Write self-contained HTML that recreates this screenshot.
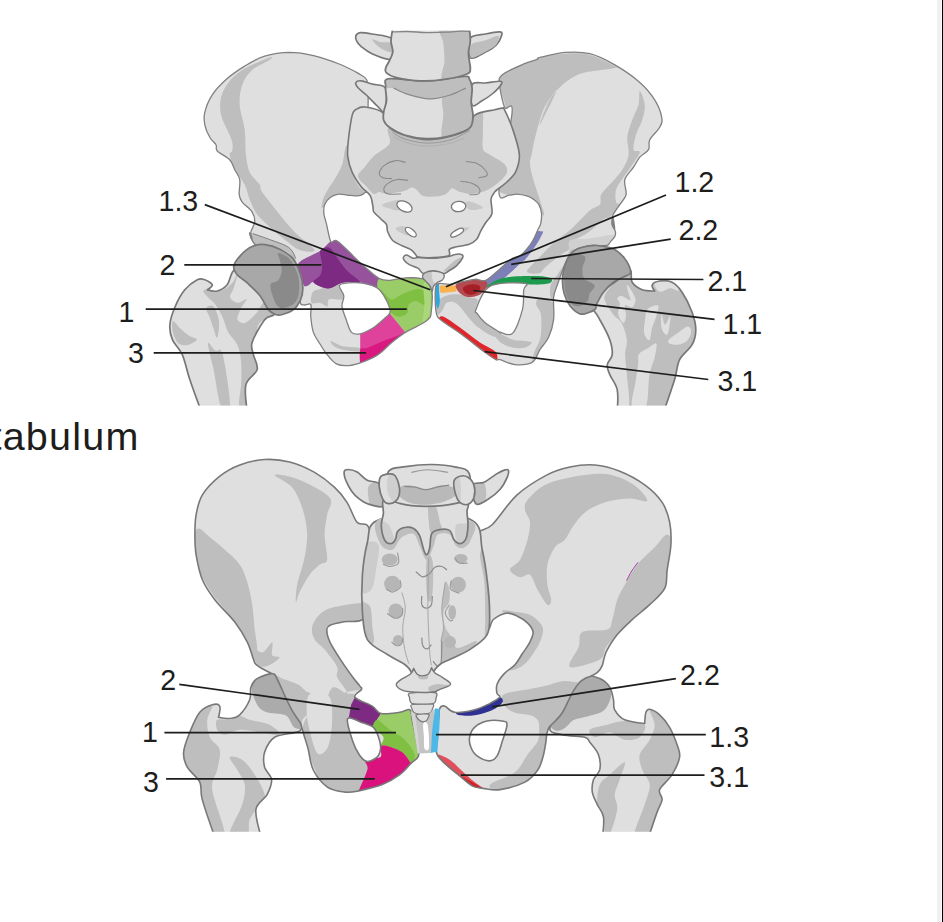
<!DOCTYPE html>
<html><head><meta charset="utf-8"><title>Pelvis</title>
<style>
html,body{margin:0;padding:0;background:#fff;overflow:hidden}
body{width:943px;height:922px;position:relative;font-family:"Liberation Sans",sans-serif}
svg{position:absolute;left:0;top:0}
svg text{font-family:"Liberation Sans",sans-serif;fill:#1d1d1b}
.cap{position:absolute;left:-9.6px;top:410.5px;font-size:39.5px;line-height:50px;letter-spacing:1.25px;color:#1d1d1b;white-space:nowrap}
.bar{position:absolute;top:0;height:922px}
</style></head><body>
<div class="cap">tabulum</div>
<div class="bar" style="left:937px;width:4px;background:#f0f0f0"></div>
<div class="bar" style="left:942px;width:1px;background:#000"></div>
<svg width="943" height="922" viewBox="0 0 943 922">
<clipPath id="c1"><path d="M289.6,52.4 C281.3,52.5 272.1,53.9 264.7,56.2 C257.2,58.5 250.9,62.4 244.7,66.1 C238.5,69.9 232.6,73.8 227.2,78.6 C221.8,83.4 216.0,89.2 212.3,94.8 C208.5,100.4 206.0,107.3 204.8,112.3 C203.5,117.3 204.0,120.6 204.8,124.8 C205.6,128.9 207.9,133.9 209.8,137.2 C211.6,140.6 214.8,142.4 216.0,144.7 C217.3,147.0 215.0,148.5 217.3,151.0 C219.5,153.4 226.8,156.6 229.7,159.7 C232.6,162.8 233.1,166.3 234.7,169.7 C236.4,173.0 239.0,175.5 239.7,179.6 C240.5,183.8 238.8,190.9 239.2,194.6 C239.6,198.3 240.0,199.2 242.2,202.1 C244.4,205.0 250.1,208.7 252.2,212.1 C254.3,215.4 254.9,218.7 254.7,222.0 C254.5,225.4 251.3,229.1 250.9,232.0 C250.5,234.9 252.4,239.4 252.2,239.5 C251.9,239.6 249.7,232.9 249.5,232.8 C249.4,232.7 250.3,236.9 251.3,238.9 C252.3,240.9 253.2,242.5 255.6,245.0 C258.1,247.4 261.4,250.9 266.0,253.6 C270.7,256.4 278.2,259.4 283.4,261.4 C288.6,263.5 294.3,261.5 297.3,265.8 C300.2,270.1 300.7,281.1 301.2,287.3 C301.8,293.5 299.8,299.9 300.4,302.9 C300.9,305.8 303.0,304.7 304.7,305.0 C306.4,305.3 309.8,302.7 310.8,304.6 C311.8,306.6 310.3,312.1 310.8,316.8 C311.2,321.4 311.8,327.8 313.4,332.4 C315.0,337.0 318.0,340.8 320.3,344.5 C322.6,348.3 324.7,351.8 327.3,354.9 C329.9,358.1 332.8,361.8 335.9,363.6 C339.1,365.4 342.3,365.8 346.4,365.7 C350.4,365.6 355.0,364.5 360.2,362.8 C365.4,361.0 372.4,358.3 377.6,354.9 C382.8,351.6 386.8,346.6 391.5,342.8 C396.1,339.0 400.0,335.7 405.4,332.4 C410.7,329.1 419.7,325.2 423.6,322.8 C427.5,320.5 427.6,319.8 428.8,318.5 C430.0,317.2 430.3,318.7 430.9,315.0 C431.4,311.4 432.3,301.3 432.3,296.5 C432.3,291.7 431.7,288.8 430.9,286.2 C430.0,283.7 428.5,282.5 427.0,281.2 C425.6,279.9 425.6,279.1 422.0,278.6 C418.4,278.0 410.7,277.6 405.4,277.9 C400.0,278.2 394.1,280.2 389.7,280.3 C385.4,280.4 383.1,280.5 379.3,278.6 C375.6,276.7 371.2,272.5 367.2,269.0 C363.1,265.6 358.8,261.4 355.0,257.8 C351.3,254.2 347.8,250.2 344.6,247.4 C341.4,244.5 338.3,241.4 335.9,240.4 C333.6,239.4 332.3,244.1 330.7,241.3 C329.2,238.5 327.6,228.4 326.4,223.7 C325.3,219.0 324.1,216.5 323.8,213.3 C323.6,210.1 323.7,207.2 324.7,204.6 C325.7,202.0 327.6,199.4 329.9,197.7 C332.2,195.9 335.7,194.6 338.6,194.2 C341.5,193.8 344.4,194.8 347.3,195.1 C350.2,195.4 353.2,196.2 355.9,195.9 C358.7,195.7 361.7,195.8 363.8,193.5 C365.8,191.2 367.4,195.8 368.1,182.1 C368.8,168.3 368.1,126.1 368.1,111.1 C368.1,96.1 368.3,97.3 368.1,92.0 C367.8,86.8 368.3,82.8 366.6,79.7 C364.9,76.5 362.2,75.7 357.9,73.1 C353.5,70.6 347.8,67.4 340.5,64.5 C333.3,61.6 323.0,57.8 314.5,55.8 C306.0,53.8 297.9,52.4 289.6,52.4 Z M339.4,285.5 C340.1,283.4 344.0,283.3 348.1,282.9 C352.1,282.6 358.8,282.6 363.7,283.4 C368.6,284.3 374.1,285.9 377.6,288.1 C381.1,290.4 382.5,293.5 384.5,296.8 C386.6,300.1 388.9,305.3 389.7,308.1 C390.6,310.8 390.6,311.6 389.7,313.3 C388.9,315.0 387.1,316.2 384.5,318.5 C381.9,320.8 378.2,324.6 374.1,327.2 C370.1,329.7 364.0,332.9 360.2,333.8 C356.5,334.6 353.9,334.6 351.6,332.4 C349.2,330.1 347.9,324.6 346.4,320.2 C344.8,315.9 342.5,310.4 342.0,306.4 C341.6,302.3 344.2,299.4 343.8,295.9 C343.3,292.5 338.7,287.7 339.4,285.5 Z" fill-rule="evenodd" clip-rule="evenodd"/></clipPath>
<path d="M289.6,52.4 C281.3,52.5 272.1,53.9 264.7,56.2 C257.2,58.5 250.9,62.4 244.7,66.1 C238.5,69.9 232.6,73.8 227.2,78.6 C221.8,83.4 216.0,89.2 212.3,94.8 C208.5,100.4 206.0,107.3 204.8,112.3 C203.5,117.3 204.0,120.6 204.8,124.8 C205.6,128.9 207.9,133.9 209.8,137.2 C211.6,140.6 214.8,142.4 216.0,144.7 C217.3,147.0 215.0,148.5 217.3,151.0 C219.5,153.4 226.8,156.6 229.7,159.7 C232.6,162.8 233.1,166.3 234.7,169.7 C236.4,173.0 239.0,175.5 239.7,179.6 C240.5,183.8 238.8,190.9 239.2,194.6 C239.6,198.3 240.0,199.2 242.2,202.1 C244.4,205.0 250.1,208.7 252.2,212.1 C254.3,215.4 254.9,218.7 254.7,222.0 C254.5,225.4 251.3,229.1 250.9,232.0 C250.5,234.9 252.4,239.4 252.2,239.5 C251.9,239.6 249.7,232.9 249.5,232.8 C249.4,232.7 250.3,236.9 251.3,238.9 C252.3,240.9 253.2,242.5 255.6,245.0 C258.1,247.4 261.4,250.9 266.0,253.6 C270.7,256.4 278.2,259.4 283.4,261.4 C288.6,263.5 294.3,261.5 297.3,265.8 C300.2,270.1 300.7,281.1 301.2,287.3 C301.8,293.5 299.8,299.9 300.4,302.9 C300.9,305.8 303.0,304.7 304.7,305.0 C306.4,305.3 309.8,302.7 310.8,304.6 C311.8,306.6 310.3,312.1 310.8,316.8 C311.2,321.4 311.8,327.8 313.4,332.4 C315.0,337.0 318.0,340.8 320.3,344.5 C322.6,348.3 324.7,351.8 327.3,354.9 C329.9,358.1 332.8,361.8 335.9,363.6 C339.1,365.4 342.3,365.8 346.4,365.7 C350.4,365.6 355.0,364.5 360.2,362.8 C365.4,361.0 372.4,358.3 377.6,354.9 C382.8,351.6 386.8,346.6 391.5,342.8 C396.1,339.0 400.0,335.7 405.4,332.4 C410.7,329.1 419.7,325.2 423.6,322.8 C427.5,320.5 427.6,319.8 428.8,318.5 C430.0,317.2 430.3,318.7 430.9,315.0 C431.4,311.4 432.3,301.3 432.3,296.5 C432.3,291.7 431.7,288.8 430.9,286.2 C430.0,283.7 428.5,282.5 427.0,281.2 C425.6,279.9 425.6,279.1 422.0,278.6 C418.4,278.0 410.7,277.6 405.4,277.9 C400.0,278.2 394.1,280.2 389.7,280.3 C385.4,280.4 383.1,280.5 379.3,278.6 C375.6,276.7 371.2,272.5 367.2,269.0 C363.1,265.6 358.8,261.4 355.0,257.8 C351.3,254.2 347.8,250.2 344.6,247.4 C341.4,244.5 338.3,241.4 335.9,240.4 C333.6,239.4 332.3,244.1 330.7,241.3 C329.2,238.5 327.6,228.4 326.4,223.7 C325.3,219.0 324.1,216.5 323.8,213.3 C323.6,210.1 323.7,207.2 324.7,204.6 C325.7,202.0 327.6,199.4 329.9,197.7 C332.2,195.9 335.7,194.6 338.6,194.2 C341.5,193.8 344.4,194.8 347.3,195.1 C350.2,195.4 353.2,196.2 355.9,195.9 C358.7,195.7 361.7,195.8 363.8,193.5 C365.8,191.2 367.4,195.8 368.1,182.1 C368.8,168.3 368.1,126.1 368.1,111.1 C368.1,96.1 368.3,97.3 368.1,92.0 C367.8,86.8 368.3,82.8 366.6,79.7 C364.9,76.5 362.2,75.7 357.9,73.1 C353.5,70.6 347.8,67.4 340.5,64.5 C333.3,61.6 323.0,57.8 314.5,55.8 C306.0,53.8 297.9,52.4 289.6,52.4 Z M339.4,285.5 C340.1,283.4 344.0,283.3 348.1,282.9 C352.1,282.6 358.8,282.6 363.7,283.4 C368.6,284.3 374.1,285.9 377.6,288.1 C381.1,290.4 382.5,293.5 384.5,296.8 C386.6,300.1 388.9,305.3 389.7,308.1 C390.6,310.8 390.6,311.6 389.7,313.3 C388.9,315.0 387.1,316.2 384.5,318.5 C381.9,320.8 378.2,324.6 374.1,327.2 C370.1,329.7 364.0,332.9 360.2,333.8 C356.5,334.6 353.9,334.6 351.6,332.4 C349.2,330.1 347.9,324.6 346.4,320.2 C344.8,315.9 342.5,310.4 342.0,306.4 C341.6,302.3 344.2,299.4 343.8,295.9 C343.3,292.5 338.7,287.7 339.4,285.5 Z" fill="#dfdfdf" fill-rule="evenodd" clip-rule="evenodd"/>
<g clip-path="url(#c1)">
<path d="M269.6,57.4 C265.5,58.9 251.3,64.7 244.7,68.6 C238.0,72.6 233.7,76.3 229.7,81.1 C225.8,85.9 222.5,91.7 221.0,97.3 C219.5,102.9 220.0,109.4 221.0,114.8 C222.0,120.2 225.4,125.2 227.2,129.8 C229.1,134.3 231.4,138.7 232.2,142.2 C233.1,145.8 232.6,148.9 232.2,151.0 C231.8,153.0 229.3,151.6 229.7,154.7 C230.1,157.8 232.2,164.7 234.7,169.7 C237.2,174.7 242.2,179.6 244.7,184.6 C247.2,189.6 247.6,194.6 249.7,199.6 C251.8,204.6 253.8,210.0 257.2,214.6 C260.5,219.1 265.1,222.9 269.6,227.0 C274.2,231.2 279.6,235.7 284.6,239.5 C289.6,243.3 294.6,248.2 299.6,250.0 C304.6,251.7 315.4,253.0 314.5,250.0 C313.7,247.0 300.4,237.9 294.6,232.0 C288.8,226.1 285.0,221.2 279.6,214.6 C274.2,207.9 265.5,197.1 262.2,192.1 C258.8,187.1 261.7,188.0 259.7,184.6 C257.6,181.3 252.0,177.1 249.7,172.2 C247.4,167.2 246.8,161.8 245.9,154.7 C245.1,147.6 245.7,138.1 244.7,129.8 C243.7,121.4 240.1,112.3 239.7,104.8 C239.3,97.3 240.1,90.7 242.2,84.9 C244.3,79.0 247.6,74.0 252.2,69.9 C256.8,65.7 266.7,62.0 269.6,59.9 C272.6,57.8 273.8,56.0 269.6,57.4 Z" fill="#bebebe"/>
<path d="M345.5,147.4 C344.5,150.2 343.8,159.5 342.1,164.7 C340.3,169.9 337.4,174.5 335.1,178.6 C332.8,182.6 330.2,185.5 328.2,189.0 C326.2,192.5 324.0,196.2 323.0,199.4 C322.0,202.6 320.9,208.4 322.1,208.1 C323.3,207.8 327.2,200.0 329.9,197.7 C332.7,195.4 335.7,194.6 338.6,194.2 C341.5,193.8 344.4,194.8 347.3,195.1 C350.2,195.4 352.8,196.4 355.9,195.9 C359.1,195.5 365.8,193.9 366.4,192.5 C366.9,191.0 361.7,190.2 359.4,187.3 C357.1,184.4 354.1,179.5 352.5,175.1 C350.9,170.8 350.6,165.9 349.9,161.2 C349.1,156.6 348.9,149.7 348.1,147.4 C347.4,145.0 346.5,144.5 345.5,147.4 Z" fill="#bebebe"/>
<path d="M253.0,233.7 C256.1,234.0 264.9,237.7 270.4,239.8 C275.9,241.8 282.4,243.9 286.0,245.8 C289.6,247.7 290.5,249.0 292.1,251.0 C293.7,253.1 295.2,256.2 295.5,258.0 C295.8,259.7 295.0,262.3 293.8,261.4 C292.6,260.6 291.8,255.1 288.6,252.8 C285.4,250.5 280.2,248.7 274.7,247.6 C269.2,246.4 259.4,247.4 255.6,245.8 C251.9,244.2 252.6,240.0 252.1,238.0 C251.7,236.0 250.0,233.4 253.0,233.7 Z" fill="#bebebe"/>
<path d="M312.5,292.5 C314.0,290.2 315.8,290.3 320.3,289.0 C324.8,287.7 335.7,283.5 339.4,284.7 C343.2,285.8 342.6,293.5 342.9,295.9 C343.2,298.4 343.5,298.8 341.1,299.4 C338.8,300.0 331.3,298.3 329.0,299.4 C326.7,300.6 328.7,305.8 327.3,306.4 C325.8,306.9 322.9,303.5 320.3,302.9 C317.7,302.3 313.0,304.6 311.6,302.9 C310.3,301.1 311.1,294.8 312.5,292.5 Z" fill="#bebebe"/>
<path d="M330.7,341.1 C332.2,341.1 338.0,345.1 342.9,346.3 C347.8,347.4 357.3,347.1 360.2,348.0 C363.1,348.9 363.1,351.2 360.2,351.5 C357.3,351.8 347.2,350.6 342.9,349.7 C338.5,348.9 336.2,347.7 334.2,346.3 C332.2,344.8 329.3,341.1 330.7,341.1 Z" fill="#bebebe"/>
<path d="M298.6,263.0 C301.8,258.9 315.0,254.4 320.3,250.8 C325.7,247.2 328.1,243.0 330.7,241.3 C333.3,239.5 333.6,239.4 335.9,240.4 C338.3,241.4 341.4,244.5 344.6,247.4 C347.8,250.2 351.3,254.2 355.0,257.8 C358.8,261.4 363.1,265.6 367.2,269.0 C371.2,272.5 377.6,275.6 379.3,278.6 C381.1,281.6 380.2,286.5 377.6,287.3 C375.0,288.0 368.6,283.8 363.7,282.9 C358.8,282.1 352.1,281.9 348.1,282.1 C344.0,282.2 342.3,282.8 339.4,283.8 C336.5,284.8 333.6,287.6 330.7,288.1 C327.8,288.7 325.0,288.3 322.1,287.3 C319.2,286.3 315.7,282.3 313.4,282.1 C311.1,281.8 309.8,285.0 308.2,285.5 C306.6,286.1 305.0,287.3 303.8,285.5 C302.7,283.8 302.1,278.9 301.2,275.1 C300.4,271.4 295.5,267.0 298.6,263.0 Z" fill="#97529d"/>
<path d="M320.3,250.8 C321.5,247.9 326.4,246.5 329.0,247.4 C331.6,248.2 333.1,252.3 335.9,256.0 C338.8,259.8 342.3,265.6 346.4,269.9 C350.4,274.3 359.9,280.0 360.2,282.1 C360.5,284.1 351.6,281.8 348.1,282.1 C344.6,282.3 342.3,282.8 339.4,283.8 C336.5,284.8 333.6,287.6 330.7,288.1 C327.8,288.7 325.0,288.3 322.1,287.3 C319.2,286.3 313.7,284.1 313.4,282.1 C313.1,280.0 318.9,278.0 320.3,275.1 C321.8,272.2 322.1,268.8 322.1,264.7 C322.1,260.7 319.2,253.7 320.3,250.8 Z" fill="#7d2a83"/>
<path d="M379.3,278.6 C381.4,277.3 386.0,280.7 389.7,280.3 C393.5,280.0 397.0,277.1 401.9,276.5 C406.8,275.9 414.6,276.0 419.2,276.5 C423.9,277.0 427.0,277.7 429.7,279.5 C432.3,281.3 434.0,283.4 434.9,287.3 C435.7,291.2 435.1,298.0 434.9,302.9 C434.6,307.8 434.9,313.2 433.1,316.8 C431.4,320.4 429.1,322.0 424.4,324.6 C419.8,327.2 405.4,332.4 405.4,332.4 C405.4,332.4 389.7,313.3 389.7,313.3 C389.7,313.3 390.6,310.8 389.7,308.1 C388.9,305.3 386.6,300.1 384.5,296.8 C382.5,293.5 378.5,291.2 377.6,288.1 C376.7,285.1 377.3,279.9 379.3,278.6 Z" fill="#9acc67"/>
<path d="M381.1,289.9 C382.2,290.3 388.0,298.7 391.5,299.4 C394.9,300.1 397.5,295.9 401.9,294.2 C406.2,292.5 413.7,289.3 417.5,289.0 C421.3,288.7 423.3,289.9 424.4,292.5 C425.6,295.1 425.9,303.2 424.4,304.6 C423.0,306.1 418.4,301.1 415.8,301.1 C413.2,301.1 410.3,302.6 408.8,304.6 C407.4,306.6 408.8,311.3 407.1,313.3 C405.4,315.3 401.3,317.2 398.4,316.8 C395.5,316.3 391.5,313.0 389.7,310.7 C388.0,308.4 388.9,305.2 388.0,302.9 C387.1,300.6 385.7,299.0 384.5,296.8 C383.4,294.6 379.9,289.4 381.1,289.9 Z" fill="#7fc043"/>
<path d="M424.4,282.1 C425.2,280.9 426.9,281.5 427.9,283.8 C428.9,286.1 430.2,291.0 430.5,295.9 C430.8,300.9 430.4,309.2 429.7,313.3 C428.9,317.3 427.3,318.8 426.2,320.2 C425.0,321.7 423.0,324.6 422.7,322.0 C422.4,319.4 424.3,309.8 424.4,304.6 C424.6,299.4 423.6,294.5 423.6,290.7 C423.6,287.0 423.7,283.2 424.4,282.1 Z" fill="#aad77c"/>
<path d="M389.7,313.3 C389.7,313.3 405.4,332.4 405.4,332.4 C405.4,332.4 396.1,340.5 391.5,344.5 C386.8,348.6 382.8,353.4 377.6,356.7 C372.4,360.0 360.2,364.5 360.2,364.5 C360.2,364.5 360.2,332.4 360.2,332.4 C360.2,332.4 370.1,328.8 374.1,326.3 C378.2,323.9 381.9,319.8 384.5,317.6 C387.1,315.5 389.7,313.3 389.7,313.3 Z" fill="#df429a"/>
<path d="M360.2,349.7 C361.4,347.0 363.7,349.3 367.2,348.0 C370.7,346.7 376.4,343.8 381.1,341.9 C385.7,340.1 390.9,338.3 394.9,336.7 C399.0,335.1 405.4,332.4 405.4,332.4 C405.4,332.4 396.1,340.5 391.5,344.5 C386.8,348.6 382.8,353.4 377.6,356.7 C372.4,360.0 360.2,364.5 360.2,364.5 C360.2,364.5 359.1,352.5 360.2,349.7 Z" fill="#d91980"/>
</g>
<path d="M289.6,52.4 C281.3,52.5 272.1,53.9 264.7,56.2 C257.2,58.5 250.9,62.4 244.7,66.1 C238.5,69.9 232.6,73.8 227.2,78.6 C221.8,83.4 216.0,89.2 212.3,94.8 C208.5,100.4 206.0,107.3 204.8,112.3 C203.5,117.3 204.0,120.6 204.8,124.8 C205.6,128.9 207.9,133.9 209.8,137.2 C211.6,140.6 214.8,142.4 216.0,144.7 C217.3,147.0 215.0,148.5 217.3,151.0 C219.5,153.4 226.8,156.6 229.7,159.7 C232.6,162.8 233.1,166.3 234.7,169.7 C236.4,173.0 239.0,175.5 239.7,179.6 C240.5,183.8 238.8,190.9 239.2,194.6 C239.6,198.3 240.0,199.2 242.2,202.1 C244.4,205.0 250.1,208.7 252.2,212.1 C254.3,215.4 254.9,218.7 254.7,222.0 C254.5,225.4 251.3,229.1 250.9,232.0 C250.5,234.9 252.4,239.4 252.2,239.5 C251.9,239.6 249.7,232.9 249.5,232.8 C249.4,232.7 250.3,236.9 251.3,238.9 C252.3,240.9 253.2,242.5 255.6,245.0 C258.1,247.4 261.4,250.9 266.0,253.6 C270.7,256.4 278.2,259.4 283.4,261.4 C288.6,263.5 294.3,261.5 297.3,265.8 C300.2,270.1 300.7,281.1 301.2,287.3 C301.8,293.5 299.8,299.9 300.4,302.9 C300.9,305.8 303.0,304.7 304.7,305.0 C306.4,305.3 309.8,302.7 310.8,304.6 C311.8,306.6 310.3,312.1 310.8,316.8 C311.2,321.4 311.8,327.8 313.4,332.4 C315.0,337.0 318.0,340.8 320.3,344.5 C322.6,348.3 324.7,351.8 327.3,354.9 C329.9,358.1 332.8,361.8 335.9,363.6 C339.1,365.4 342.3,365.8 346.4,365.7 C350.4,365.6 355.0,364.5 360.2,362.8 C365.4,361.0 372.4,358.3 377.6,354.9 C382.8,351.6 386.8,346.6 391.5,342.8 C396.1,339.0 400.0,335.7 405.4,332.4 C410.7,329.1 419.7,325.2 423.6,322.8 C427.5,320.5 427.6,319.8 428.8,318.5 C430.0,317.2 430.3,318.7 430.9,315.0 C431.4,311.4 432.3,301.3 432.3,296.5 C432.3,291.7 431.7,288.8 430.9,286.2 C430.0,283.7 428.5,282.5 427.0,281.2 C425.6,279.9 425.6,279.1 422.0,278.6 C418.4,278.0 410.7,277.6 405.4,277.9 C400.0,278.2 394.1,280.2 389.7,280.3 C385.4,280.4 383.1,280.5 379.3,278.6 C375.6,276.7 371.2,272.5 367.2,269.0 C363.1,265.6 358.8,261.4 355.0,257.8 C351.3,254.2 347.8,250.2 344.6,247.4 C341.4,244.5 338.3,241.4 335.9,240.4 C333.6,239.4 332.3,244.1 330.7,241.3 C329.2,238.5 327.6,228.4 326.4,223.7 C325.3,219.0 324.1,216.5 323.8,213.3 C323.6,210.1 323.7,207.2 324.7,204.6 C325.7,202.0 327.6,199.4 329.9,197.7 C332.2,195.9 335.7,194.6 338.6,194.2 C341.5,193.8 344.4,194.8 347.3,195.1 C350.2,195.4 353.2,196.2 355.9,195.9 C358.7,195.7 361.7,195.8 363.8,193.5 C365.8,191.2 367.4,195.8 368.1,182.1 C368.8,168.3 368.1,126.1 368.1,111.1 C368.1,96.1 368.3,97.3 368.1,92.0 C367.8,86.8 368.3,82.8 366.6,79.7 C364.9,76.5 362.2,75.7 357.9,73.1 C353.5,70.6 347.8,67.4 340.5,64.5 C333.3,61.6 323.0,57.8 314.5,55.8 C306.0,53.8 297.9,52.4 289.6,52.4 Z M339.4,285.5 C340.1,283.4 344.0,283.3 348.1,282.9 C352.1,282.6 358.8,282.6 363.7,283.4 C368.6,284.3 374.1,285.9 377.6,288.1 C381.1,290.4 382.5,293.5 384.5,296.8 C386.6,300.1 388.9,305.3 389.7,308.1 C390.6,310.8 390.6,311.6 389.7,313.3 C388.9,315.0 387.1,316.2 384.5,318.5 C381.9,320.8 378.2,324.6 374.1,327.2 C370.1,329.7 364.0,332.9 360.2,333.8 C356.5,334.6 353.9,334.6 351.6,332.4 C349.2,330.1 347.9,324.6 346.4,320.2 C344.8,315.9 342.5,310.4 342.0,306.4 C341.6,302.3 344.2,299.4 343.8,295.9 C343.3,292.5 338.7,287.7 339.4,285.5 Z" fill="none" stroke="#808080" stroke-width="1.3" stroke-linejoin="round"/>
<path d="M253.0,233.7 C255.9,234.7 264.9,237.7 270.4,239.8 C275.9,241.8 282.4,243.9 286.0,245.8 C289.6,247.7 290.5,249.0 292.1,251.0 C293.7,253.1 295.0,256.8 295.5,258.0" fill="none" stroke="#808080" stroke-width="1.0" stroke-linejoin="round" stroke-linecap="round"/>
<clipPath id="c2"><path d="M540.0,57.4 C544.6,56.3 556.6,53.1 564.9,52.4 C573.3,51.8 581.6,51.6 589.9,53.7 C598.2,55.8 606.5,60.1 614.8,64.9 C623.1,69.7 633.1,76.5 639.8,82.4 C646.4,88.2 651.1,94.0 654.7,99.8 C658.4,105.6 660.9,112.7 661.7,117.3 C662.6,121.9 661.7,123.5 659.7,127.3 C657.7,131.0 651.6,136.0 649.8,139.7 C647.9,143.5 650.2,146.8 648.5,149.7 C646.8,152.6 642.3,154.3 639.8,157.2 C637.3,160.1 636.0,163.4 633.5,167.2 C631.0,170.9 626.1,175.1 624.8,179.6 C623.6,184.2 626.9,190.4 626.1,194.6 C625.2,198.8 622.1,200.8 619.8,204.6 C617.5,208.3 613.2,212.9 612.3,217.1 C611.5,221.2 614.7,229.7 614.8,229.5 C614.9,229.4 613.3,216.8 612.8,216.0 C612.4,215.2 611.5,222.1 612.0,224.7 C612.4,227.3 615.0,229.6 615.4,231.6 C615.9,233.7 615.4,235.1 614.6,236.9 C613.7,238.6 611.5,240.6 610.2,242.1 C608.9,243.5 609.7,245.0 606.8,245.5 C603.9,246.1 597.5,245.1 592.9,245.5 C588.3,246.0 582.5,247.0 579.0,248.1 C575.5,249.3 574.4,249.7 572.1,252.5 C569.7,255.2 567.6,259.2 565.1,264.6 C562.7,270.0 559.3,279.3 557.4,284.8 C555.5,290.2 554.3,291.4 553.6,297.3 C553.0,303.1 554.5,313.1 553.6,319.7 C552.8,326.4 550.9,332.2 548.6,337.2 C546.4,342.2 542.6,345.5 539.9,349.6 C537.2,353.8 536.6,359.6 532.4,362.1 C528.3,364.6 520.4,365.0 515.0,364.6 C509.6,364.2 503.2,360.4 500.0,359.6 C496.8,358.8 498.4,360.9 495.8,359.6 C493.2,358.4 490.2,356.3 484.6,352.1 C479.0,348.0 469.2,339.9 462.1,334.7 C455.1,329.5 446.4,324.3 442.2,321.0 C437.9,317.6 437.9,318.3 436.7,314.7 C435.5,311.2 435.3,304.5 435.2,299.8 C435.1,295.0 435.2,288.7 435.9,286.0 C436.7,283.3 437.4,283.8 439.7,283.5 C442.0,283.2 446.8,284.4 449.7,284.3 C452.6,284.2 453.0,283.6 457.1,282.8 C461.3,282.0 469.8,279.7 474.6,279.3 C479.4,278.9 481.7,282.0 485.8,280.3 C490.0,278.6 495.2,272.9 499.6,269.3 C503.9,265.7 508.6,260.8 512.0,258.6 C515.4,256.4 517.5,257.5 520.0,255.9 C522.5,254.3 524.8,251.6 526.9,249.0 C529.1,246.4 531.3,243.4 533.0,240.3 C534.8,237.3 536.1,233.6 537.4,230.8 C538.6,228.0 540.0,226.6 540.7,223.7 C541.3,220.8 541.8,216.5 541.5,213.3 C541.2,210.1 540.2,206.9 538.9,204.6 C537.6,202.3 535.7,200.9 533.7,199.4 C531.7,198.0 529.7,196.8 526.8,195.9 C523.9,195.1 519.2,194.4 516.4,194.2 C513.5,194.1 512.3,195.7 509.4,195.1 C506.5,194.5 498.6,204.5 499.0,190.7 C499.5,176.9 511.2,126.2 512.1,112.3 C513.1,98.4 506.7,111.9 504.6,107.3 C502.6,102.7 500.1,90.3 499.6,84.9 C499.2,79.4 498.0,78.4 502.1,74.9 C506.3,71.3 518.8,66.2 524.6,63.7 C530.4,61.1 534.5,60.5 537.1,59.4 C539.6,58.4 535.4,58.6 540.0,57.4 Z M475.9,309.7 C477.3,305.8 481.9,294.1 485.8,289.8 C489.8,285.4 492.9,284.6 499.6,283.5 C506.2,282.5 521.7,282.5 525.7,283.5 C529.8,284.6 524.2,285.4 523.7,289.8 C523.1,294.1 524.3,302.5 522.4,309.7 C520.6,317.0 516.2,329.7 512.5,333.4 C508.7,337.2 502.2,332.4 500.0,332.2 C497.8,332.0 502.1,333.8 499.6,332.2 C497.0,330.5 488.3,325.3 484.6,322.2 C480.8,319.1 478.6,315.6 477.1,313.5 C475.6,311.4 474.4,313.7 475.9,309.7 Z" fill-rule="evenodd" clip-rule="evenodd"/></clipPath>
<path d="M540.0,57.4 C544.6,56.3 556.6,53.1 564.9,52.4 C573.3,51.8 581.6,51.6 589.9,53.7 C598.2,55.8 606.5,60.1 614.8,64.9 C623.1,69.7 633.1,76.5 639.8,82.4 C646.4,88.2 651.1,94.0 654.7,99.8 C658.4,105.6 660.9,112.7 661.7,117.3 C662.6,121.9 661.7,123.5 659.7,127.3 C657.7,131.0 651.6,136.0 649.8,139.7 C647.9,143.5 650.2,146.8 648.5,149.7 C646.8,152.6 642.3,154.3 639.8,157.2 C637.3,160.1 636.0,163.4 633.5,167.2 C631.0,170.9 626.1,175.1 624.8,179.6 C623.6,184.2 626.9,190.4 626.1,194.6 C625.2,198.8 622.1,200.8 619.8,204.6 C617.5,208.3 613.2,212.9 612.3,217.1 C611.5,221.2 614.7,229.7 614.8,229.5 C614.9,229.4 613.3,216.8 612.8,216.0 C612.4,215.2 611.5,222.1 612.0,224.7 C612.4,227.3 615.0,229.6 615.4,231.6 C615.9,233.7 615.4,235.1 614.6,236.9 C613.7,238.6 611.5,240.6 610.2,242.1 C608.9,243.5 609.7,245.0 606.8,245.5 C603.9,246.1 597.5,245.1 592.9,245.5 C588.3,246.0 582.5,247.0 579.0,248.1 C575.5,249.3 574.4,249.7 572.1,252.5 C569.7,255.2 567.6,259.2 565.1,264.6 C562.7,270.0 559.3,279.3 557.4,284.8 C555.5,290.2 554.3,291.4 553.6,297.3 C553.0,303.1 554.5,313.1 553.6,319.7 C552.8,326.4 550.9,332.2 548.6,337.2 C546.4,342.2 542.6,345.5 539.9,349.6 C537.2,353.8 536.6,359.6 532.4,362.1 C528.3,364.6 520.4,365.0 515.0,364.6 C509.6,364.2 503.2,360.4 500.0,359.6 C496.8,358.8 498.4,360.9 495.8,359.6 C493.2,358.4 490.2,356.3 484.6,352.1 C479.0,348.0 469.2,339.9 462.1,334.7 C455.1,329.5 446.4,324.3 442.2,321.0 C437.9,317.6 437.9,318.3 436.7,314.7 C435.5,311.2 435.3,304.5 435.2,299.8 C435.1,295.0 435.2,288.7 435.9,286.0 C436.7,283.3 437.4,283.8 439.7,283.5 C442.0,283.2 446.8,284.4 449.7,284.3 C452.6,284.2 453.0,283.6 457.1,282.8 C461.3,282.0 469.8,279.7 474.6,279.3 C479.4,278.9 481.7,282.0 485.8,280.3 C490.0,278.6 495.2,272.9 499.6,269.3 C503.9,265.7 508.6,260.8 512.0,258.6 C515.4,256.4 517.5,257.5 520.0,255.9 C522.5,254.3 524.8,251.6 526.9,249.0 C529.1,246.4 531.3,243.4 533.0,240.3 C534.8,237.3 536.1,233.6 537.4,230.8 C538.6,228.0 540.0,226.6 540.7,223.7 C541.3,220.8 541.8,216.5 541.5,213.3 C541.2,210.1 540.2,206.9 538.9,204.6 C537.6,202.3 535.7,200.9 533.7,199.4 C531.7,198.0 529.7,196.8 526.8,195.9 C523.9,195.1 519.2,194.4 516.4,194.2 C513.5,194.1 512.3,195.7 509.4,195.1 C506.5,194.5 498.6,204.5 499.0,190.7 C499.5,176.9 511.2,126.2 512.1,112.3 C513.1,98.4 506.7,111.9 504.6,107.3 C502.6,102.7 500.1,90.3 499.6,84.9 C499.2,79.4 498.0,78.4 502.1,74.9 C506.3,71.3 518.8,66.2 524.6,63.7 C530.4,61.1 534.5,60.5 537.1,59.4 C539.6,58.4 535.4,58.6 540.0,57.4 Z M475.9,309.7 C477.3,305.8 481.9,294.1 485.8,289.8 C489.8,285.4 492.9,284.6 499.6,283.5 C506.2,282.5 521.7,282.5 525.7,283.5 C529.8,284.6 524.2,285.4 523.7,289.8 C523.1,294.1 524.3,302.5 522.4,309.7 C520.6,317.0 516.2,329.7 512.5,333.4 C508.7,337.2 502.2,332.4 500.0,332.2 C497.8,332.0 502.1,333.8 499.6,332.2 C497.0,330.5 488.3,325.3 484.6,322.2 C480.8,319.1 478.6,315.6 477.1,313.5 C475.6,311.4 474.4,313.7 475.9,309.7 Z" fill="#dfdfdf" fill-rule="evenodd" clip-rule="evenodd"/>
<g clip-path="url(#c2)">
<path d="M540.0,57.4 C546.7,56.0 556.6,54.1 564.9,53.7 C573.3,53.3 581.6,52.8 589.9,54.9 C598.2,57.0 611.1,63.9 614.8,66.1 C618.6,68.4 618.6,67.2 612.3,68.6 C606.1,70.1 587.0,70.9 577.4,74.9 C567.9,78.8 560.4,86.5 555.0,92.3 C549.6,98.2 547.5,104.4 545.0,109.8 C542.5,115.2 538.0,128.1 540.0,124.8 C542.0,121.4 556.3,92.8 557.0,89.8 C557.8,86.9 547.9,100.7 544.5,107.3 C541.2,114.0 539.1,122.3 537.1,129.8 C535.0,137.2 533.1,145.6 532.1,152.2 C531.0,158.9 528.9,159.8 530.8,169.7 C532.7,179.6 541.8,204.3 543.6,211.6 C545.4,218.8 542.3,214.5 541.5,213.3 C540.7,212.1 540.2,206.9 538.9,204.6 C537.6,202.3 535.7,200.9 533.7,199.4 C531.7,198.0 529.7,196.8 526.8,195.9 C523.9,195.1 519.2,194.4 516.4,194.2 C513.5,194.1 512.3,195.7 509.4,195.1 C506.5,194.5 499.6,192.6 499.0,190.7 C498.4,188.9 503.3,186.4 505.9,183.8 C508.5,181.2 512.6,178.9 514.6,175.1 C516.6,171.4 517.8,165.9 518.1,161.2 C518.4,156.6 517.2,152.6 516.4,147.4 C515.5,142.1 515.7,140.4 512.9,130.0 C510.1,119.6 501.4,94.2 499.6,84.9 C497.8,75.5 498.0,77.4 502.1,73.6 C506.3,69.9 518.3,65.1 524.6,62.4 C530.9,59.7 533.3,58.9 540.0,57.4 Z" fill="#bebebe"/>
<path d="M639.8,91.1 C640.8,91.1 644.3,100.0 644.8,104.8 C645.2,109.6 643.7,114.8 642.3,119.8 C640.8,124.8 637.5,129.8 636.0,134.7 C634.6,139.7 632.9,146.8 633.5,149.7 C634.2,152.6 640.0,149.7 639.8,152.2 C639.6,154.7 635.0,160.5 632.3,164.7 C629.6,168.8 626.3,173.0 623.6,177.1 C620.9,181.3 617.3,185.5 616.1,189.6 C614.8,193.8 615.5,199.4 616.1,202.1 C616.7,204.8 620.9,203.3 619.8,205.8 C618.8,208.3 612.6,214.8 609.8,217.1 C607.1,219.3 606.7,217.1 603.3,219.5 C599.9,221.9 593.8,228.5 589.4,231.6 C585.1,234.8 580.4,236.9 577.3,238.6 C574.1,240.3 571.6,240.3 570.3,242.1 C569.0,243.8 570.9,247.0 569.5,249.0 C568.0,251.0 565.6,251.3 561.6,254.2 C557.7,257.1 549.8,263.2 546.0,266.4 C542.3,269.5 542.3,272.4 539.1,273.3 C535.9,274.2 527.2,273.9 526.9,271.6 C526.7,269.2 532.7,264.3 537.4,259.4 C542.0,254.5 548.9,247.3 554.7,242.1 C560.5,236.9 566.3,233.4 572.1,228.2 C577.8,223.0 584.8,214.8 589.4,210.8 C594.0,206.9 597.9,207.3 599.9,204.6 C601.8,201.9 599.4,197.9 601.1,194.6 C602.8,191.3 606.3,188.8 609.8,184.6 C613.4,180.5 619.2,174.7 622.3,169.7 C625.4,164.7 627.7,160.1 628.6,154.7 C629.4,149.3 626.7,143.1 627.3,137.2 C627.9,131.4 630.4,125.2 632.3,119.8 C634.2,114.4 637.3,109.6 638.5,104.8 C639.8,100.0 638.7,91.1 639.8,91.1 Z" fill="#bebebe"/>
<path d="M570.3,240.3 C573.7,238.6 582.8,239.5 589.4,238.6 C596.1,237.7 606.0,235.4 610.2,235.1 C614.4,234.8 614.6,235.7 614.6,236.9 C614.6,238.0 611.5,240.6 610.2,242.1 C608.9,243.5 609.7,245.0 606.8,245.5 C603.9,246.1 597.5,245.1 592.9,245.5 C588.3,246.0 582.5,247.0 579.0,248.1 C575.5,249.3 573.7,252.3 572.1,252.5 C570.5,252.6 569.7,251.0 569.5,249.0 C569.2,247.0 567.0,242.1 570.3,240.3 Z" fill="#d0d0d0"/>
<path d="M438.9,299.7 C440.8,298.2 444.4,296.1 447.8,295.2 C451.3,294.4 456.2,294.1 459.7,294.5 C463.2,294.9 465.6,296.6 468.6,297.5 C471.6,298.3 476.3,297.6 477.5,299.7 C478.7,301.8 475.0,306.6 476.0,310.1 C477.0,313.5 480.2,317.3 483.4,320.5 C486.7,323.7 492.4,327.2 495.3,329.4 C498.3,331.6 501.3,332.6 501.3,333.8 C501.3,335.1 497.8,336.9 495.3,336.8 C492.8,336.7 489.9,335.2 486.4,333.1 C482.9,331.0 478.0,327.4 474.5,324.2 C471.1,321.0 468.1,316.8 465.6,313.8 C463.2,310.8 461.7,308.4 459.7,306.4 C457.7,304.4 456.0,302.5 453.8,301.9 C451.5,301.3 448.1,301.8 446.3,303.0 C444.6,304.1 444.6,306.7 443.4,308.6 C442.1,310.5 440.1,314.0 438.9,314.5 C437.7,315.0 436.3,313.3 435.9,311.6 C435.6,309.8 436.2,306.1 436.7,304.1 C437.2,302.2 437.1,301.2 438.9,299.7 Z" fill="#bebebe"/>
<path d="M499.8,333.8 C502.7,334.5 508.9,338.6 513.1,339.8 C517.3,341.0 521.9,340.5 525.0,341.0 C528.1,341.5 531.7,341.7 531.7,342.7 C531.7,343.8 528.1,346.7 525.0,347.5 C521.9,348.3 517.1,348.5 513.1,347.8 C509.2,347.0 504.2,345.0 501.3,343.0 C498.3,341.1 495.6,337.6 495.3,336.1 C495.1,334.5 496.8,333.2 499.8,333.8 Z" fill="#bebebe"/>
<path d="M539.9,298.2 C543.2,298.3 553.2,301.4 556.2,304.9 C559.2,308.4 558.4,314.2 557.7,319.0 C556.9,323.8 553.7,329.1 551.7,333.8 C549.8,338.5 547.8,343.0 545.8,347.2 C543.8,351.4 542.1,356.1 539.9,359.1 C537.6,362.0 533.4,366.0 532.4,365.0 C531.4,364.0 532.7,357.3 533.9,353.1 C535.2,348.9 538.6,344.2 539.9,339.8 C541.1,335.3 541.2,330.9 541.3,326.4 C541.5,322.0 541.5,316.8 540.6,313.1 C539.7,309.3 536.3,306.6 536.1,304.1 C536.0,301.7 536.5,298.1 539.9,298.2 Z" fill="#bebebe"/>
<path d="M570.4,250.1 C568.3,251.9 566.6,259.5 564.3,263.8 C562.0,268.1 559.0,272.4 556.7,275.9 C554.4,279.5 551.6,281.5 550.6,285.0 C549.6,288.6 549.6,293.9 550.6,297.2 C551.6,300.5 554.2,303.2 556.7,304.8 C559.2,306.3 564.5,308.6 565.8,306.3 C567.1,304.0 564.5,296.2 564.3,291.1 C564.0,286.0 563.5,280.5 564.3,275.9 C565.1,271.4 566.8,267.6 568.8,263.8 C570.9,260.0 576.2,255.4 576.4,253.1 C576.7,250.9 572.4,248.3 570.4,250.1 Z" fill="#bebebe"/>
<path d="M485.8,280.3 C487.7,277.4 495.2,272.9 499.6,269.3 C503.9,265.7 508.6,260.8 512.0,258.6 C515.4,256.4 517.5,257.5 520.0,255.9 C522.5,254.3 524.8,251.6 526.9,249.0 C529.1,246.4 531.3,243.4 533.0,240.3 C534.8,237.3 537.4,230.8 537.4,230.8 C537.4,230.8 543.4,231.6 543.4,231.6 C543.4,231.6 541.0,237.1 539.1,240.3 C537.2,243.5 534.5,247.6 532.1,250.7 C529.8,253.9 527.2,257.2 525.2,259.4 C523.2,261.6 522.6,261.4 520.0,263.8 C517.4,266.1 513.4,270.3 509.5,273.6 C505.7,276.9 500.6,281.3 497.1,283.5 C493.5,285.7 490.2,287.3 488.3,286.8 C486.5,286.2 484.0,283.2 485.8,280.3 Z" fill="#7d80b8"/>
<path d="M487.1,286.0 C488.7,284.6 495.0,280.6 499.6,279.0 C504.1,277.5 509.4,277.1 514.5,276.6 C519.6,276.1 527.3,276.2 530.0,276.1 C532.6,275.9 528.3,275.9 530.4,275.9 C532.5,275.9 539.1,275.8 542.6,276.2 C546.0,276.7 549.9,277.4 551.2,278.5 C552.5,279.6 552.4,281.8 550.4,282.8 C548.3,283.9 542.4,284.3 539.1,284.6 C535.8,284.9 534.9,284.6 530.4,284.6 C525.9,284.5 518.8,283.8 512.0,284.3 C505.2,284.8 493.7,287.5 489.6,287.8 C485.4,288.1 485.4,287.5 487.1,286.0 Z" fill="#1c9b4e"/>
<path d="M439.8,285.6 L456.4,285.6 L456.4,291.4 L441.1,292.9 L439.8,291.4 Z" fill="#f9b24e"/>
<path d="M434.7,283.1 C435.5,282.0 437.8,280.8 438.5,282.2 C439.3,283.6 439.0,288.1 439.2,291.4 C439.4,294.6 440.0,298.7 439.8,301.5 C439.6,304.4 438.5,308.1 437.9,308.5 C437.3,309.0 436.5,306.1 436.0,304.1 C435.5,302.1 435.1,299.0 434.7,296.4 C434.3,293.9 433.7,291.0 433.7,288.8 C433.7,286.6 433.9,284.2 434.7,283.1 Z" fill="#2ea7df"/>
<path d="M457.1,283.5 C460.1,281.9 469.8,280.2 474.6,279.8 C479.4,279.4 483.8,279.8 485.8,281.0 C487.8,282.3 487.6,285.0 486.6,287.3 C485.5,289.6 482.4,293.1 479.6,294.8 C476.8,296.4 472.5,297.3 469.6,297.3 C466.7,297.3 464.2,296.0 462.1,294.8 C460.1,293.5 458.0,291.6 457.1,289.8 C456.3,287.9 454.2,285.2 457.1,283.5 Z" fill="#b34a50"/>
<path d="M463.4,287.3 C464.5,285.9 469.4,284.5 472.1,284.3 C474.8,284.1 478.4,284.9 479.6,286.0 C480.8,287.2 480.3,289.6 479.1,291.0 C477.8,292.5 474.4,294.5 472.1,294.8 C469.8,295.1 466.6,294.0 465.1,292.8 C463.7,291.5 462.2,288.7 463.4,287.3 Z" fill="#a71f26"/>
<path d="M439.7,317.2 C440.5,316.4 441.3,315.6 444.7,317.2 C448.0,318.9 453.8,323.0 459.6,327.2 C465.5,331.3 473.6,338.0 479.6,342.2 C485.6,346.3 493.1,348.8 495.8,352.1 C498.5,355.5 497.7,361.7 495.8,362.1 C493.9,362.5 490.2,358.8 484.6,354.6 C479.0,350.5 469.6,342.6 462.1,337.2 C454.7,331.8 443.4,325.5 439.7,322.2 C435.9,318.9 438.9,318.0 439.7,317.2 Z" fill="#e0262b"/>
</g>
<path d="M540.0,57.4 C544.6,56.3 556.6,53.1 564.9,52.4 C573.3,51.8 581.6,51.6 589.9,53.7 C598.2,55.8 606.5,60.1 614.8,64.9 C623.1,69.7 633.1,76.5 639.8,82.4 C646.4,88.2 651.1,94.0 654.7,99.8 C658.4,105.6 660.9,112.7 661.7,117.3 C662.6,121.9 661.7,123.5 659.7,127.3 C657.7,131.0 651.6,136.0 649.8,139.7 C647.9,143.5 650.2,146.8 648.5,149.7 C646.8,152.6 642.3,154.3 639.8,157.2 C637.3,160.1 636.0,163.4 633.5,167.2 C631.0,170.9 626.1,175.1 624.8,179.6 C623.6,184.2 626.9,190.4 626.1,194.6 C625.2,198.8 622.1,200.8 619.8,204.6 C617.5,208.3 613.2,212.9 612.3,217.1 C611.5,221.2 614.7,229.7 614.8,229.5 C614.9,229.4 613.3,216.8 612.8,216.0 C612.4,215.2 611.5,222.1 612.0,224.7 C612.4,227.3 615.0,229.6 615.4,231.6 C615.9,233.7 615.4,235.1 614.6,236.9 C613.7,238.6 611.5,240.6 610.2,242.1 C608.9,243.5 609.7,245.0 606.8,245.5 C603.9,246.1 597.5,245.1 592.9,245.5 C588.3,246.0 582.5,247.0 579.0,248.1 C575.5,249.3 574.4,249.7 572.1,252.5 C569.7,255.2 567.6,259.2 565.1,264.6 C562.7,270.0 559.3,279.3 557.4,284.8 C555.5,290.2 554.3,291.4 553.6,297.3 C553.0,303.1 554.5,313.1 553.6,319.7 C552.8,326.4 550.9,332.2 548.6,337.2 C546.4,342.2 542.6,345.5 539.9,349.6 C537.2,353.8 536.6,359.6 532.4,362.1 C528.3,364.6 520.4,365.0 515.0,364.6 C509.6,364.2 503.2,360.4 500.0,359.6 C496.8,358.8 498.4,360.9 495.8,359.6 C493.2,358.4 490.2,356.3 484.6,352.1 C479.0,348.0 469.2,339.9 462.1,334.7 C455.1,329.5 446.4,324.3 442.2,321.0 C437.9,317.6 437.9,318.3 436.7,314.7 C435.5,311.2 435.3,304.5 435.2,299.8 C435.1,295.0 435.2,288.7 435.9,286.0 C436.7,283.3 437.4,283.8 439.7,283.5 C442.0,283.2 446.8,284.4 449.7,284.3 C452.6,284.2 453.0,283.6 457.1,282.8 C461.3,282.0 469.8,279.7 474.6,279.3 C479.4,278.9 481.7,282.0 485.8,280.3 C490.0,278.6 495.2,272.9 499.6,269.3 C503.9,265.7 508.6,260.8 512.0,258.6 C515.4,256.4 517.5,257.5 520.0,255.9 C522.5,254.3 524.8,251.6 526.9,249.0 C529.1,246.4 531.3,243.4 533.0,240.3 C534.8,237.3 536.1,233.6 537.4,230.8 C538.6,228.0 540.0,226.6 540.7,223.7 C541.3,220.8 541.8,216.5 541.5,213.3 C541.2,210.1 540.2,206.9 538.9,204.6 C537.6,202.3 535.7,200.9 533.7,199.4 C531.7,198.0 529.7,196.8 526.8,195.9 C523.9,195.1 519.2,194.4 516.4,194.2 C513.5,194.1 512.3,195.7 509.4,195.1 C506.5,194.5 498.6,204.5 499.0,190.7 C499.5,176.9 511.2,126.2 512.1,112.3 C513.1,98.4 506.7,111.9 504.6,107.3 C502.6,102.7 500.1,90.3 499.6,84.9 C499.2,79.4 498.0,78.4 502.1,74.9 C506.3,71.3 518.8,66.2 524.6,63.7 C530.4,61.1 534.5,60.5 537.1,59.4 C539.6,58.4 535.4,58.6 540.0,57.4 Z M475.9,309.7 C477.3,305.8 481.9,294.1 485.8,289.8 C489.8,285.4 492.9,284.6 499.6,283.5 C506.2,282.5 521.7,282.5 525.7,283.5 C529.8,284.6 524.2,285.4 523.7,289.8 C523.1,294.1 524.3,302.5 522.4,309.7 C520.6,317.0 516.2,329.7 512.5,333.4 C508.7,337.2 502.2,332.4 500.0,332.2 C497.8,332.0 502.1,333.8 499.6,332.2 C497.0,330.5 488.3,325.3 484.6,322.2 C480.8,319.1 478.6,315.6 477.1,313.5 C475.6,311.4 474.4,313.7 475.9,309.7 Z" fill="none" stroke="#808080" stroke-width="1.3" stroke-linejoin="round"/>
<clipPath id="c3"><path d="M352.2,115.1 C353.4,110.4 353.7,111.1 355.8,109.7 C357.9,108.4 360.2,106.4 364.8,107.0 C369.5,107.6 379.2,109.5 383.8,113.3 C388.4,117.1 385.1,125.4 392.4,129.8 C399.6,134.2 415.2,139.5 427.3,139.7 C439.4,139.9 456.8,135.1 464.7,131.0 C472.6,126.9 469.8,118.7 474.8,115.1 C479.8,111.6 489.8,110.9 494.6,109.7 C499.4,108.5 503.6,107.9 503.6,107.9 C503.6,107.9 509.7,120.2 512.3,127.9 C514.9,135.6 518.7,146.8 519.3,154.1 C519.9,161.3 517.9,166.8 515.9,171.4 C513.9,176.0 510.1,179.0 507.2,181.8 C504.4,184.7 500.7,187.0 498.6,188.7 C496.5,190.4 495.9,190.3 494.6,192.1 C493.4,193.9 491.5,195.7 491.0,199.3 C490.6,202.9 492.8,209.8 491.9,213.7 C491.0,217.7 487.5,219.8 485.6,222.8 C483.7,225.7 482.0,228.8 480.5,231.5 C479.1,234.3 478.6,237.1 476.7,239.2 C474.8,241.3 472.5,243.0 469.1,244.3 C465.7,245.5 459.6,246.0 456.4,246.8 C453.1,247.7 450.6,247.9 449.4,249.4 C448.1,250.8 451.4,254.3 448.7,255.7 C446.1,257.1 438.5,257.4 433.4,257.6 C428.4,257.8 421.1,257.5 418.2,257.0 C415.2,256.5 416.9,255.7 415.6,254.5 C414.4,253.2 412.9,250.8 410.5,249.4 C408.2,247.9 404.6,247.0 401.6,245.5 C398.7,244.1 395.1,242.8 392.7,240.5 C390.4,238.1 388.7,234.2 387.6,231.5 C386.6,228.9 387.6,226.6 386.5,224.6 C385.4,222.5 383.2,221.3 381.1,219.2 C379.0,217.0 375.2,214.0 373.8,211.9 C372.5,209.8 373.5,209.2 372.9,206.5 C372.3,203.8 372.2,199.0 370.2,195.7 C368.3,192.4 364.2,190.6 361.2,186.7 C358.2,182.8 354.5,177.4 352.2,172.3 C350.0,167.2 348.3,161.8 347.7,156.1 C347.1,150.3 347.9,144.8 348.6,138.0 C349.4,131.2 351.0,119.9 352.2,115.1 Z"/></clipPath>
<path d="M352.2,115.1 C353.4,110.4 353.7,111.1 355.8,109.7 C357.9,108.4 360.2,106.4 364.8,107.0 C369.5,107.6 379.2,109.5 383.8,113.3 C388.4,117.1 385.1,125.4 392.4,129.8 C399.6,134.2 415.2,139.5 427.3,139.7 C439.4,139.9 456.8,135.1 464.7,131.0 C472.6,126.9 469.8,118.7 474.8,115.1 C479.8,111.6 489.8,110.9 494.6,109.7 C499.4,108.5 503.6,107.9 503.6,107.9 C503.6,107.9 509.7,120.2 512.3,127.9 C514.9,135.6 518.7,146.8 519.3,154.1 C519.9,161.3 517.9,166.8 515.9,171.4 C513.9,176.0 510.1,179.0 507.2,181.8 C504.4,184.7 500.7,187.0 498.6,188.7 C496.5,190.4 495.9,190.3 494.6,192.1 C493.4,193.9 491.5,195.7 491.0,199.3 C490.6,202.9 492.8,209.8 491.9,213.7 C491.0,217.7 487.5,219.8 485.6,222.8 C483.7,225.7 482.0,228.8 480.5,231.5 C479.1,234.3 478.6,237.1 476.7,239.2 C474.8,241.3 472.5,243.0 469.1,244.3 C465.7,245.5 459.6,246.0 456.4,246.8 C453.1,247.7 450.6,247.9 449.4,249.4 C448.1,250.8 451.4,254.3 448.7,255.7 C446.1,257.1 438.5,257.4 433.4,257.6 C428.4,257.8 421.1,257.5 418.2,257.0 C415.2,256.5 416.9,255.7 415.6,254.5 C414.4,253.2 412.9,250.8 410.5,249.4 C408.2,247.9 404.6,247.0 401.6,245.5 C398.7,244.1 395.1,242.8 392.7,240.5 C390.4,238.1 388.7,234.2 387.6,231.5 C386.6,228.9 387.6,226.6 386.5,224.6 C385.4,222.5 383.2,221.3 381.1,219.2 C379.0,217.0 375.2,214.0 373.8,211.9 C372.5,209.8 373.5,209.2 372.9,206.5 C372.3,203.8 372.2,199.0 370.2,195.7 C368.3,192.4 364.2,190.6 361.2,186.7 C358.2,182.8 354.5,177.4 352.2,172.3 C350.0,167.2 348.3,161.8 347.7,156.1 C347.1,150.3 347.9,144.8 348.6,138.0 C349.4,131.2 351.0,119.9 352.2,115.1 Z" fill="#dfdfdf"/>
<g clip-path="url(#c3)">
<path d="M390.1,127.2 C384.1,127.5 390.7,138.3 390.1,141.6 C389.5,144.9 389.2,144.6 386.5,147.0 C383.8,149.4 377.4,152.8 373.8,156.1 C370.2,159.4 367.4,163.9 364.8,166.9 C362.3,169.9 359.4,172.0 358.5,174.1 C357.6,176.2 358.1,177.4 359.4,179.5 C360.8,181.6 364.2,184.3 366.6,186.7 C369.0,189.1 371.7,193.0 373.8,193.9 C375.9,194.8 377.1,192.1 379.3,192.1 C381.4,192.1 383.2,193.9 386.5,193.9 C389.8,193.9 395.8,192.7 399.1,192.1 C402.4,191.5 404.2,191.1 406.3,190.3 C408.4,189.6 409.9,187.6 411.7,187.6 C413.5,187.6 415.3,189.0 417.1,190.3 C418.9,191.7 419.5,194.7 422.5,195.7 C425.5,196.8 431.2,196.9 435.1,196.6 C439.0,196.3 443.3,195.3 446.0,193.9 C448.7,192.6 449.9,189.3 451.4,188.5 C452.9,187.8 453.5,188.8 455.0,189.4 C456.5,190.0 457.7,191.4 460.4,192.1 C463.1,192.9 467.6,193.9 471.2,193.9 C474.8,193.9 478.4,193.3 482.0,192.1 C485.6,190.9 489.2,189.1 492.8,186.7 C496.4,184.3 501.2,180.4 503.6,177.7 C506.0,175.0 507.2,172.9 507.2,170.5 C507.2,168.1 506.6,166.0 503.6,163.3 C500.6,160.6 492.7,156.7 489.2,154.3 C485.8,151.8 484.0,152.8 482.9,148.8 C481.9,144.9 483.1,138.0 482.9,130.8 C482.8,123.6 484.0,109.8 482.0,105.6 C480.1,101.4 473.3,102.0 471.2,105.6 C469.1,109.2 476.9,121.5 469.4,127.2 C461.9,132.9 439.3,139.8 426.1,139.8 C412.9,139.8 396.1,126.9 390.1,127.2 Z" fill="#bebebe"/>
<path d="M405.4,162.4 C403.7,162.1 398.9,160.1 395.5,160.6 C392.0,161.0 387.4,163.0 384.7,165.1 C382.0,167.2 379.6,171.1 379.3,173.2 C379.0,175.3 380.8,176.8 382.9,177.7 C385.0,178.6 390.4,178.4 391.9,178.6" fill="none" stroke="#8a8a8a" stroke-width="1.1"/>
<path d="M408.1,180.4 C406.3,180.2 400.6,179.0 397.3,179.5 C394.0,179.9 390.5,181.4 388.3,183.1 C386.0,184.7 383.8,187.6 383.8,189.4 C383.8,191.2 385.4,193.2 388.3,193.9 C391.1,194.7 398.8,193.9 400.9,193.9" fill="none" stroke="#8a8a8a" stroke-width="1.1"/>
<path d="M465.8,161.5 C467.6,161.8 473.3,161.8 476.6,163.3 C479.9,164.8 484.0,168.4 485.6,170.5 C487.3,172.6 487.7,174.7 486.5,175.9 C485.3,177.1 479.8,177.4 478.4,177.7" fill="none" stroke="#8a8a8a" stroke-width="1.1"/>
<path d="M460.4,181.3 C462.2,181.6 468.0,181.9 471.2,183.1 C474.3,184.3 478.1,186.7 479.3,188.5 C480.5,190.3 480.1,192.9 478.4,193.9 C476.8,195.0 470.9,194.7 469.4,194.8" fill="none" stroke="#8a8a8a" stroke-width="1.1"/>
<path d="M382.0,205.1 C382.9,203.7 391.7,200.7 395.5,200.2 C399.2,199.7 403.9,200.4 404.5,202.0 C405.1,203.7 401.5,209.0 399.1,210.1 C396.7,211.3 392.9,209.5 390.1,208.7 C387.2,207.9 381.1,206.5 382.0,205.1 Z" fill="#c8c8c8"/>
<path d="M465.8,202.0 C466.7,200.9 471.9,201.9 474.8,202.9 C477.7,203.9 483.8,206.8 482.9,208.0 C482.0,209.1 472.2,210.8 469.4,209.8 C466.5,208.8 464.9,203.2 465.8,202.0 Z" fill="#c8c8c8"/>
<path d="M395.5,228.5 C396.1,227.5 402.4,225.2 404.5,226.4 C406.6,227.5 408.7,234.3 408.1,235.4 C407.5,236.4 403.0,233.8 400.9,232.7 C398.8,231.5 394.9,229.6 395.5,228.5 Z" fill="#c8c8c8"/>
<path d="M460.4,228.2 C461.6,227.4 469.1,227.1 469.4,227.8 C469.7,228.6 463.7,232.6 462.2,232.7 C460.7,232.7 459.2,229.0 460.4,228.2 Z" fill="#c8c8c8"/>
</g>
<path d="M352.2,115.1 C353.4,110.4 353.7,111.1 355.8,109.7 C357.9,108.4 360.2,106.4 364.8,107.0 C369.5,107.6 379.2,109.5 383.8,113.3 C388.4,117.1 385.1,125.4 392.4,129.8 C399.6,134.2 415.2,139.5 427.3,139.7 C439.4,139.9 456.8,135.1 464.7,131.0 C472.6,126.9 469.8,118.7 474.8,115.1 C479.8,111.6 489.8,110.9 494.6,109.7 C499.4,108.5 503.6,107.9 503.6,107.9 C503.6,107.9 509.7,120.2 512.3,127.9 C514.9,135.6 518.7,146.8 519.3,154.1 C519.9,161.3 517.9,166.8 515.9,171.4 C513.9,176.0 510.1,179.0 507.2,181.8 C504.4,184.7 500.7,187.0 498.6,188.7 C496.5,190.4 495.9,190.3 494.6,192.1 C493.4,193.9 491.5,195.7 491.0,199.3 C490.6,202.9 492.8,209.8 491.9,213.7 C491.0,217.7 487.5,219.8 485.6,222.8 C483.7,225.7 482.0,228.8 480.5,231.5 C479.1,234.3 478.6,237.1 476.7,239.2 C474.8,241.3 472.5,243.0 469.1,244.3 C465.7,245.5 459.6,246.0 456.4,246.8 C453.1,247.7 450.6,247.9 449.4,249.4 C448.1,250.8 451.4,254.3 448.7,255.7 C446.1,257.1 438.5,257.4 433.4,257.6 C428.4,257.8 421.1,257.5 418.2,257.0 C415.2,256.5 416.9,255.7 415.6,254.5 C414.4,253.2 412.9,250.8 410.5,249.4 C408.2,247.9 404.6,247.0 401.6,245.5 C398.7,244.1 395.1,242.8 392.7,240.5 C390.4,238.1 388.7,234.2 387.6,231.5 C386.6,228.9 387.6,226.6 386.5,224.6 C385.4,222.5 383.2,221.3 381.1,219.2 C379.0,217.0 375.2,214.0 373.8,211.9 C372.5,209.8 373.5,209.2 372.9,206.5 C372.3,203.8 372.2,199.0 370.2,195.7 C368.3,192.4 364.2,190.6 361.2,186.7 C358.2,182.8 354.5,177.4 352.2,172.3 C350.0,167.2 348.3,161.8 347.7,156.1 C347.1,150.3 347.9,144.8 348.6,138.0 C349.4,131.2 351.0,119.9 352.2,115.1 Z" fill="none" stroke="#777" stroke-width="1.6" stroke-linejoin="round"/>
<path d="M392.8,132.6 C394.7,133.7 398.9,137.2 404.5,138.9 C410.1,140.7 418.6,142.9 426.1,143.1 C433.6,143.3 442.3,142.2 449.6,140.2 C456.8,138.1 466.1,132.4 469.4,130.8" fill="none" stroke="#999" stroke-width="1.0" stroke-linejoin="round" stroke-linecap="round"/>
<path d="M394.6,137.1 C396.5,138.0 401.0,141.0 406.3,142.5 C411.6,144.0 418.9,146.0 426.1,146.1 C433.3,146.3 443.3,144.8 449.6,143.4 C455.9,142.1 461.6,138.9 464.0,138.0" fill="none" stroke="#b0b0b0" stroke-width="1.0" stroke-linejoin="round" stroke-linecap="round"/>
<ellipse cx="404.5" cy="206.5" rx="8.1" ry="4.9" fill="#fff" stroke="#777" stroke-width="1.3" transform="rotate(25 404.5 206.5)"/>
<ellipse cx="458.6" cy="206.5" rx="7.2" ry="5.2" fill="#fff" stroke="#777" stroke-width="1.3" transform="rotate(-5 458.6 206.5)"/>
<ellipse cx="410.8" cy="232.1" rx="6.5" ry="3.1" fill="#fff" stroke="#777" stroke-width="1.3" transform="rotate(38 410.8 232.1)"/>
<ellipse cx="457.1" cy="232.7" rx="7.2" ry="2.7" fill="#fff" stroke="#777" stroke-width="1.3" transform="rotate(-30 457.1 232.7)"/>
<clipPath id="c4"><path d="M403.5,257.0 C404.0,256.1 405.1,254.9 406.7,255.1 C408.3,255.3 411.2,257.8 413.1,258.3 C415.0,258.7 414.8,257.6 418.2,257.6 C421.6,257.6 428.4,258.5 433.4,258.3 C438.5,258.1 445.1,257.0 448.7,256.4 C452.3,255.7 453.0,254.8 455.1,254.5 C457.2,254.1 460.2,253.9 461.4,254.5 C462.7,255.0 463.6,255.7 462.7,257.6 C461.9,259.5 458.7,263.7 456.4,265.9 C454.0,268.1 450.8,269.7 448.7,271.0 C446.6,272.3 446.2,273.5 443.6,273.5 C441.1,273.5 436.8,271.0 433.4,271.0 C430.1,271.0 425.8,274.0 423.3,273.5 C420.7,273.1 420.5,269.9 418.2,268.4 C415.8,267.0 411.6,266.0 409.3,264.6 C406.9,263.3 405.1,261.4 404.2,260.2 C403.2,258.9 403.1,257.8 403.5,257.0 Z"/></clipPath>
<path d="M403.5,257.0 C404.0,256.1 405.1,254.9 406.7,255.1 C408.3,255.3 411.2,257.8 413.1,258.3 C415.0,258.7 414.8,257.6 418.2,257.6 C421.6,257.6 428.4,258.5 433.4,258.3 C438.5,258.1 445.1,257.0 448.7,256.4 C452.3,255.7 453.0,254.8 455.1,254.5 C457.2,254.1 460.2,253.9 461.4,254.5 C462.7,255.0 463.6,255.7 462.7,257.6 C461.9,259.5 458.7,263.7 456.4,265.9 C454.0,268.1 450.8,269.7 448.7,271.0 C446.6,272.3 446.2,273.5 443.6,273.5 C441.1,273.5 436.8,271.0 433.4,271.0 C430.1,271.0 425.8,274.0 423.3,273.5 C420.7,273.1 420.5,269.9 418.2,268.4 C415.8,267.0 411.6,266.0 409.3,264.6 C406.9,263.3 405.1,261.4 404.2,260.2 C403.2,258.9 403.1,257.8 403.5,257.0 Z" fill="#dfdfdf"/>
<g clip-path="url(#c4)">
<path d="M419.5,253.2 C421.6,252.1 429.0,250.6 433.4,250.6 C437.9,250.6 444.5,252.1 446.2,253.2 C447.9,254.2 445.8,256.6 443.6,257.0 C441.5,257.4 437.3,255.7 433.4,255.7 C429.6,255.7 423.1,257.4 420.7,257.0 C418.4,256.6 417.3,254.2 419.5,253.2 Z" fill="#bebebe"/>
<path d="M448.7,271.0 C450.8,270.1 454.0,268.1 456.4,265.9 C458.7,263.7 462.7,258.7 462.7,257.6 C462.7,256.6 458.7,258.2 456.4,259.5 C454.0,260.9 450.8,264.0 448.7,265.9 C446.6,267.8 443.6,270.1 443.6,271.0 C443.6,271.8 446.6,271.8 448.7,271.0 Z" fill="#bebebe"/>
</g>
<path d="M403.5,257.0 C404.0,256.1 405.1,254.9 406.7,255.1 C408.3,255.3 411.2,257.8 413.1,258.3 C415.0,258.7 414.8,257.6 418.2,257.6 C421.6,257.6 428.4,258.5 433.4,258.3 C438.5,258.1 445.1,257.0 448.7,256.4 C452.3,255.7 453.0,254.8 455.1,254.5 C457.2,254.1 460.2,253.9 461.4,254.5 C462.7,255.0 463.6,255.7 462.7,257.6 C461.9,259.5 458.7,263.7 456.4,265.9 C454.0,268.1 450.8,269.7 448.7,271.0 C446.6,272.3 446.2,273.5 443.6,273.5 C441.1,273.5 436.8,271.0 433.4,271.0 C430.1,271.0 425.8,274.0 423.3,273.5 C420.7,273.1 420.5,269.9 418.2,268.4 C415.8,267.0 411.6,266.0 409.3,264.6 C406.9,263.3 405.1,261.4 404.2,260.2 C403.2,258.9 403.1,257.8 403.5,257.0 Z" fill="none" stroke="#777" stroke-width="1.5" stroke-linejoin="round"/>
<clipPath id="c5"><path d="M422.6,275.4 C423.1,274.4 424.0,273.0 425.8,272.3 C427.6,271.5 430.7,270.9 433.4,271.0 C436.2,271.1 440.6,272.1 442.4,272.9 C444.2,273.8 444.3,274.9 444.3,276.1 C444.3,277.3 443.5,278.8 442.4,279.9 C441.2,281.0 438.8,281.4 437.3,282.4 C435.8,283.5 434.3,284.8 433.4,286.3 C432.6,287.7 432.7,291.4 432.2,291.4 C431.6,291.4 431.3,288.0 430.3,286.3 C429.2,284.6 427.0,282.4 425.8,281.2 C424.6,279.9 423.8,279.6 423.3,278.6 C422.7,277.7 422.2,276.5 422.6,275.4 Z"/></clipPath>
<path d="M422.6,275.4 C423.1,274.4 424.0,273.0 425.8,272.3 C427.6,271.5 430.7,270.9 433.4,271.0 C436.2,271.1 440.6,272.1 442.4,272.9 C444.2,273.8 444.3,274.9 444.3,276.1 C444.3,277.3 443.5,278.8 442.4,279.9 C441.2,281.0 438.8,281.4 437.3,282.4 C435.8,283.5 434.3,284.8 433.4,286.3 C432.6,287.7 432.7,291.4 432.2,291.4 C431.6,291.4 431.3,288.0 430.3,286.3 C429.2,284.6 427.0,282.4 425.8,281.2 C424.6,279.9 423.8,279.6 423.3,278.6 C422.7,277.7 422.2,276.5 422.6,275.4 Z" fill="#c6c6c6"/>
<g clip-path="url(#c5)">
<path d="M433.4,269.7 C435.8,268.4 444.1,269.1 446.2,271.0 C448.3,272.9 447.9,279.1 446.2,281.2 C444.5,283.3 438.3,284.1 436.0,283.7 C433.7,283.3 432.6,281.0 432.2,278.6 C431.8,276.3 431.1,271.0 433.4,269.7 Z" fill="#dfdfdf"/>
</g>
<path d="M422.6,275.4 C423.1,274.4 424.0,273.0 425.8,272.3 C427.6,271.5 430.7,270.9 433.4,271.0 C436.2,271.1 440.6,272.1 442.4,272.9 C444.2,273.8 444.3,274.9 444.3,276.1 C444.3,277.3 443.5,278.8 442.4,279.9 C441.2,281.0 438.8,281.4 437.3,282.4 C435.8,283.5 434.3,284.8 433.4,286.3 C432.6,287.7 432.7,291.4 432.2,291.4 C431.6,291.4 431.3,288.0 430.3,286.3 C429.2,284.6 427.0,282.4 425.8,281.2 C424.6,279.9 423.8,279.6 423.3,278.6 C422.7,277.7 422.2,276.5 422.6,275.4 Z" fill="none" stroke="#777" stroke-width="1.3" stroke-linejoin="round"/>
<path d="M355.8,82.7 C356.4,81.6 358.5,80.6 361.2,80.9 C363.9,81.1 368.0,82.9 372.0,84.1 C376.1,85.4 383.5,83.9 385.6,88.5 C387.7,93.0 386.0,108.6 384.7,111.5 C383.3,114.5 380.5,108.8 377.4,106.1 C374.4,103.4 369.9,98.5 366.6,95.3 C363.3,92.2 359.4,89.3 357.6,87.2 C355.8,85.1 355.2,83.7 355.8,82.7 Z" fill="#dfdfdf" stroke="#777" stroke-width="1.6" stroke-linejoin="round" stroke-linecap="round"/>
<path d="M472.1,84.5 C474.3,80.8 481.0,83.6 485.6,83.0 C490.3,82.5 497.5,81.0 500.0,81.2 C502.6,81.5 502.3,82.4 501.1,84.5 C499.9,86.5 496.0,90.8 492.8,93.5 C489.6,96.2 485.5,98.8 482.0,100.7 C478.6,102.7 473.7,107.9 472.1,105.2 C470.4,102.5 469.8,88.2 472.1,84.5 Z" fill="#dfdfdf" stroke="#777" stroke-width="1.6" stroke-linejoin="round" stroke-linecap="round"/>
<clipPath id="c6"><path d="M389.2,78.7 C382.4,79.6 386.0,82.6 385.6,86.3 C385.1,90.0 386.8,96.5 386.5,100.7 C386.2,104.9 384.2,108.2 383.8,111.5 C383.3,114.8 382.7,117.8 383.8,120.5 C384.8,123.3 386.6,125.4 390.1,127.8 C393.5,130.2 398.5,133.2 404.5,135.0 C410.5,136.8 419.2,138.3 426.1,138.6 C433.0,138.9 439.6,138.0 446.0,136.8 C452.3,135.6 459.8,133.2 464.0,131.4 C468.2,129.6 469.7,128.7 471.2,126.0 C472.7,123.3 473.0,119.0 473.0,115.1 C473.0,111.2 471.3,107.0 471.2,102.5 C471.0,98.0 472.4,92.0 472.1,88.1 C471.8,84.2 470.7,81.0 469.4,79.1 C468.0,77.1 471.2,76.1 464.0,76.4 C456.8,76.7 438.6,80.5 426.1,80.9 C413.7,81.3 395.9,77.8 389.2,78.7 Z"/></clipPath>
<path d="M389.2,78.7 C382.4,79.6 386.0,82.6 385.6,86.3 C385.1,90.0 386.8,96.5 386.5,100.7 C386.2,104.9 384.2,108.2 383.8,111.5 C383.3,114.8 382.7,117.8 383.8,120.5 C384.8,123.3 386.6,125.4 390.1,127.8 C393.5,130.2 398.5,133.2 404.5,135.0 C410.5,136.8 419.2,138.3 426.1,138.6 C433.0,138.9 439.6,138.0 446.0,136.8 C452.3,135.6 459.8,133.2 464.0,131.4 C468.2,129.6 469.7,128.7 471.2,126.0 C472.7,123.3 473.0,119.0 473.0,115.1 C473.0,111.2 471.3,107.0 471.2,102.5 C471.0,98.0 472.4,92.0 472.1,88.1 C471.8,84.2 470.7,81.0 469.4,79.1 C468.0,77.1 471.2,76.1 464.0,76.4 C456.8,76.7 438.6,80.5 426.1,80.9 C413.7,81.3 395.9,77.8 389.2,78.7 Z" fill="#dfdfdf"/>
<g clip-path="url(#c6)">
<path d="M442.3,97.1 C444.0,93.7 447.8,96.2 453.2,94.4 C458.6,92.6 470.9,79.8 474.8,86.3 C478.7,92.8 481.4,124.2 476.6,133.2 C471.8,142.2 451.8,140.4 446.0,140.4 C440.1,140.4 441.9,137.4 441.4,133.2 C441.0,129.0 443.1,121.1 443.3,115.1 C443.4,109.1 440.7,100.6 442.3,97.1 Z" fill="#bebebe"/>
<path d="M381.1,75.5 C387.8,74.1 410.5,79.4 426.1,79.1 C441.7,78.8 466.7,72.3 474.8,73.7 C482.9,75.0 476.3,84.7 474.8,87.2 C473.3,89.7 470.0,87.0 465.8,88.5 C461.6,89.9 455.6,93.9 449.6,95.7 C443.6,97.5 436.6,99.4 429.7,99.3 C422.8,99.1 414.1,96.6 408.1,94.8 C402.1,93.0 397.4,89.7 393.7,88.5 C389.9,87.2 387.7,89.4 385.6,87.2 C383.5,85.0 374.3,76.8 381.1,75.5 Z" fill="#bebebe"/>
<path d="M393.7,88.1 C396.1,89.1 402.1,92.6 408.1,94.4 C414.1,96.2 422.8,98.8 429.7,98.9 C436.6,99.1 443.6,97.1 449.6,95.3 C455.6,93.5 463.1,89.3 465.8,88.1" fill="none" stroke="#8a8a8a" stroke-width="1.2"/>
</g>
<path d="M389.2,78.7 C382.4,79.6 386.0,82.6 385.6,86.3 C385.1,90.0 386.8,96.5 386.5,100.7 C386.2,104.9 384.2,108.2 383.8,111.5 C383.3,114.8 382.7,117.8 383.8,120.5 C384.8,123.3 386.6,125.4 390.1,127.8 C393.5,130.2 398.5,133.2 404.5,135.0 C410.5,136.8 419.2,138.3 426.1,138.6 C433.0,138.9 439.6,138.0 446.0,136.8 C452.3,135.6 459.8,133.2 464.0,131.4 C468.2,129.6 469.7,128.7 471.2,126.0 C472.7,123.3 473.0,119.0 473.0,115.1 C473.0,111.2 471.3,107.0 471.2,102.5 C471.0,98.0 472.4,92.0 472.1,88.1 C471.8,84.2 470.7,81.0 469.4,79.1 C468.0,77.1 471.2,76.1 464.0,76.4 C456.8,76.7 438.6,80.5 426.1,80.9 C413.7,81.3 395.9,77.8 389.2,78.7 Z" fill="none" stroke="#777" stroke-width="1.8" stroke-linejoin="round"/>
<path d="M355.8,35.8 C356.4,34.4 357.6,32.9 360.3,32.6 C363.0,32.3 366.8,33.0 372.0,34.0 C377.2,35.0 388.1,35.5 391.5,38.5 C395.0,41.5 393.2,48.6 392.8,52.0 C392.4,55.5 392.6,59.0 389.2,59.3 C385.7,59.6 376.7,55.9 372.0,53.8 C367.4,51.7 363.8,48.7 361.2,46.6 C358.7,44.5 357.6,43.0 356.7,41.2 C355.8,39.4 355.2,37.3 355.8,35.8 Z" fill="#dfdfdf" stroke="#777" stroke-width="1.7" stroke-linejoin="round" stroke-linecap="round"/>
<path d="M469.9,38.5 C472.4,34.6 480.6,35.1 485.6,34.0 C490.6,32.9 497.4,31.6 500.0,31.9 C502.7,32.2 502.1,33.7 501.5,35.8 C500.9,38.0 499.1,42.1 496.4,44.8 C493.8,47.5 489.9,49.9 485.6,52.0 C481.3,54.2 473.4,60.1 470.8,57.8 C468.2,55.6 467.5,42.5 469.9,38.5 Z" fill="#dfdfdf" stroke="#777" stroke-width="1.7" stroke-linejoin="round" stroke-linecap="round"/>
<path d="M471.2,44.8 C473.6,42.0 481.1,41.8 485.6,40.3 C490.1,38.8 496.4,35.1 498.2,35.8 C500.0,36.5 498.5,41.8 496.4,44.5 C494.3,47.1 489.8,49.5 485.6,51.7 C481.4,53.8 473.6,58.6 471.2,57.4 C468.8,56.3 468.8,47.7 471.2,44.8 Z" fill="#bebebe"/>
<path d="M391.5,43.0 C389.6,41.4 384.3,42.7 381.1,42.1 C377.8,41.5 372.0,38.4 372.0,39.4 C372.0,40.5 377.7,46.3 381.1,48.4 C384.4,50.5 390.5,52.9 392.2,52.0 C394.0,51.1 393.4,44.7 391.5,43.0 Z" fill="#bebebe"/>
<clipPath id="c7"><path d="M392.8,28.6 C392.8,28.6 469.4,28.6 469.4,28.6 C469.4,28.6 470.4,37.3 470.3,41.2 C470.1,45.1 468.6,48.7 468.5,52.0 C468.3,55.3 469.1,58.4 469.4,61.1 C469.7,63.8 470.6,66.2 470.3,68.3 C470.0,70.4 471.6,71.9 467.6,73.7 C463.5,75.5 453.8,77.9 446.0,79.1 C438.1,80.3 429.1,81.2 420.7,80.9 C412.3,80.6 401.2,78.6 395.5,77.3 C389.8,75.9 388.1,74.3 386.5,72.8 C384.8,71.3 385.1,70.2 385.6,68.3 C386.0,66.3 388.0,63.8 389.2,61.1 C390.4,58.4 392.5,55.3 392.8,52.0 C393.1,48.7 391.0,45.1 391.0,41.2 C391.0,37.3 392.8,28.6 392.8,28.6 Z"/></clipPath>
<path d="M392.8,28.6 C392.8,28.6 469.4,28.6 469.4,28.6 C469.4,28.6 470.4,37.3 470.3,41.2 C470.1,45.1 468.6,48.7 468.5,52.0 C468.3,55.3 469.1,58.4 469.4,61.1 C469.7,63.8 470.6,66.2 470.3,68.3 C470.0,70.4 471.6,71.9 467.6,73.7 C463.5,75.5 453.8,77.9 446.0,79.1 C438.1,80.3 429.1,81.2 420.7,80.9 C412.3,80.6 401.2,78.6 395.5,77.3 C389.8,75.9 388.1,74.3 386.5,72.8 C384.8,71.3 385.1,70.2 385.6,68.3 C386.0,66.3 388.0,63.8 389.2,61.1 C390.4,58.4 392.5,55.3 392.8,52.0 C393.1,48.7 391.0,45.1 391.0,41.2 C391.0,37.3 392.8,28.6 392.8,28.6 Z" fill="#dfdfdf"/>
<g clip-path="url(#c7)">
<path d="M440.5,25.0 C445.8,22.0 469.1,16.6 474.8,25.0 C480.5,33.4 480.1,66.2 474.8,75.5 C469.5,84.8 448.3,83.3 443.3,80.9 C438.2,78.5 444.5,67.4 444.5,61.1 C444.5,54.7 443.9,49.0 443.3,43.0 C442.6,37.0 435.3,28.0 440.5,25.0 Z" fill="#bebebe"/>
</g>
<path d="M392.8,28.6 C392.8,28.6 469.4,28.6 469.4,28.6 C469.4,28.6 470.4,37.3 470.3,41.2 C470.1,45.1 468.6,48.7 468.5,52.0 C468.3,55.3 469.1,58.4 469.4,61.1 C469.7,63.8 470.6,66.2 470.3,68.3 C470.0,70.4 471.6,71.9 467.6,73.7 C463.5,75.5 453.8,77.9 446.0,79.1 C438.1,80.3 429.1,81.2 420.7,80.9 C412.3,80.6 401.2,78.6 395.5,77.3 C389.8,75.9 388.1,74.3 386.5,72.8 C384.8,71.3 385.1,70.2 385.6,68.3 C386.0,66.3 388.0,63.8 389.2,61.1 C390.4,58.4 392.5,55.3 392.8,52.0 C393.1,48.7 391.0,45.1 391.0,41.2 C391.0,37.3 392.8,28.6 392.8,28.6 Z" fill="none" stroke="#777" stroke-width="1.8" stroke-linejoin="round"/>
<rect x="385" y="20" width="95" height="10.6" fill="#fff"/>
<path d="M393.3,31.9 C395.8,31.8 402.6,31.4 408.1,31.5 C413.6,31.6 419.8,32.5 426.1,32.6 C432.4,32.7 440.2,32.5 446.0,32.2 C451.7,32.0 456.5,31.2 460.4,31.1 C464.2,31.0 467.6,31.4 469.0,31.5" fill="none" stroke="#858585" stroke-width="1.3" stroke-linejoin="round" stroke-linecap="round"/>
<clipPath id="c8"><path d="M197.3,279.8 C194.0,281.5 188.6,285.2 184.8,289.8 C181.1,294.3 177.3,301.4 174.9,307.2 C172.4,313.1 170.3,319.3 169.9,324.7 C169.4,330.1 170.3,334.7 172.4,339.7 C174.4,344.7 179.4,348.0 182.3,354.6 C185.2,361.3 186.7,370.2 189.8,379.6 C192.9,388.9 201.0,410.8 201.0,410.8 C201.0,410.8 247.2,410.8 247.2,410.8 C247.2,410.8 244.3,391.4 245.9,384.6 C247.6,377.7 255.9,374.6 257.2,369.6 C258.4,364.6 254.3,359.2 253.4,354.6 C252.6,350.1 250.3,348.0 252.2,342.2 C254.1,336.3 260.9,324.5 264.7,319.7 C268.4,314.9 273.8,317.2 274.6,313.5 C275.5,309.7 273.8,302.5 269.6,297.3 C265.5,292.1 255.5,286.9 249.7,282.3 C243.9,277.7 238.5,269.4 234.7,269.8 C231.0,270.2 230.1,281.3 227.2,284.8 C224.3,288.3 220.6,290.2 217.3,291.0 C213.9,291.9 207.3,289.8 207.3,289.8 C207.3,289.8 212.7,286.4 212.3,284.8 C211.9,283.1 207.3,280.6 204.8,279.8 C202.3,279.0 200.6,278.1 197.3,279.8 Z"/></clipPath>
<path d="M197.3,279.8 C194.0,281.5 188.6,285.2 184.8,289.8 C181.1,294.3 177.3,301.4 174.9,307.2 C172.4,313.1 170.3,319.3 169.9,324.7 C169.4,330.1 170.3,334.7 172.4,339.7 C174.4,344.7 179.4,348.0 182.3,354.6 C185.2,361.3 186.7,370.2 189.8,379.6 C192.9,388.9 201.0,410.8 201.0,410.8 C201.0,410.8 247.2,410.8 247.2,410.8 C247.2,410.8 244.3,391.4 245.9,384.6 C247.6,377.7 255.9,374.6 257.2,369.6 C258.4,364.6 254.3,359.2 253.4,354.6 C252.6,350.1 250.3,348.0 252.2,342.2 C254.1,336.3 260.9,324.5 264.7,319.7 C268.4,314.9 273.8,317.2 274.6,313.5 C275.5,309.7 273.8,302.5 269.6,297.3 C265.5,292.1 255.5,286.9 249.7,282.3 C243.9,277.7 238.5,269.4 234.7,269.8 C231.0,270.2 230.1,281.3 227.2,284.8 C224.3,288.3 220.6,290.2 217.3,291.0 C213.9,291.9 207.3,289.8 207.3,289.8 C207.3,289.8 212.7,286.4 212.3,284.8 C211.9,283.1 207.3,280.6 204.8,279.8 C202.3,279.0 200.6,278.1 197.3,279.8 Z" fill="#dfdfdf"/>
<g clip-path="url(#c8)">
<path d="M204.3,289.8 C206.7,289.0 216.2,291.8 220.8,290.7 C225.5,289.6 229.5,285.6 231.9,283.3 C234.4,281.0 234.7,278.3 235.6,276.9 C236.5,275.5 237.7,273.2 237.4,275.0 C237.1,276.9 235.0,284.3 233.8,287.9 C232.5,291.6 229.5,294.7 230.1,297.2 C230.7,299.6 234.7,302.4 237.4,302.7 C240.2,303.0 246.0,298.1 246.7,299.0 C247.3,299.9 242.7,304.8 241.1,308.2 C239.6,311.6 236.8,316.8 237.4,319.3 C238.1,321.7 241.7,323.9 244.8,323.0 C247.9,322.1 252.8,317.1 255.9,313.8 C259.0,310.4 260.8,304.8 263.3,302.7 C265.7,300.5 268.2,299.0 270.6,300.8 C273.1,302.7 279.8,310.1 278.0,313.8 C276.2,317.4 263.3,318.7 259.6,323.0 C255.9,327.3 256.8,334.6 255.9,339.6 C255.0,344.5 253.4,347.6 254.0,352.5 C254.6,357.4 259.9,363.2 259.6,369.1 C259.3,374.9 254.0,381.4 252.2,387.5 C250.3,393.7 250.7,402.9 248.5,405.9 C246.4,409.0 240.5,409.6 239.3,405.9 C238.1,402.3 240.8,391.2 241.1,383.8 C241.4,376.4 241.7,368.1 241.1,361.7 C240.5,355.2 239.6,350.0 237.4,345.1 C235.3,340.2 230.7,336.8 228.2,332.2 C225.8,327.6 224.8,322.1 222.7,317.4 C220.5,312.8 218.1,308.2 215.3,304.5 C212.5,300.8 207.9,297.8 206.1,295.3 C204.3,292.9 201.8,290.6 204.3,289.8 Z" fill="#bebebe"/>
<path d="M172.9,321.1 C174.1,320.5 177.5,326.0 180.3,328.5 C183.0,331.0 186.7,334.0 189.5,335.9 C192.3,337.7 197.2,338.0 196.9,339.6 C196.6,341.1 190.7,344.5 187.7,345.1 C184.6,345.7 180.9,345.4 178.4,343.3 C176.0,341.1 173.8,335.9 172.9,332.2 C172.0,328.5 171.7,321.7 172.9,321.1 Z" fill="#bebebe"/>
<path d="M206.1,308.2 C206.7,306.4 211.3,304.2 213.5,306.4 C215.6,308.5 218.4,315.9 219.0,321.1 C219.6,326.4 218.1,336.5 217.2,337.7 C216.2,339.0 214.7,331.9 213.5,328.5 C212.2,325.1 211.0,320.8 209.8,317.4 C208.6,314.1 205.5,310.1 206.1,308.2 Z" fill="#bebebe"/>
<path d="M207.9,343.3 C208.2,340.2 212.9,348.8 215.3,350.6 C217.8,352.5 220.2,345.1 222.7,354.3 C225.1,363.5 230.4,397.3 230.1,405.9 C229.8,414.5 223.6,412.1 220.8,405.9 C218.1,399.8 215.6,379.5 213.5,369.1 C211.3,358.6 207.6,346.3 207.9,343.3 Z" fill="#bebebe"/>
</g>
<path d="M197.3,279.8 C194.0,281.5 188.6,285.2 184.8,289.8 C181.1,294.3 177.3,301.4 174.9,307.2 C172.4,313.1 170.3,319.3 169.9,324.7 C169.4,330.1 170.3,334.7 172.4,339.7 C174.4,344.7 179.4,348.0 182.3,354.6 C185.2,361.3 186.7,370.2 189.8,379.6 C192.9,388.9 201.0,410.8 201.0,410.8 C201.0,410.8 247.2,410.8 247.2,410.8 C247.2,410.8 244.3,391.4 245.9,384.6 C247.6,377.7 255.9,374.6 257.2,369.6 C258.4,364.6 254.3,359.2 253.4,354.6 C252.6,350.1 250.3,348.0 252.2,342.2 C254.1,336.3 260.9,324.5 264.7,319.7 C268.4,314.9 273.8,317.2 274.6,313.5 C275.5,309.7 273.8,302.5 269.6,297.3 C265.5,292.1 255.5,286.9 249.7,282.3 C243.9,277.7 238.5,269.4 234.7,269.8 C231.0,270.2 230.1,281.3 227.2,284.8 C224.3,288.3 220.6,290.2 217.3,291.0 C213.9,291.9 207.3,289.8 207.3,289.8 C207.3,289.8 212.7,286.4 212.3,284.8 C211.9,283.1 207.3,280.6 204.8,279.8 C202.3,279.0 200.6,278.1 197.3,279.8 Z" fill="none" stroke="#777" stroke-width="1.7" stroke-linejoin="round"/>
<clipPath id="c9"><path d="M233.8,265.8 C234.4,262.4 238.1,258.0 241.1,254.8 C244.2,251.5 248.2,248.1 252.2,246.5 C256.2,244.8 260.5,244.1 265.1,244.6 C269.7,245.1 275.2,246.9 279.8,249.2 C284.5,251.5 289.4,254.4 292.8,258.4 C296.1,262.4 298.4,268.3 300.1,273.2 C301.8,278.1 302.9,283.3 302.9,287.9 C302.9,292.5 301.8,297.2 300.1,300.8 C298.4,304.5 295.8,307.8 292.8,310.1 C289.7,312.4 284.5,313.9 281.7,314.7 C278.9,315.4 278.3,315.4 276.2,314.7 C274.0,313.9 271.6,313.3 268.8,310.1 C266.0,306.8 263.3,299.9 259.6,295.3 C255.9,290.7 250.3,285.8 246.7,282.4 C243.0,279.0 239.6,277.8 237.4,275.0 C235.3,272.3 233.1,269.2 233.8,265.8 Z"/></clipPath>
<path d="M233.8,265.8 C234.4,262.4 238.1,258.0 241.1,254.8 C244.2,251.5 248.2,248.1 252.2,246.5 C256.2,244.8 260.5,244.1 265.1,244.6 C269.7,245.1 275.2,246.9 279.8,249.2 C284.5,251.5 289.4,254.4 292.8,258.4 C296.1,262.4 298.4,268.3 300.1,273.2 C301.8,278.1 302.9,283.3 302.9,287.9 C302.9,292.5 301.8,297.2 300.1,300.8 C298.4,304.5 295.8,307.8 292.8,310.1 C289.7,312.4 284.5,313.9 281.7,314.7 C278.9,315.4 278.3,315.4 276.2,314.7 C274.0,313.9 271.6,313.3 268.8,310.1 C266.0,306.8 263.3,299.9 259.6,295.3 C255.9,290.7 250.3,285.8 246.7,282.4 C243.0,279.0 239.6,277.8 237.4,275.0 C235.3,272.3 233.1,269.2 233.8,265.8 Z" fill="#a8a8a8"/>
<g clip-path="url(#c9)">
<path d="M278.0,252.9 C279.5,252.6 285.8,255.1 289.1,258.4 C292.3,261.8 295.7,268.3 297.4,273.2 C299.1,278.1 299.4,283.3 299.2,287.9 C299.1,292.5 298.4,297.6 296.4,300.8 C294.4,304.1 290.3,306.4 287.2,307.3 C284.2,308.2 280.5,308.4 278.0,306.4 C275.5,304.4 273.7,299.0 272.5,295.3 C271.2,291.6 269.7,286.7 270.6,284.3 C271.6,281.8 276.2,282.7 278.0,280.6 C279.8,278.4 281.4,274.7 281.7,271.3 C282.0,268.0 280.5,263.4 279.8,260.3 C279.2,257.2 276.5,253.2 278.0,252.9 Z" fill="#8a8a8a"/>
</g>
<path d="M233.8,265.8 C234.4,262.4 238.1,258.0 241.1,254.8 C244.2,251.5 248.2,248.1 252.2,246.5 C256.2,244.8 260.5,244.1 265.1,244.6 C269.7,245.1 275.2,246.9 279.8,249.2 C284.5,251.5 289.4,254.4 292.8,258.4 C296.1,262.4 298.4,268.3 300.1,273.2 C301.8,278.1 302.9,283.3 302.9,287.9 C302.9,292.5 301.8,297.2 300.1,300.8 C298.4,304.5 295.8,307.8 292.8,310.1 C289.7,312.4 284.5,313.9 281.7,314.7 C278.9,315.4 278.3,315.4 276.2,314.7 C274.0,313.9 271.6,313.3 268.8,310.1 C266.0,306.8 263.3,299.9 259.6,295.3 C255.9,290.7 250.3,285.8 246.7,282.4 C243.0,279.0 239.6,277.8 237.4,275.0 C235.3,272.3 233.1,269.2 233.8,265.8 Z" fill="none" stroke="#777" stroke-width="1.7" stroke-linejoin="round"/>
<clipPath id="c10"><path d="M629.7,269.8 C632.6,269.8 630.1,279.0 632.2,282.3 C634.3,285.6 638.4,288.3 642.2,289.8 C645.9,291.2 654.7,291.0 654.7,291.0 C654.7,291.0 651.3,286.4 652.2,284.8 C653.0,283.1 656.3,281.5 659.6,281.0 C663.0,280.6 668.4,280.4 672.1,282.3 C675.9,284.2 678.8,287.3 682.1,292.3 C685.4,297.3 689.8,306.0 692.1,312.2 C694.4,318.5 695.8,324.3 695.8,329.7 C695.8,335.1 694.8,339.7 692.1,344.7 C689.4,349.6 682.5,353.8 679.6,359.6 C676.7,365.4 677.2,371.1 674.6,379.6 C672.0,388.1 664.1,410.8 664.1,410.8 C664.1,410.8 617.2,410.8 617.2,410.8 C617.2,410.8 618.5,395.6 617.2,389.6 C616.0,383.5 611.4,378.7 609.8,374.6 C608.1,370.4 606.8,367.9 607.3,364.6 C607.7,361.3 611.8,358.8 612.2,354.6 C612.7,350.5 611.8,345.5 609.8,339.7 C607.7,333.8 602.7,324.7 599.8,319.7 C596.9,314.7 595.2,310.8 592.3,309.7 C589.4,308.7 581.9,316.0 582.3,313.5 C582.7,311.0 589.4,300.0 594.8,294.8 C600.2,289.6 608.9,286.4 614.7,282.3 C620.6,278.1 626.8,269.8 629.7,269.8 Z"/></clipPath>
<path d="M629.7,269.8 C632.6,269.8 630.1,279.0 632.2,282.3 C634.3,285.6 638.4,288.3 642.2,289.8 C645.9,291.2 654.7,291.0 654.7,291.0 C654.7,291.0 651.3,286.4 652.2,284.8 C653.0,283.1 656.3,281.5 659.6,281.0 C663.0,280.6 668.4,280.4 672.1,282.3 C675.9,284.2 678.8,287.3 682.1,292.3 C685.4,297.3 689.8,306.0 692.1,312.2 C694.4,318.5 695.8,324.3 695.8,329.7 C695.8,335.1 694.8,339.7 692.1,344.7 C689.4,349.6 682.5,353.8 679.6,359.6 C676.7,365.4 677.2,371.1 674.6,379.6 C672.0,388.1 664.1,410.8 664.1,410.8 C664.1,410.8 617.2,410.8 617.2,410.8 C617.2,410.8 618.5,395.6 617.2,389.6 C616.0,383.5 611.4,378.7 609.8,374.6 C608.1,370.4 606.8,367.9 607.3,364.6 C607.7,361.3 611.8,358.8 612.2,354.6 C612.7,350.5 611.8,345.5 609.8,339.7 C607.7,333.8 602.7,324.7 599.8,319.7 C596.9,314.7 595.2,310.8 592.3,309.7 C589.4,308.7 581.9,316.0 582.3,313.5 C582.7,311.0 589.4,300.0 594.8,294.8 C600.2,289.6 608.9,286.4 614.7,282.3 C620.6,278.1 626.8,269.8 629.7,269.8 Z" fill="#bebebe"/>
<g clip-path="url(#c10)">
<path d="M595.6,300.3 C597.4,297.1 600.2,292.1 602.6,289.9 C604.9,287.7 609.2,285.9 609.5,287.3 C609.8,288.8 603.7,294.1 604.3,298.6 C604.9,303.1 610.1,310.2 613.0,314.2 C615.9,318.3 619.3,318.5 621.6,322.9 C624.0,327.2 626.3,335.0 626.9,340.2 C627.4,345.4 625.1,348.3 625.1,354.1 C625.1,359.9 626.3,366.3 626.9,374.9 C627.4,383.6 630.6,401.0 628.6,406.2 C626.6,411.4 617.0,409.1 614.7,406.2 C612.4,403.3 615.9,393.5 614.7,388.8 C613.6,384.2 609.5,382.2 607.8,378.4 C606.0,374.7 604.0,370.3 604.3,366.3 C604.6,362.2 609.5,359.6 609.5,354.1 C609.5,348.6 606.3,339.1 604.3,333.3 C602.3,327.5 599.4,323.5 597.4,319.4 C595.3,315.4 592.4,312.2 592.1,309.0 C591.9,305.8 593.9,303.5 595.6,300.3 Z" fill="#dfdfdf"/>
<path d="M617.3,298.6 C617.6,297.3 619.5,295.7 621.6,296.0 C623.8,296.3 629.2,300.8 630.3,300.3 C631.5,299.9 629.2,296.0 628.6,293.4 C628.0,290.8 626.3,285.0 626.9,284.7 C627.4,284.4 630.6,289.0 632.1,291.6 C633.5,294.3 635.5,297.7 635.5,300.3 C635.5,302.9 633.8,306.4 632.1,307.3 C630.3,308.1 626.1,304.1 625.1,305.5 C624.1,307.0 626.3,313.1 626.0,315.9 C625.7,318.8 624.7,323.2 623.4,322.9 C622.1,322.6 618.8,317.4 618.2,314.2 C617.6,311.0 620.1,306.4 619.9,303.8 C619.8,301.2 617.0,299.9 617.3,298.6 Z" fill="#dfdfdf"/>
<path d="M647.7,309.0 C649.8,306.7 656.6,304.4 658.1,305.5 C659.5,306.7 657.4,312.2 656.4,315.9 C655.3,319.7 653.2,324.0 652.0,328.1 C650.9,332.1 650.7,339.4 649.4,340.2 C648.1,341.1 644.9,336.8 644.2,333.3 C643.5,329.8 644.5,323.5 645.1,319.4 C645.7,315.4 645.5,311.3 647.7,309.0 Z" fill="#dfdfdf"/>
<path d="M639.0,354.1 C640.9,351.2 646.5,348.9 649.4,347.2 C652.3,345.4 655.5,342.0 656.4,343.7 C657.2,345.4 655.8,352.4 654.6,357.6 C653.5,362.8 650.9,366.8 649.4,374.9 C648.0,383.0 648.8,401.0 645.9,406.2 C643.1,411.4 633.8,410.2 632.1,406.2 C630.3,402.1 634.5,388.8 635.5,381.9 C636.5,374.9 637.6,369.2 638.1,364.5 C638.7,359.9 637.1,357.0 639.0,354.1 Z" fill="#dfdfdf"/>
<path d="M661.6,314.2 C662.1,313.6 663.6,324.3 665.0,324.6 C666.5,324.9 669.5,315.7 670.2,315.9 C671.0,316.2 669.9,323.2 669.4,326.4 C668.8,329.5 668.1,334.7 666.8,335.0 C665.5,335.3 662.4,331.6 661.6,328.1 C660.7,324.6 661.0,314.8 661.6,314.2 Z" fill="#dfdfdf"/>
<path d="M668.5,340.2 C669.7,338.5 674.0,335.6 677.2,333.3 C680.4,331.0 685.3,326.6 687.6,326.4 C689.9,326.1 691.1,329.2 691.1,331.6 C691.1,333.9 689.6,338.1 687.6,340.2 C685.6,342.4 681.8,344.0 678.9,344.6 C676.0,345.2 672.0,344.4 670.2,343.7 C668.5,343.0 667.3,342.0 668.5,340.2 Z" fill="#dfdfdf"/>
<path d="M654.6,281.2 C655.8,279.5 660.1,278.6 663.3,278.6 C666.5,278.6 671.1,279.2 673.7,281.2 C676.3,283.3 679.5,289.6 678.9,290.8 C678.3,291.9 673.1,288.0 670.2,288.2 C667.3,288.3 663.9,291.5 661.6,291.6 C659.2,291.8 657.5,290.8 656.4,289.0 C655.2,287.3 653.5,283.0 654.6,281.2 Z" fill="#dfdfdf"/>
</g>
<path d="M629.7,269.8 C632.6,269.8 630.1,279.0 632.2,282.3 C634.3,285.6 638.4,288.3 642.2,289.8 C645.9,291.2 654.7,291.0 654.7,291.0 C654.7,291.0 651.3,286.4 652.2,284.8 C653.0,283.1 656.3,281.5 659.6,281.0 C663.0,280.6 668.4,280.4 672.1,282.3 C675.9,284.2 678.8,287.3 682.1,292.3 C685.4,297.3 689.8,306.0 692.1,312.2 C694.4,318.5 695.8,324.3 695.8,329.7 C695.8,335.1 694.8,339.7 692.1,344.7 C689.4,349.6 682.5,353.8 679.6,359.6 C676.7,365.4 677.2,371.1 674.6,379.6 C672.0,388.1 664.1,410.8 664.1,410.8 C664.1,410.8 617.2,410.8 617.2,410.8 C617.2,410.8 618.5,395.6 617.2,389.6 C616.0,383.5 611.4,378.7 609.8,374.6 C608.1,370.4 606.8,367.9 607.3,364.6 C607.7,361.3 611.8,358.8 612.2,354.6 C612.7,350.5 611.8,345.5 609.8,339.7 C607.7,333.8 602.7,324.7 599.8,319.7 C596.9,314.7 595.2,310.8 592.3,309.7 C589.4,308.7 581.9,316.0 582.3,313.5 C582.7,311.0 589.4,300.0 594.8,294.8 C600.2,289.6 608.9,286.4 614.7,282.3 C620.6,278.1 626.8,269.8 629.7,269.8 Z" fill="none" stroke="#777" stroke-width="1.7" stroke-linejoin="round"/>
<clipPath id="c11"><path d="M596.4,245.5 C601.6,245.8 609.1,247.0 613.7,249.0 C618.3,251.0 621.5,254.8 624.1,257.7 C626.7,260.6 628.3,263.8 629.3,266.4 C630.3,269.0 631.1,271.6 630.2,273.3 C629.3,275.0 626.9,275.3 624.1,276.8 C621.4,278.2 617.2,279.4 613.7,282.0 C610.2,284.6 606.2,288.6 603.3,292.4 C600.4,296.1 597.8,301.6 596.4,304.5 C594.9,307.4 597.2,308.1 594.6,309.7 C592.0,311.3 584.8,314.7 580.7,314.1 C576.7,313.5 573.1,309.6 570.3,306.3 C567.6,302.9 565.6,298.5 564.3,294.1 C563.0,289.8 562.4,285.2 562.5,280.2 C562.7,275.3 563.5,269.2 565.1,264.6 C566.7,260.0 569.2,255.4 572.1,252.5 C575.0,249.6 578.4,248.4 582.5,247.3 C586.5,246.1 591.1,245.2 596.4,245.5 Z"/></clipPath>
<path d="M596.4,245.5 C601.6,245.8 609.1,247.0 613.7,249.0 C618.3,251.0 621.5,254.8 624.1,257.7 C626.7,260.6 628.3,263.8 629.3,266.4 C630.3,269.0 631.1,271.6 630.2,273.3 C629.3,275.0 626.9,275.3 624.1,276.8 C621.4,278.2 617.2,279.4 613.7,282.0 C610.2,284.6 606.2,288.6 603.3,292.4 C600.4,296.1 597.8,301.6 596.4,304.5 C594.9,307.4 597.2,308.1 594.6,309.7 C592.0,311.3 584.8,314.7 580.7,314.1 C576.7,313.5 573.1,309.6 570.3,306.3 C567.6,302.9 565.6,298.5 564.3,294.1 C563.0,289.8 562.4,285.2 562.5,280.2 C562.7,275.3 563.5,269.2 565.1,264.6 C566.7,260.0 569.2,255.4 572.1,252.5 C575.0,249.6 578.4,248.4 582.5,247.3 C586.5,246.1 591.1,245.2 596.4,245.5 Z" fill="#a8a8a8"/>
<g clip-path="url(#c11)">
<path d="M572.1,253.3 C575.1,252.6 583.3,254.4 585.1,256.8 C586.8,259.3 582.6,264.5 582.5,268.1 C582.3,271.7 582.2,275.6 584.2,278.5 C586.2,281.4 593.8,282.8 594.6,285.4 C595.5,288.0 590.6,291.5 589.4,294.1 C588.3,296.7 589.4,299.0 587.7,301.1 C585.9,303.1 581.9,306.0 579.0,306.3 C576.1,306.6 572.6,305.4 570.3,302.8 C568.0,300.2 566.1,295.6 565.1,290.7 C564.1,285.7 564.0,278.2 564.3,273.3 C564.5,268.4 565.6,264.5 566.9,261.1 C568.2,257.8 569.0,254.1 572.1,253.3 Z" fill="#8a8a8a"/>
</g>
<path d="M596.4,245.5 C601.6,245.8 609.1,247.0 613.7,249.0 C618.3,251.0 621.5,254.8 624.1,257.7 C626.7,260.6 628.3,263.8 629.3,266.4 C630.3,269.0 631.1,271.6 630.2,273.3 C629.3,275.0 626.9,275.3 624.1,276.8 C621.4,278.2 617.2,279.4 613.7,282.0 C610.2,284.6 606.2,288.6 603.3,292.4 C600.4,296.1 597.8,301.6 596.4,304.5 C594.9,307.4 597.2,308.1 594.6,309.7 C592.0,311.3 584.8,314.7 580.7,314.1 C576.7,313.5 573.1,309.6 570.3,306.3 C567.6,302.9 565.6,298.5 564.3,294.1 C563.0,289.8 562.4,285.2 562.5,280.2 C562.7,275.3 563.5,269.2 565.1,264.6 C566.7,260.0 569.2,255.4 572.1,252.5 C575.0,249.6 578.4,248.4 582.5,247.3 C586.5,246.1 591.1,245.2 596.4,245.5 Z" fill="none" stroke="#777" stroke-width="1.7" stroke-linejoin="round"/>
<rect x="150" y="405.6" width="560" height="9" fill="#fff"/>
<line x1="204.8" y1="204.6" x2="430.2" y2="289.8" stroke="#1d1d1b" stroke-width="1.7"/>
<line x1="184.3" y1="264.8" x2="321.5" y2="264.8" stroke="#1d1d1b" stroke-width="1.7"/>
<line x1="145.7" y1="309.2" x2="406.8" y2="309.2" stroke="#1d1d1b" stroke-width="1.7"/>
<line x1="153.7" y1="352.9" x2="366.1" y2="352.9" stroke="#1d1d1b" stroke-width="1.7"/>
<line x1="666.0" y1="195.0" x2="445.9" y2="286.8" stroke="#1d1d1b" stroke-width="1.7"/>
<line x1="670.7" y1="239.1" x2="511.2" y2="264.3" stroke="#1d1d1b" stroke-width="1.7"/>
<line x1="703.4" y1="279.5" x2="531.2" y2="278.5" stroke="#1d1d1b" stroke-width="1.7"/>
<line x1="714.5" y1="319.3" x2="473.4" y2="290.5" stroke="#1d1d1b" stroke-width="1.7"/>
<line x1="708.3" y1="379.5" x2="484.6" y2="351.6" stroke="#1d1d1b" stroke-width="1.7"/>
<text x="158.5" y="210.5" font-size="28.6" text-anchor="start">1.3</text>
<text x="159.5" y="274.8" font-size="28.6" text-anchor="start">2</text>
<text x="118.5" y="322.0" font-size="28.6" text-anchor="start">1</text>
<text x="128.0" y="363.3" font-size="28.6" text-anchor="start">3</text>
<text x="674.5" y="191.7" font-size="28.6" text-anchor="start">1.2</text>
<text x="678.5" y="240.4" font-size="28.6" text-anchor="start">2.2</text>
<text x="707.5" y="291.1" font-size="28.6" text-anchor="start">2.1</text>
<text x="722.5" y="334.0" font-size="28.6" text-anchor="start">1.1</text>
<text x="717.5" y="391.4" font-size="28.6" text-anchor="start">3.1</text>
<clipPath id="c12"><path d="M212.2,704.8 C208.9,705.8 203.5,707.7 199.8,712.3 C196.0,716.9 192.5,725.6 189.8,732.2 C187.1,738.9 184.0,746.4 183.6,752.2 C183.1,758.0 184.6,762.2 187.3,767.2 C190.0,772.2 197.3,776.7 199.8,782.1 C202.3,787.5 199.7,790.2 202.3,799.6 C204.8,808.9 215.2,838.3 215.2,838.3 C215.2,838.3 261.6,838.3 261.6,838.3 C261.6,838.3 255.0,816.8 255.9,809.6 C256.8,802.3 264.5,799.6 267.1,794.6 C269.7,789.6 272.0,784.2 271.6,779.6 C271.2,775.1 265.8,771.7 264.6,767.2 C263.5,762.6 263.0,757.2 264.6,752.2 C266.3,747.2 268.8,740.8 274.6,737.2 C280.4,733.7 295.0,733.9 299.6,731.0 C304.1,728.1 303.3,724.6 302.0,719.8 C300.8,715.0 295.6,709.0 292.1,702.3 C288.5,695.7 283.8,684.7 280.8,679.9 C277.9,675.0 278.6,673.3 274.6,673.1 C270.7,672.9 261.1,676.2 257.1,678.6 C253.2,681.0 252.2,683.8 250.9,687.3 C249.7,690.9 251.5,695.2 249.7,699.8 C247.8,704.4 243.0,711.7 239.7,714.8 C236.4,717.9 233.2,718.1 229.7,718.5 C226.2,718.9 218.5,717.3 218.5,717.3 C218.5,717.3 220.8,708.1 219.7,706.1 C218.7,704.0 215.6,703.8 212.2,704.8 Z"/></clipPath>
<path d="M212.2,704.8 C208.9,705.8 203.5,707.7 199.8,712.3 C196.0,716.9 192.5,725.6 189.8,732.2 C187.1,738.9 184.0,746.4 183.6,752.2 C183.1,758.0 184.6,762.2 187.3,767.2 C190.0,772.2 197.3,776.7 199.8,782.1 C202.3,787.5 199.7,790.2 202.3,799.6 C204.8,808.9 215.2,838.3 215.2,838.3 C215.2,838.3 261.6,838.3 261.6,838.3 C261.6,838.3 255.0,816.8 255.9,809.6 C256.8,802.3 264.5,799.6 267.1,794.6 C269.7,789.6 272.0,784.2 271.6,779.6 C271.2,775.1 265.8,771.7 264.6,767.2 C263.5,762.6 263.0,757.2 264.6,752.2 C266.3,747.2 268.8,740.8 274.6,737.2 C280.4,733.7 295.0,733.9 299.6,731.0 C304.1,728.1 303.3,724.6 302.0,719.8 C300.8,715.0 295.6,709.0 292.1,702.3 C288.5,695.7 283.8,684.7 280.8,679.9 C277.9,675.0 278.6,673.3 274.6,673.1 C270.7,672.9 261.1,676.2 257.1,678.6 C253.2,681.0 252.2,683.8 250.9,687.3 C249.7,690.9 251.5,695.2 249.7,699.8 C247.8,704.4 243.0,711.7 239.7,714.8 C236.4,717.9 233.2,718.1 229.7,718.5 C226.2,718.9 218.5,717.3 218.5,717.3 C218.5,717.3 220.8,708.1 219.7,706.1 C218.7,704.0 215.6,703.8 212.2,704.8 Z" fill="#dfdfdf"/>
<g clip-path="url(#c12)">
<path d="M189.8,732.2 C192.5,725.6 196.0,716.7 199.8,712.3 C203.5,707.9 211.0,704.8 212.2,706.1 C213.5,707.3 207.7,714.6 207.3,719.8 C206.8,725.0 207.7,732.2 209.8,737.2 C211.8,742.2 218.5,744.3 219.7,749.7 C221.0,755.1 218.5,763.0 217.2,769.7 C216.0,776.3 211.0,778.8 212.2,789.6 C213.5,800.4 225.1,827.0 224.7,834.5 C224.3,842.0 213.5,840.3 209.8,834.5 C206.0,828.7 203.9,808.3 202.3,799.6 C200.6,790.9 202.3,787.5 199.8,782.1 C197.3,776.7 190.0,772.2 187.3,767.2 C184.6,762.2 183.1,758.0 183.6,752.2 C184.0,746.4 187.1,738.9 189.8,732.2 Z" fill="#bebebe"/>
<path d="M217.2,719.8 C219.3,718.1 226.0,720.4 229.7,719.8 C233.4,719.2 236.4,716.0 239.7,716.0 C243.0,716.0 244.7,718.3 249.7,719.8 C254.7,721.2 264.6,722.3 269.6,724.8 C274.6,727.3 281.3,733.5 279.6,734.7 C277.9,736.0 266.3,733.1 259.6,732.2 C253.0,731.4 245.5,729.3 239.7,729.8 C233.9,730.2 228.5,734.7 224.7,734.7 C221.0,734.7 218.5,732.2 217.2,729.8 C216.0,727.3 215.2,721.4 217.2,719.8 Z" fill="#bebebe"/>
<path d="M229.7,757.2 C230.5,755.5 238.0,756.8 242.2,759.7 C246.3,762.6 250.9,768.8 254.7,774.7 C258.4,780.5 263.8,789.6 264.6,794.6 C265.5,799.6 262.1,800.4 259.6,804.6 C257.1,808.7 251.7,814.6 249.7,819.6 C247.6,824.5 250.5,832.0 247.2,834.5 C243.8,837.0 230.5,839.5 229.7,834.5 C228.9,829.5 239.7,812.9 242.2,804.6 C244.7,796.3 245.5,790.4 244.7,784.6 C243.8,778.8 239.7,774.2 237.2,769.7 C234.7,765.1 228.9,758.9 229.7,757.2 Z" fill="#bebebe"/>
<path d="M251.5,689.0 C251.3,686.2 252.0,684.7 253.4,682.5 C254.8,680.4 256.9,677.6 259.9,676.0 C263.0,674.5 269.2,673.6 271.7,673.4 C274.1,673.2 273.6,673.0 274.9,674.7 C276.2,676.5 277.6,679.9 279.5,683.8 C281.3,687.7 283.8,693.6 286.0,698.2 C288.1,702.7 290.1,707.1 292.5,711.2 C294.9,715.3 297.7,720.1 300.3,722.9 C302.9,725.7 309.0,727.2 308.1,728.1 C307.2,729.0 298.5,730.0 295.1,728.1 C291.6,726.1 290.1,718.8 287.3,716.4 C284.4,714.0 281.4,714.4 278.2,713.8 C274.9,713.1 270.8,713.3 267.7,712.5 C264.7,711.6 262.1,710.7 259.9,708.6 C257.8,706.4 256.1,702.7 254.7,699.5 C253.3,696.2 251.7,691.9 251.5,689.0 Z" fill="#ababab"/>
</g>
<path d="M212.2,704.8 C208.9,705.8 203.5,707.7 199.8,712.3 C196.0,716.9 192.5,725.6 189.8,732.2 C187.1,738.9 184.0,746.4 183.6,752.2 C183.1,758.0 184.6,762.2 187.3,767.2 C190.0,772.2 197.3,776.7 199.8,782.1 C202.3,787.5 199.7,790.2 202.3,799.6 C204.8,808.9 215.2,838.3 215.2,838.3 C215.2,838.3 261.6,838.3 261.6,838.3 C261.6,838.3 255.0,816.8 255.9,809.6 C256.8,802.3 264.5,799.6 267.1,794.6 C269.7,789.6 272.0,784.2 271.6,779.6 C271.2,775.1 265.8,771.7 264.6,767.2 C263.5,762.6 263.0,757.2 264.6,752.2 C266.3,747.2 268.8,740.8 274.6,737.2 C280.4,733.7 295.0,733.9 299.6,731.0 C304.1,728.1 303.3,724.6 302.0,719.8 C300.8,715.0 295.6,709.0 292.1,702.3 C288.5,695.7 283.8,684.7 280.8,679.9 C277.9,675.0 278.6,673.3 274.6,673.1 C270.7,672.9 261.1,676.2 257.1,678.6 C253.2,681.0 252.2,683.8 250.9,687.3 C249.7,690.9 251.5,695.2 249.7,699.8 C247.8,704.4 243.0,711.7 239.7,714.8 C236.4,717.9 233.2,718.1 229.7,718.5 C226.2,718.9 218.5,717.3 218.5,717.3 C218.5,717.3 220.8,708.1 219.7,706.1 C218.7,704.0 215.6,703.8 212.2,704.8 Z" fill="none" stroke="#787878" stroke-width="1.6" stroke-linejoin="round"/>
<clipPath id="c13"><path d="M582.3,676.1 C587.3,673.4 595.2,676.7 599.8,678.6 C604.3,680.5 607.5,683.8 609.8,687.3 C612.0,690.9 612.7,696.1 613.5,699.8 C614.3,703.6 612.9,706.5 614.7,709.8 C616.6,713.1 619.7,717.5 624.7,719.8 C629.7,722.1 644.7,723.5 644.7,723.5 C644.7,723.5 645.1,714.7 645.9,712.3 C646.8,709.9 647.4,708.9 649.7,709.3 C651.9,709.7 656.3,711.8 659.6,714.8 C663.0,717.8 666.7,722.3 669.6,727.3 C672.5,732.2 675.4,739.7 677.1,744.7 C678.8,749.7 680.4,752.2 679.6,757.2 C678.8,762.2 675.4,769.2 672.1,774.7 C668.8,780.1 661.3,785.5 659.6,789.6 C658.0,793.8 662.6,795.9 662.1,799.6 C661.7,803.3 659.5,805.6 657.1,812.1 C654.8,818.5 648.2,838.3 648.2,838.3 C648.2,838.3 602.3,838.3 602.3,838.3 C602.3,838.3 604.3,822.7 603.5,817.1 C602.7,811.4 599.2,808.7 597.3,804.6 C595.4,800.4 592.9,796.3 592.3,792.1 C591.7,788.0 592.3,783.4 593.5,779.6 C594.8,775.9 598.9,773.8 599.8,769.7 C600.6,765.5 600.2,759.3 598.5,754.7 C596.9,750.1 592.1,745.1 589.8,742.2 C587.5,739.3 589.4,738.5 584.8,737.2 C580.2,736.0 568.2,736.4 562.4,734.7 C556.5,733.1 548.6,733.9 549.9,727.3 C551.1,720.6 564.4,703.4 569.8,694.8 C575.2,686.3 577.3,678.8 582.3,676.1 Z"/></clipPath>
<path d="M582.3,676.1 C587.3,673.4 595.2,676.7 599.8,678.6 C604.3,680.5 607.5,683.8 609.8,687.3 C612.0,690.9 612.7,696.1 613.5,699.8 C614.3,703.6 612.9,706.5 614.7,709.8 C616.6,713.1 619.7,717.5 624.7,719.8 C629.7,722.1 644.7,723.5 644.7,723.5 C644.7,723.5 645.1,714.7 645.9,712.3 C646.8,709.9 647.4,708.9 649.7,709.3 C651.9,709.7 656.3,711.8 659.6,714.8 C663.0,717.8 666.7,722.3 669.6,727.3 C672.5,732.2 675.4,739.7 677.1,744.7 C678.8,749.7 680.4,752.2 679.6,757.2 C678.8,762.2 675.4,769.2 672.1,774.7 C668.8,780.1 661.3,785.5 659.6,789.6 C658.0,793.8 662.6,795.9 662.1,799.6 C661.7,803.3 659.5,805.6 657.1,812.1 C654.8,818.5 648.2,838.3 648.2,838.3 C648.2,838.3 602.3,838.3 602.3,838.3 C602.3,838.3 604.3,822.7 603.5,817.1 C602.7,811.4 599.2,808.7 597.3,804.6 C595.4,800.4 592.9,796.3 592.3,792.1 C591.7,788.0 592.3,783.4 593.5,779.6 C594.8,775.9 598.9,773.8 599.8,769.7 C600.6,765.5 600.2,759.3 598.5,754.7 C596.9,750.1 592.1,745.1 589.8,742.2 C587.5,739.3 589.4,738.5 584.8,737.2 C580.2,736.0 568.2,736.4 562.4,734.7 C556.5,733.1 548.6,733.9 549.9,727.3 C551.1,720.6 564.4,703.4 569.8,694.8 C575.2,686.3 577.3,678.8 582.3,676.1 Z" fill="#dfdfdf"/>
<g clip-path="url(#c13)">
<path d="M649.7,709.8 C650.5,708.1 656.3,711.9 659.6,714.8 C663.0,717.7 666.7,722.3 669.6,727.3 C672.5,732.2 675.4,739.7 677.1,744.7 C678.8,749.7 680.4,752.2 679.6,757.2 C678.8,762.2 675.4,769.2 672.1,774.7 C668.8,780.1 661.3,785.5 659.6,789.6 C658.0,793.8 662.6,795.9 662.1,799.6 C661.7,803.3 659.2,806.2 657.1,812.1 C655.1,817.9 653.4,830.8 649.7,834.5 C645.9,838.3 635.5,839.5 634.7,834.5 C633.9,829.5 642.2,812.9 644.7,804.6 C647.2,796.3 650.1,790.4 649.7,784.6 C649.2,778.8 643.8,774.7 642.2,769.7 C640.5,764.7 638.4,759.7 639.7,754.7 C640.9,749.7 647.2,744.7 649.7,739.7 C652.2,734.7 654.7,729.8 654.7,724.8 C654.7,719.8 648.8,711.5 649.7,709.8 Z" fill="#bebebe"/>
<path d="M589.8,729.8 C591.9,727.7 601.4,726.2 607.3,724.8 C613.1,723.3 618.5,721.0 624.7,721.0 C631.0,721.0 642.2,722.1 644.7,724.8 C647.2,727.5 643.0,734.7 639.7,737.2 C636.4,739.7 629.7,740.6 624.7,739.7 C619.7,738.9 614.7,732.7 609.8,732.2 C604.8,731.8 598.1,737.7 594.8,737.2 C591.5,736.8 587.7,731.8 589.8,729.8 Z" fill="#bebebe"/>
<path d="M599.8,784.6 C601.9,779.6 605.6,778.4 609.8,774.7 C613.9,770.9 623.1,761.3 624.7,762.2 C626.4,763.0 621.4,774.2 619.7,779.6 C618.1,785.0 615.2,789.6 614.7,794.6 C614.3,799.6 618.1,802.9 617.2,809.6 C616.4,816.2 611.8,830.4 609.8,834.5 C607.7,838.7 605.8,837.4 604.8,834.5 C603.7,831.6 604.8,822.0 603.5,817.1 C602.3,812.1 597.9,810.0 597.3,804.6 C596.7,799.2 597.7,789.6 599.8,784.6 Z" fill="#bebebe"/>
<path d="M586.0,678.0 C589.0,676.9 589.0,676.0 591.2,676.0 C593.3,676.0 596.4,676.9 599.0,678.0 C601.6,679.1 604.8,680.7 606.8,682.5 C608.7,684.4 609.9,686.9 610.7,689.0 C611.5,691.2 611.8,693.0 611.3,695.6 C610.9,698.2 609.5,702.1 608.1,704.7 C606.7,707.3 605.5,709.4 602.9,711.2 C600.3,712.9 595.9,714.0 592.5,715.1 C589.0,716.2 585.3,716.8 582.1,717.7 C578.8,718.5 575.3,719.0 573.0,720.3 C570.6,721.6 569.5,724.0 567.7,725.5 C566.0,727.0 564.5,728.5 562.5,729.4 C560.6,730.3 558.0,731.0 556.0,730.7 C554.1,730.4 553.0,728.7 550.8,727.4 C548.7,726.1 542.1,727.1 543.0,722.9 C543.9,718.7 551.0,708.8 556.0,702.1 C561.0,695.3 568.0,686.6 573.0,682.5 C577.9,678.5 582.9,679.1 586.0,678.0 Z" fill="#ababab"/>
</g>
<path d="M582.3,676.1 C587.3,673.4 595.2,676.7 599.8,678.6 C604.3,680.5 607.5,683.8 609.8,687.3 C612.0,690.9 612.7,696.1 613.5,699.8 C614.3,703.6 612.9,706.5 614.7,709.8 C616.6,713.1 619.7,717.5 624.7,719.8 C629.7,722.1 644.7,723.5 644.7,723.5 C644.7,723.5 645.1,714.7 645.9,712.3 C646.8,709.9 647.4,708.9 649.7,709.3 C651.9,709.7 656.3,711.8 659.6,714.8 C663.0,717.8 666.7,722.3 669.6,727.3 C672.5,732.2 675.4,739.7 677.1,744.7 C678.8,749.7 680.4,752.2 679.6,757.2 C678.8,762.2 675.4,769.2 672.1,774.7 C668.8,780.1 661.3,785.5 659.6,789.6 C658.0,793.8 662.6,795.9 662.1,799.6 C661.7,803.3 659.5,805.6 657.1,812.1 C654.8,818.5 648.2,838.3 648.2,838.3 C648.2,838.3 602.3,838.3 602.3,838.3 C602.3,838.3 604.3,822.7 603.5,817.1 C602.7,811.4 599.2,808.7 597.3,804.6 C595.4,800.4 592.9,796.3 592.3,792.1 C591.7,788.0 592.3,783.4 593.5,779.6 C594.8,775.9 598.9,773.8 599.8,769.7 C600.6,765.5 600.2,759.3 598.5,754.7 C596.9,750.1 592.1,745.1 589.8,742.2 C587.5,739.3 589.4,738.5 584.8,737.2 C580.2,736.0 568.2,736.4 562.4,734.7 C556.5,733.1 548.6,733.9 549.9,727.3 C551.1,720.6 564.4,703.4 569.8,694.8 C575.2,686.3 577.3,678.8 582.3,676.1 Z" fill="none" stroke="#787878" stroke-width="1.6" stroke-linejoin="round"/>
<clipPath id="c14"><path d="M264.7,459.5 C256.4,460.0 247.3,462.2 239.8,465.0 C232.3,467.8 226.1,471.2 219.8,476.2 C213.6,481.2 206.3,488.5 202.4,494.9 C198.4,501.3 197.4,508.2 196.1,514.9 C194.9,521.5 194.9,528.2 194.9,534.8 C194.9,541.5 194.9,547.3 196.1,554.8 C197.4,562.2 199.2,572.2 202.4,579.7 C205.5,587.2 209.4,592.6 214.8,599.7 C220.2,606.7 229.4,615.0 234.8,622.1 C240.2,629.2 244.1,635.8 247.3,642.1 C250.4,648.3 252.0,655.8 253.5,659.5 C255.0,663.2 254.3,662.7 256.0,664.3 C257.8,666.0 261.2,668.0 263.8,669.5 C266.4,671.0 269.8,672.6 271.7,673.4 C273.5,674.3 273.6,673.0 274.9,674.7 C276.2,676.5 277.6,679.9 279.5,683.8 C281.3,687.7 283.8,693.6 286.0,698.2 C288.1,702.7 290.1,707.1 292.5,711.2 C294.9,715.3 298.8,720.3 300.3,722.9 C301.8,725.5 300.9,724.6 301.6,726.8 C302.2,729.0 303.1,732.2 304.2,735.9 C305.3,739.6 306.6,743.2 308.1,748.9 C309.6,754.6 310.1,763.6 313.3,770.0 C316.5,776.4 322.2,783.4 327.4,787.1 C332.7,790.8 339.7,791.5 344.9,792.1 C350.1,792.7 352.4,792.1 358.6,790.9 C364.9,789.6 375.5,787.3 382.3,784.6 C389.2,781.9 395.0,778.2 399.8,774.7 C404.6,771.1 407.9,766.5 411.0,763.4 C414.1,760.3 417.4,759.1 418.5,755.9 C419.5,752.8 418.3,750.7 417.2,744.7 C416.2,738.7 413.5,725.6 412.2,719.8 C411.0,714.0 411.8,711.0 409.8,709.8 C407.7,708.6 404.6,711.7 399.8,712.3 C395.0,712.9 385.6,714.6 381.1,713.5 C376.5,712.5 376.7,708.8 372.3,706.1 C368.0,703.4 356.7,700.1 354.9,697.3 C353.1,694.6 360.7,691.3 361.5,689.4 C362.3,687.5 361.2,688.0 359.7,685.9 C358.3,683.9 356.0,681.6 352.8,677.3 C349.6,672.9 344.4,665.7 340.7,659.9 C336.9,654.1 332.6,647.5 330.2,642.6 C327.9,637.6 326.8,633.3 326.8,630.4 C326.8,627.5 327.3,626.7 330.2,625.2 C333.1,623.8 338.9,622.6 344.1,621.7 C349.3,620.9 357.2,622.8 361.5,620.0 C365.8,617.2 368.6,619.3 370.0,604.7 C371.4,590.0 372.1,546.0 370.0,532.3 C367.8,518.6 360.8,527.3 357.0,522.3 C353.2,517.3 350.8,508.2 347.0,502.4 C343.3,496.6 340.0,492.4 334.6,487.4 C329.2,482.4 322.1,476.7 314.6,472.4 C307.1,468.2 298.0,464.1 289.7,462.0 C281.3,459.8 273.0,459.0 264.7,459.5 Z M347.6,718.9 C346.1,722.1 350.8,735.4 352.8,741.5 C354.8,747.5 357.4,752.0 359.7,755.4 C362.1,758.7 363.8,761.1 366.7,761.4 C369.6,761.7 374.8,759.3 377.1,757.1 C379.4,754.9 380.3,751.6 380.6,748.4 C380.9,745.2 380.0,741.5 378.8,738.0 C377.7,734.5 376.5,730.2 373.6,727.6 C370.7,725.0 365.8,723.8 361.5,722.4 C357.1,720.9 349.0,715.7 347.6,718.9 Z" fill-rule="evenodd" clip-rule="evenodd"/></clipPath>
<path d="M264.7,459.5 C256.4,460.0 247.3,462.2 239.8,465.0 C232.3,467.8 226.1,471.2 219.8,476.2 C213.6,481.2 206.3,488.5 202.4,494.9 C198.4,501.3 197.4,508.2 196.1,514.9 C194.9,521.5 194.9,528.2 194.9,534.8 C194.9,541.5 194.9,547.3 196.1,554.8 C197.4,562.2 199.2,572.2 202.4,579.7 C205.5,587.2 209.4,592.6 214.8,599.7 C220.2,606.7 229.4,615.0 234.8,622.1 C240.2,629.2 244.1,635.8 247.3,642.1 C250.4,648.3 252.0,655.8 253.5,659.5 C255.0,663.2 254.3,662.7 256.0,664.3 C257.8,666.0 261.2,668.0 263.8,669.5 C266.4,671.0 269.8,672.6 271.7,673.4 C273.5,674.3 273.6,673.0 274.9,674.7 C276.2,676.5 277.6,679.9 279.5,683.8 C281.3,687.7 283.8,693.6 286.0,698.2 C288.1,702.7 290.1,707.1 292.5,711.2 C294.9,715.3 298.8,720.3 300.3,722.9 C301.8,725.5 300.9,724.6 301.6,726.8 C302.2,729.0 303.1,732.2 304.2,735.9 C305.3,739.6 306.6,743.2 308.1,748.9 C309.6,754.6 310.1,763.6 313.3,770.0 C316.5,776.4 322.2,783.4 327.4,787.1 C332.7,790.8 339.7,791.5 344.9,792.1 C350.1,792.7 352.4,792.1 358.6,790.9 C364.9,789.6 375.5,787.3 382.3,784.6 C389.2,781.9 395.0,778.2 399.8,774.7 C404.6,771.1 407.9,766.5 411.0,763.4 C414.1,760.3 417.4,759.1 418.5,755.9 C419.5,752.8 418.3,750.7 417.2,744.7 C416.2,738.7 413.5,725.6 412.2,719.8 C411.0,714.0 411.8,711.0 409.8,709.8 C407.7,708.6 404.6,711.7 399.8,712.3 C395.0,712.9 385.6,714.6 381.1,713.5 C376.5,712.5 376.7,708.8 372.3,706.1 C368.0,703.4 356.7,700.1 354.9,697.3 C353.1,694.6 360.7,691.3 361.5,689.4 C362.3,687.5 361.2,688.0 359.7,685.9 C358.3,683.9 356.0,681.6 352.8,677.3 C349.6,672.9 344.4,665.7 340.7,659.9 C336.9,654.1 332.6,647.5 330.2,642.6 C327.9,637.6 326.8,633.3 326.8,630.4 C326.8,627.5 327.3,626.7 330.2,625.2 C333.1,623.8 338.9,622.6 344.1,621.7 C349.3,620.9 357.2,622.8 361.5,620.0 C365.8,617.2 368.6,619.3 370.0,604.7 C371.4,590.0 372.1,546.0 370.0,532.3 C367.8,518.6 360.8,527.3 357.0,522.3 C353.2,517.3 350.8,508.2 347.0,502.4 C343.3,496.6 340.0,492.4 334.6,487.4 C329.2,482.4 322.1,476.7 314.6,472.4 C307.1,468.2 298.0,464.1 289.7,462.0 C281.3,459.8 273.0,459.0 264.7,459.5 Z M347.6,718.9 C346.1,722.1 350.8,735.4 352.8,741.5 C354.8,747.5 357.4,752.0 359.7,755.4 C362.1,758.7 363.8,761.1 366.7,761.4 C369.6,761.7 374.8,759.3 377.1,757.1 C379.4,754.9 380.3,751.6 380.6,748.4 C380.9,745.2 380.0,741.5 378.8,738.0 C377.7,734.5 376.5,730.2 373.6,727.6 C370.7,725.0 365.8,723.8 361.5,722.4 C357.1,720.9 349.0,715.7 347.6,718.9 Z" fill="#dfdfdf" fill-rule="evenodd" clip-rule="evenodd"/>
<g clip-path="url(#c14)">
<path d="M198.6,528.6 C201.3,528.6 205.5,533.8 209.8,537.3 C214.2,540.8 219.8,545.2 224.8,549.8 C229.8,554.3 236.0,559.3 239.8,564.7 C243.5,570.1 245.2,575.6 247.3,582.2 C249.3,588.9 251.0,596.8 252.2,604.7 C253.5,612.6 253.9,622.1 254.7,629.6 C255.6,637.1 257.4,644.6 257.2,649.6 C257.0,654.5 257.2,664.1 253.5,659.5 C249.8,655.0 241.2,632.5 234.8,622.1 C228.3,611.7 220.2,604.7 214.8,597.2 C209.4,589.7 205.9,584.3 202.4,577.2 C198.8,570.1 195.1,561.4 193.6,554.8 C192.2,548.1 192.8,541.7 193.6,537.3 C194.5,532.9 195.9,528.6 198.6,528.6 Z" fill="#bebebe"/>
<path d="M274.7,474.9 C275.9,473.7 290.5,476.2 299.6,479.9 C308.8,483.7 325.0,491.6 329.6,497.4 C334.1,503.2 327.9,508.6 327.1,514.9 C326.2,521.1 324.6,527.3 324.6,534.8 C324.6,542.3 327.9,554.8 327.1,559.8 C326.2,564.7 322.5,562.2 319.6,564.7 C316.7,567.2 312.9,570.1 309.6,574.7 C306.3,579.3 301.9,587.6 299.6,592.2 C297.4,596.8 296.3,603.4 295.9,602.2 C295.5,600.9 295.7,592.2 297.1,584.7 C298.6,577.2 303.0,566.0 304.6,557.3 C306.3,548.5 307.5,540.6 307.1,532.3 C306.7,524.0 304.6,514.9 302.1,507.4 C299.6,499.9 296.7,492.8 292.2,487.4 C287.6,482.0 273.4,476.2 274.7,474.9 Z" fill="#bebebe"/>
<path d="M370.0,603.4 C365.5,601.3 343.0,605.3 334.6,607.1 C326.2,609.0 323.3,611.3 319.6,614.6 C315.9,618.0 312.9,622.9 312.1,627.1 C311.3,631.3 312.5,635.8 314.6,639.6 C316.7,643.3 320.8,645.0 324.6,649.6 C328.3,654.1 335.0,662.4 337.1,667.0 C339.2,671.6 335.4,672.7 337.2,677.3 C338.9,681.9 346.4,688.0 347.6,694.6 C348.7,701.3 343.5,709.4 344.1,717.2 C344.7,725.0 348.2,734.5 351.1,741.5 C354.0,748.4 361.5,755.9 361.5,758.8 C361.5,761.7 355.1,763.2 351.1,758.8 C347.0,754.5 340.7,739.7 337.2,732.8 C333.7,725.9 330.8,722.4 330.2,717.2 C329.7,712.0 331.4,705.6 333.7,701.6 C336.0,697.5 339.8,694.9 344.1,692.9 C348.5,690.9 356.8,690.6 359.7,689.4 C362.6,688.3 362.6,688.0 361.5,685.9 C360.3,683.9 356.3,681.6 352.8,677.3 C349.3,672.9 344.4,665.7 340.7,659.9 C336.9,654.1 332.6,647.5 330.2,642.6 C327.9,637.6 326.8,633.3 326.8,630.4 C326.8,627.5 324.5,626.9 330.2,625.2 C336.0,623.5 354.9,623.6 361.5,620.0 C368.1,616.4 374.5,605.5 370.0,603.4 Z" fill="#bebebe"/>
<path d="M249.7,644.9 C251.1,644.1 258.4,652.8 262.1,652.4 C265.9,652.0 270.4,642.0 272.1,642.4 C273.8,642.9 270.9,652.4 272.1,654.9 C273.4,657.4 280.0,655.8 279.6,657.4 C279.2,659.1 272.9,663.4 269.6,664.9 C266.3,666.4 262.3,667.4 259.6,666.1 C256.9,664.9 255.1,660.9 253.4,657.4 C251.7,653.9 248.2,645.8 249.7,644.9 Z" fill="#bebebe"/>
<path d="M274.9,674.7 C275.3,673.9 279.6,677.6 282.1,678.6 C284.6,679.7 287.1,680.2 289.9,681.2 C292.7,682.3 296.2,683.4 299.0,685.1 C301.8,686.9 304.2,690.1 306.8,691.7 C309.4,693.2 313.2,693.0 314.6,694.3 C316.0,695.6 315.7,697.5 315.3,699.5 C314.8,701.4 313.2,703.6 312.0,706.0 C310.8,708.4 309.6,711.6 308.1,713.8 C306.6,715.9 304.1,717.1 302.9,719.0 C301.7,720.8 302.2,725.5 300.9,724.8 C299.6,724.2 297.6,719.5 295.1,715.1 C292.6,710.6 288.6,703.4 286.0,698.2 C283.4,693.0 281.3,687.7 279.5,683.8 C277.6,679.9 274.5,675.6 274.9,674.7 Z" fill="#bebebe"/>
<path d="M303.3,724.8 C302.4,728.9 303.1,733.5 304.5,739.7 C306.0,746.0 309.9,756.4 312.0,762.2 C314.1,768.0 316.1,771.7 317.0,774.7 C317.9,777.6 315.7,777.6 317.5,779.6 C319.2,781.7 322.9,785.0 327.4,787.1 C332.0,789.2 339.7,791.5 344.9,792.1 C350.1,792.7 355.3,793.8 358.6,790.9 C361.9,788.0 367.1,776.5 364.9,774.7 C362.6,772.8 350.7,780.5 344.9,779.6 C339.1,778.8 334.1,774.7 329.9,769.7 C325.8,764.7 322.9,756.4 320.0,749.7 C317.0,743.1 314.1,735.6 312.5,729.8 C310.8,723.9 311.5,715.6 310.0,714.8 C308.4,714.0 304.2,720.6 303.3,724.8 Z" fill="#bebebe"/>
<path d="M331.1,688.9 C335.1,683.7 342.0,692.1 345.9,693.4 C349.9,694.6 354.4,692.4 354.8,696.3 C355.3,700.3 348.9,709.9 348.9,717.1 C348.9,724.3 351.9,732.2 354.8,739.4 C357.8,746.6 364.6,755.2 366.7,760.2 C368.8,765.1 368.7,764.0 367.5,769.1 C366.2,774.1 363.9,786.6 359.3,790.6 C354.7,794.6 346.2,793.9 340.0,792.8 C333.8,791.7 325.9,790.4 322.2,783.9 C318.5,777.5 317.7,764.1 317.7,754.2 C317.7,744.3 320.0,735.4 322.2,724.5 C324.4,713.7 327.1,694.1 331.1,688.9 Z" fill="#bebebe"/>
<path d="M310.0,693.8 C313.7,691.3 325.4,691.7 329.1,696.4 C332.8,701.0 332.3,713.3 332.1,721.8 C331.9,730.3 330.2,742.0 327.8,747.3 C325.4,752.6 320.6,756.2 317.6,753.6 C314.7,751.1 311.8,739.0 310.0,732.0 C308.2,725.0 306.7,718.0 306.7,711.6 C306.7,705.3 306.3,696.4 310.0,693.8 Z" fill="#dfdfdf"/>
<path d="M354.9,697.3 L372.3,706.1 L381.1,713.5 L372.3,727.3 L348.6,718.5 L351.1,704.8 Z" fill="#7d2a83"/>
<path d="M381.1,713.5 C381.1,713.5 395.0,713.1 399.8,712.3 C404.6,711.5 407.3,707.3 409.8,708.6 C412.2,709.8 413.1,713.7 414.7,719.8 C416.4,725.8 418.7,738.7 419.7,744.7 C420.8,750.7 422.4,752.8 421.0,755.9 C419.5,759.1 411.0,763.4 411.0,763.4 C411.0,763.4 406.2,755.1 402.3,752.2 C398.3,749.3 391.0,747.0 387.3,746.0 C383.6,744.9 379.8,746.0 379.8,746.0 C379.8,746.0 384.8,740.4 383.6,737.2 C382.3,734.1 372.3,727.3 372.3,727.3 C372.3,727.3 381.1,713.5 381.1,713.5 Z" fill="#9acc67"/>
<path d="M372.3,727.3 C372.3,727.3 374.4,719.4 377.3,719.8 C380.2,720.2 385.2,726.4 389.8,729.8 C394.4,733.1 400.6,735.6 404.8,739.7 C408.9,743.9 413.7,750.7 414.7,754.7 C415.8,758.6 411.0,763.4 411.0,763.4 C411.0,763.4 406.2,755.1 402.3,752.2 C398.3,749.3 391.0,747.0 387.3,746.0 C383.6,744.9 379.8,746.0 379.8,746.0 C379.8,746.0 384.8,740.4 383.6,737.2 C382.3,734.1 372.3,727.3 372.3,727.3 Z" fill="#7fc043"/>
<path d="M379.8,746.0 C379.8,746.0 383.6,744.9 387.3,746.0 C391.0,747.0 398.3,749.3 402.3,752.2 C406.2,755.1 411.0,763.4 411.0,763.4 C411.0,763.4 404.6,773.2 399.8,777.1 C395.0,781.1 389.4,784.4 382.3,787.1 C375.2,789.8 357.4,793.4 357.4,793.4 C357.4,793.4 366.0,775.1 367.3,769.7 C368.7,764.3 364.1,762.8 365.4,760.9 C366.6,759.1 372.2,759.3 374.8,758.4 C377.5,757.6 380.2,758.0 381.1,755.9 C381.9,753.9 379.8,746.0 379.8,746.0 Z" fill="#d9127e"/>
</g>
<path d="M264.7,459.5 C256.4,460.0 247.3,462.2 239.8,465.0 C232.3,467.8 226.1,471.2 219.8,476.2 C213.6,481.2 206.3,488.5 202.4,494.9 C198.4,501.3 197.4,508.2 196.1,514.9 C194.9,521.5 194.9,528.2 194.9,534.8 C194.9,541.5 194.9,547.3 196.1,554.8 C197.4,562.2 199.2,572.2 202.4,579.7 C205.5,587.2 209.4,592.6 214.8,599.7 C220.2,606.7 229.4,615.0 234.8,622.1 C240.2,629.2 244.1,635.8 247.3,642.1 C250.4,648.3 252.0,655.8 253.5,659.5 C255.0,663.2 254.3,662.7 256.0,664.3 C257.8,666.0 261.2,668.0 263.8,669.5 C266.4,671.0 269.8,672.6 271.7,673.4 C273.5,674.3 273.6,673.0 274.9,674.7 C276.2,676.5 277.6,679.9 279.5,683.8 C281.3,687.7 283.8,693.6 286.0,698.2 C288.1,702.7 290.1,707.1 292.5,711.2 C294.9,715.3 298.8,720.3 300.3,722.9 C301.8,725.5 300.9,724.6 301.6,726.8 C302.2,729.0 303.1,732.2 304.2,735.9 C305.3,739.6 306.6,743.2 308.1,748.9 C309.6,754.6 310.1,763.6 313.3,770.0 C316.5,776.4 322.2,783.4 327.4,787.1 C332.7,790.8 339.7,791.5 344.9,792.1 C350.1,792.7 352.4,792.1 358.6,790.9 C364.9,789.6 375.5,787.3 382.3,784.6 C389.2,781.9 395.0,778.2 399.8,774.7 C404.6,771.1 407.9,766.5 411.0,763.4 C414.1,760.3 417.4,759.1 418.5,755.9 C419.5,752.8 418.3,750.7 417.2,744.7 C416.2,738.7 413.5,725.6 412.2,719.8 C411.0,714.0 411.8,711.0 409.8,709.8 C407.7,708.6 404.6,711.7 399.8,712.3 C395.0,712.9 385.6,714.6 381.1,713.5 C376.5,712.5 376.7,708.8 372.3,706.1 C368.0,703.4 356.7,700.1 354.9,697.3 C353.1,694.6 360.7,691.3 361.5,689.4 C362.3,687.5 361.2,688.0 359.7,685.9 C358.3,683.9 356.0,681.6 352.8,677.3 C349.6,672.9 344.4,665.7 340.7,659.9 C336.9,654.1 332.6,647.5 330.2,642.6 C327.9,637.6 326.8,633.3 326.8,630.4 C326.8,627.5 327.3,626.7 330.2,625.2 C333.1,623.8 338.9,622.6 344.1,621.7 C349.3,620.9 357.2,622.8 361.5,620.0 C365.8,617.2 368.6,619.3 370.0,604.7 C371.4,590.0 372.1,546.0 370.0,532.3 C367.8,518.6 360.8,527.3 357.0,522.3 C353.2,517.3 350.8,508.2 347.0,502.4 C343.3,496.6 340.0,492.4 334.6,487.4 C329.2,482.4 322.1,476.7 314.6,472.4 C307.1,468.2 298.0,464.1 289.7,462.0 C281.3,459.8 273.0,459.0 264.7,459.5 Z M347.6,718.9 C346.1,722.1 350.8,735.4 352.8,741.5 C354.8,747.5 357.4,752.0 359.7,755.4 C362.1,758.7 363.8,761.1 366.7,761.4 C369.6,761.7 374.8,759.3 377.1,757.1 C379.4,754.9 380.3,751.6 380.6,748.4 C380.9,745.2 380.0,741.5 378.8,738.0 C377.7,734.5 376.5,730.2 373.6,727.6 C370.7,725.0 365.8,723.8 361.5,722.4 C357.1,720.9 349.0,715.7 347.6,718.9 Z" fill="none" stroke="#787878" stroke-width="1.6" stroke-linejoin="round"/>
<clipPath id="c15"><path d="M477.2,534.8 C478.8,528.6 485.5,531.5 492.1,524.8 C498.8,518.2 507.9,503.2 517.1,494.9 C526.2,486.6 538.2,479.6 547.0,474.9 C555.8,470.3 561.9,468.6 569.9,467.0 C577.9,465.3 586.5,464.3 594.8,465.0 C603.1,465.7 611.5,467.9 619.8,471.2 C628.1,474.5 637.7,479.7 644.7,484.9 C651.8,490.1 658.0,496.1 662.2,502.4 C666.3,508.6 668.2,515.3 669.7,522.3 C671.1,529.4 671.3,536.9 670.9,544.8 C670.5,552.7 668.2,562.5 667.2,569.7 C666.1,577.0 667.6,582.6 664.7,588.4 C661.8,594.3 655.1,599.5 649.7,604.7 C644.3,609.8 637.7,614.6 632.2,619.6 C626.8,624.6 621.4,629.6 617.3,634.6 C613.1,639.6 609.5,645.7 607.3,649.6 C605.1,653.4 605.0,655.1 604.2,657.8 C603.3,660.5 603.3,663.2 602.2,665.6 C601.2,668.0 599.5,670.4 597.7,672.1 C595.8,673.9 593.1,675.1 591.2,676.0 C589.2,677.0 587.9,676.9 586.0,678.0 C584.0,679.1 581.6,680.3 579.5,682.5 C577.3,684.8 574.9,688.4 573.0,691.7 C571.0,694.9 569.5,698.6 567.7,702.1 C566.0,705.5 564.5,709.4 562.5,712.5 C560.6,715.5 558.2,717.9 556.0,720.3 C553.9,722.7 551.0,724.6 549.5,726.8 C548.0,729.0 547.6,730.5 546.9,733.3 C546.3,736.1 546.3,739.8 545.6,743.7 C545.0,747.6 544.3,752.3 543.0,756.7 C541.7,761.1 540.8,765.8 537.8,770.0 C534.8,774.2 531.2,778.9 524.9,782.1 C518.6,785.4 506.9,788.6 500.0,789.6 C493.1,790.7 488.0,789.0 483.3,788.4 C478.7,787.7 476.1,788.0 472.1,785.9 C468.2,783.8 464.2,779.6 459.6,775.9 C455.1,772.2 448.4,767.0 444.7,763.4 C440.9,759.9 438.6,757.8 437.2,754.7 C435.7,751.6 435.7,750.5 435.9,744.7 C436.2,738.9 437.8,725.8 438.4,719.8 C439.1,713.7 438.6,710.8 439.7,708.6 C440.7,706.3 442.2,705.4 444.7,706.1 C447.2,706.7 449.7,711.7 454.7,712.3 C459.6,712.9 468.8,711.3 474.6,709.8 C480.4,708.3 485.4,705.6 489.6,703.6 C493.7,701.5 498.3,699.0 499.6,697.3 C500.8,695.6 497.5,695.6 497.0,693.4 C496.6,691.2 495.8,687.7 497.0,684.4 C498.2,681.1 501.2,676.9 504.3,673.6 C507.3,670.3 512.1,667.9 515.1,664.6 C518.1,661.3 519.9,657.3 522.3,653.7 C524.7,650.1 527.7,646.5 529.5,642.9 C531.3,639.3 533.4,635.4 533.1,632.1 C532.8,628.8 530.4,625.8 527.7,623.1 C525.0,620.4 520.5,617.5 516.9,615.9 C513.3,614.2 510.0,612.6 506.1,613.2 C502.1,613.8 496.6,616.9 493.4,619.5 C490.3,622.0 489.4,633.5 487.1,628.5 C484.8,623.5 480.5,600.7 479.7,589.7 C478.8,578.6 482.6,571.4 482.2,562.2 C481.7,553.1 475.5,541.0 477.2,534.8 Z M469.6,737.2 C470.2,733.9 471.7,730.0 474.6,727.3 C477.5,724.6 482.5,722.1 487.1,721.0 C491.7,720.0 498.7,720.4 502.0,721.0 C505.4,721.6 507.0,721.2 507.0,724.8 C507.0,728.3 503.7,737.0 502.0,742.2 C500.4,747.4 499.1,752.8 497.1,755.9 C495.0,759.1 492.9,760.9 489.6,760.9 C486.2,760.9 480.2,758.2 477.1,755.9 C474.0,753.7 472.1,750.3 470.9,747.2 C469.6,744.1 469.0,740.6 469.6,737.2 Z" fill-rule="evenodd" clip-rule="evenodd"/></clipPath>
<path d="M477.2,534.8 C478.8,528.6 485.5,531.5 492.1,524.8 C498.8,518.2 507.9,503.2 517.1,494.9 C526.2,486.6 538.2,479.6 547.0,474.9 C555.8,470.3 561.9,468.6 569.9,467.0 C577.9,465.3 586.5,464.3 594.8,465.0 C603.1,465.7 611.5,467.9 619.8,471.2 C628.1,474.5 637.7,479.7 644.7,484.9 C651.8,490.1 658.0,496.1 662.2,502.4 C666.3,508.6 668.2,515.3 669.7,522.3 C671.1,529.4 671.3,536.9 670.9,544.8 C670.5,552.7 668.2,562.5 667.2,569.7 C666.1,577.0 667.6,582.6 664.7,588.4 C661.8,594.3 655.1,599.5 649.7,604.7 C644.3,609.8 637.7,614.6 632.2,619.6 C626.8,624.6 621.4,629.6 617.3,634.6 C613.1,639.6 609.5,645.7 607.3,649.6 C605.1,653.4 605.0,655.1 604.2,657.8 C603.3,660.5 603.3,663.2 602.2,665.6 C601.2,668.0 599.5,670.4 597.7,672.1 C595.8,673.9 593.1,675.1 591.2,676.0 C589.2,677.0 587.9,676.9 586.0,678.0 C584.0,679.1 581.6,680.3 579.5,682.5 C577.3,684.8 574.9,688.4 573.0,691.7 C571.0,694.9 569.5,698.6 567.7,702.1 C566.0,705.5 564.5,709.4 562.5,712.5 C560.6,715.5 558.2,717.9 556.0,720.3 C553.9,722.7 551.0,724.6 549.5,726.8 C548.0,729.0 547.6,730.5 546.9,733.3 C546.3,736.1 546.3,739.8 545.6,743.7 C545.0,747.6 544.3,752.3 543.0,756.7 C541.7,761.1 540.8,765.8 537.8,770.0 C534.8,774.2 531.2,778.9 524.9,782.1 C518.6,785.4 506.9,788.6 500.0,789.6 C493.1,790.7 488.0,789.0 483.3,788.4 C478.7,787.7 476.1,788.0 472.1,785.9 C468.2,783.8 464.2,779.6 459.6,775.9 C455.1,772.2 448.4,767.0 444.7,763.4 C440.9,759.9 438.6,757.8 437.2,754.7 C435.7,751.6 435.7,750.5 435.9,744.7 C436.2,738.9 437.8,725.8 438.4,719.8 C439.1,713.7 438.6,710.8 439.7,708.6 C440.7,706.3 442.2,705.4 444.7,706.1 C447.2,706.7 449.7,711.7 454.7,712.3 C459.6,712.9 468.8,711.3 474.6,709.8 C480.4,708.3 485.4,705.6 489.6,703.6 C493.7,701.5 498.3,699.0 499.6,697.3 C500.8,695.6 497.5,695.6 497.0,693.4 C496.6,691.2 495.8,687.7 497.0,684.4 C498.2,681.1 501.2,676.9 504.3,673.6 C507.3,670.3 512.1,667.9 515.1,664.6 C518.1,661.3 519.9,657.3 522.3,653.7 C524.7,650.1 527.7,646.5 529.5,642.9 C531.3,639.3 533.4,635.4 533.1,632.1 C532.8,628.8 530.4,625.8 527.7,623.1 C525.0,620.4 520.5,617.5 516.9,615.9 C513.3,614.2 510.0,612.6 506.1,613.2 C502.1,613.8 496.6,616.9 493.4,619.5 C490.3,622.0 489.4,633.5 487.1,628.5 C484.8,623.5 480.5,600.7 479.7,589.7 C478.8,578.6 482.6,571.4 482.2,562.2 C481.7,553.1 475.5,541.0 477.2,534.8 Z M469.6,737.2 C470.2,733.9 471.7,730.0 474.6,727.3 C477.5,724.6 482.5,722.1 487.1,721.0 C491.7,720.0 498.7,720.4 502.0,721.0 C505.4,721.6 507.0,721.2 507.0,724.8 C507.0,728.3 503.7,737.0 502.0,742.2 C500.4,747.4 499.1,752.8 497.1,755.9 C495.0,759.1 492.9,760.9 489.6,760.9 C486.2,760.9 480.2,758.2 477.1,755.9 C474.0,753.7 472.1,750.3 470.9,747.2 C469.6,744.1 469.0,740.6 469.6,737.2 Z" fill="#dfdfdf" fill-rule="evenodd" clip-rule="evenodd"/>
<g clip-path="url(#c15)">
<path d="M527.5,499.9 C530.8,495.7 537.9,488.7 544.9,484.9 C552.0,481.2 560.7,479.3 569.9,477.4 C579.0,475.6 591.5,473.7 599.8,473.7 C608.1,473.7 613.5,475.2 619.8,477.4 C626.0,479.7 632.7,483.5 637.2,487.4 C641.8,491.4 648.5,499.3 647.2,501.1 C646.0,503.0 636.8,498.4 629.8,498.6 C622.7,498.8 612.3,500.1 604.8,502.4 C597.3,504.7 590.3,508.2 584.9,512.4 C579.4,516.5 575.7,522.8 572.4,527.3 C569.1,531.9 567.8,536.5 564.9,539.8 C562.0,543.1 557.8,543.1 554.9,547.3 C552.0,551.4 548.7,558.5 547.4,564.7 C546.2,571.0 546.8,578.9 547.4,584.7 C548.1,590.5 551.2,596.3 551.2,599.7 C551.2,603.0 549.7,606.3 547.4,604.7 C545.2,603.0 540.4,594.7 537.5,589.7 C534.6,584.7 532.9,576.8 530.0,574.7 C527.1,572.6 523.3,578.0 520.0,577.2 C516.7,576.4 510.0,572.6 510.0,569.7 C510.0,566.8 517.1,564.7 520.0,559.8 C522.9,554.8 525.8,546.0 527.5,539.8 C529.1,533.6 530.4,527.3 530.0,522.3 C529.6,517.3 525.4,513.6 525.0,509.9 C524.6,506.1 524.2,504.0 527.5,499.9 Z" fill="#bebebe"/>
<path d="M667.2,534.8 C663.8,534.4 659.7,542.3 654.7,547.3 C649.7,552.3 642.2,558.5 637.2,564.7 C632.2,571.0 628.1,578.9 624.8,584.7 C621.4,590.5 619.4,593.8 617.3,599.7 C615.2,605.5 614.0,614.6 612.3,619.6 C610.6,624.6 612.3,627.5 607.3,629.6 C602.3,631.7 587.1,629.2 582.4,632.1 C577.6,635.0 580.7,641.2 578.6,647.1 C576.5,652.9 566.4,664.9 569.9,667.0 C573.4,669.1 593.8,662.9 599.8,659.5 C605.8,656.2 603.1,651.2 606.1,647.1 C609.0,642.9 612.9,639.2 617.3,634.6 C621.6,630.0 626.8,624.6 632.2,619.6 C637.7,614.6 644.3,609.8 649.7,604.7 C655.1,599.5 660.5,597.6 664.7,588.4 C668.8,579.3 674.2,558.7 674.7,549.8 C675.1,540.8 670.5,535.2 667.2,534.8 Z" fill="#bebebe"/>
<path d="M502.4,610.5 C503.7,610.0 509.1,610.8 513.3,611.4 C517.5,612.0 523.8,612.7 527.7,614.1 C531.6,615.4 534.1,617.1 536.7,619.5 C539.3,621.9 542.4,624.9 543.0,628.5 C543.6,632.1 542.0,636.9 540.3,641.1 C538.7,645.3 535.8,649.8 533.1,653.7 C530.4,657.7 527.4,661.9 524.1,664.6 C520.8,667.3 516.3,669.4 513.3,670.0 C510.3,670.6 504.6,670.9 506.1,668.2 C507.6,665.5 518.4,658.0 522.3,653.7 C526.2,649.5 527.7,646.5 529.5,642.9 C531.3,639.3 533.4,635.4 533.1,632.1 C532.8,628.8 530.4,625.8 527.7,623.1 C525.0,620.4 520.5,617.4 516.9,615.9 C513.3,614.4 508.5,615.0 506.1,614.1 C503.7,613.2 501.2,610.9 502.4,610.5 Z" fill="#bebebe"/>
<path d="M504.0,694.3 C508.3,691.7 523.1,690.5 530.0,689.0 C536.9,687.6 540.2,687.1 545.6,685.8 C551.0,684.5 556.9,681.8 562.5,681.2 C568.2,680.7 575.8,682.8 579.5,682.5 C583.1,682.3 585.8,678.4 584.7,679.9 C583.6,681.5 575.8,688.0 573.0,691.7 C570.1,695.3 569.5,698.6 567.7,702.1 C566.0,705.5 564.5,709.4 562.5,712.5 C560.6,715.5 558.2,717.9 556.0,720.3 C553.9,722.7 551.0,724.6 549.5,726.8 C548.0,729.0 547.6,730.5 546.9,733.3 C546.3,736.1 546.3,739.8 545.6,743.7 C545.0,747.6 544.3,752.3 543.0,756.7 C541.7,761.1 540.8,765.8 537.8,770.0 C534.8,774.2 531.2,778.5 524.9,782.1 C518.6,785.8 505.8,791.7 500.0,792.1 C494.2,792.5 487.5,788.0 490.0,784.6 C492.5,781.3 508.7,777.1 515.0,772.2 C521.2,767.2 523.6,759.9 527.4,754.7 C531.2,749.5 535.9,745.5 537.8,741.1 C539.8,736.7 539.1,731.6 539.1,728.1 C539.1,724.6 539.3,722.5 537.8,720.3 C536.3,718.1 533.9,716.4 530.0,715.1 C526.1,713.8 518.7,714.2 514.4,712.5 C510.0,710.7 505.7,707.7 504.0,704.7 C502.2,701.6 499.6,696.9 504.0,694.3 Z" fill="#bebebe"/>
<path d="M457.1,712.3 C459.6,711.4 469.2,711.3 474.6,709.8 C480.0,708.3 485.4,705.6 489.6,703.6 C493.7,701.5 497.4,697.5 499.6,697.3 C501.7,697.1 503.8,700.2 502.5,702.3 C501.3,704.5 496.7,708.1 492.1,710.3 C487.4,712.5 480.0,714.5 474.6,715.3 C469.2,716.1 462.6,715.8 459.6,715.3 C456.7,714.8 454.7,713.2 457.1,712.3 Z" fill="#2e3192"/>
<path d="M435.0,708.2 L439.8,708.9 L439.2,729.0 L437.2,751.6 L430.9,753.0 L432.3,729.0 Z" fill="#4db8e8"/>
<path d="M437.2,754.7 C438.2,753.9 445.5,757.0 449.7,759.7 C453.8,762.4 458.0,767.2 462.1,770.9 C466.3,774.7 470.9,779.0 474.6,782.1 C478.3,785.3 485.0,788.8 484.6,789.6 C484.2,790.4 476.3,789.2 472.1,787.1 C468.0,785.0 464.4,780.9 459.6,777.1 C454.9,773.4 447.2,768.4 443.4,764.7 C439.7,760.9 436.2,755.5 437.2,754.7 Z" fill="#e0505a"/>
<path d="M459.6,775.9 C460.1,775.3 470.4,781.1 474.6,783.4 C478.8,785.7 485.0,789.0 484.6,789.6 C484.2,790.2 476.3,789.4 472.1,787.1 C468.0,784.8 459.2,776.5 459.6,775.9 Z" fill="#d42027"/>
</g>
<path d="M477.2,534.8 C478.8,528.6 485.5,531.5 492.1,524.8 C498.8,518.2 507.9,503.2 517.1,494.9 C526.2,486.6 538.2,479.6 547.0,474.9 C555.8,470.3 561.9,468.6 569.9,467.0 C577.9,465.3 586.5,464.3 594.8,465.0 C603.1,465.7 611.5,467.9 619.8,471.2 C628.1,474.5 637.7,479.7 644.7,484.9 C651.8,490.1 658.0,496.1 662.2,502.4 C666.3,508.6 668.2,515.3 669.7,522.3 C671.1,529.4 671.3,536.9 670.9,544.8 C670.5,552.7 668.2,562.5 667.2,569.7 C666.1,577.0 667.6,582.6 664.7,588.4 C661.8,594.3 655.1,599.5 649.7,604.7 C644.3,609.8 637.7,614.6 632.2,619.6 C626.8,624.6 621.4,629.6 617.3,634.6 C613.1,639.6 609.5,645.7 607.3,649.6 C605.1,653.4 605.0,655.1 604.2,657.8 C603.3,660.5 603.3,663.2 602.2,665.6 C601.2,668.0 599.5,670.4 597.7,672.1 C595.8,673.9 593.1,675.1 591.2,676.0 C589.2,677.0 587.9,676.9 586.0,678.0 C584.0,679.1 581.6,680.3 579.5,682.5 C577.3,684.8 574.9,688.4 573.0,691.7 C571.0,694.9 569.5,698.6 567.7,702.1 C566.0,705.5 564.5,709.4 562.5,712.5 C560.6,715.5 558.2,717.9 556.0,720.3 C553.9,722.7 551.0,724.6 549.5,726.8 C548.0,729.0 547.6,730.5 546.9,733.3 C546.3,736.1 546.3,739.8 545.6,743.7 C545.0,747.6 544.3,752.3 543.0,756.7 C541.7,761.1 540.8,765.8 537.8,770.0 C534.8,774.2 531.2,778.9 524.9,782.1 C518.6,785.4 506.9,788.6 500.0,789.6 C493.1,790.7 488.0,789.0 483.3,788.4 C478.7,787.7 476.1,788.0 472.1,785.9 C468.2,783.8 464.2,779.6 459.6,775.9 C455.1,772.2 448.4,767.0 444.7,763.4 C440.9,759.9 438.6,757.8 437.2,754.7 C435.7,751.6 435.7,750.5 435.9,744.7 C436.2,738.9 437.8,725.8 438.4,719.8 C439.1,713.7 438.6,710.8 439.7,708.6 C440.7,706.3 442.2,705.4 444.7,706.1 C447.2,706.7 449.7,711.7 454.7,712.3 C459.6,712.9 468.8,711.3 474.6,709.8 C480.4,708.3 485.4,705.6 489.6,703.6 C493.7,701.5 498.3,699.0 499.6,697.3 C500.8,695.6 497.5,695.6 497.0,693.4 C496.6,691.2 495.8,687.7 497.0,684.4 C498.2,681.1 501.2,676.9 504.3,673.6 C507.3,670.3 512.1,667.9 515.1,664.6 C518.1,661.3 519.9,657.3 522.3,653.7 C524.7,650.1 527.7,646.5 529.5,642.9 C531.3,639.3 533.4,635.4 533.1,632.1 C532.8,628.8 530.4,625.8 527.7,623.1 C525.0,620.4 520.5,617.5 516.9,615.9 C513.3,614.2 510.0,612.6 506.1,613.2 C502.1,613.8 496.6,616.9 493.4,619.5 C490.3,622.0 489.4,633.5 487.1,628.5 C484.8,623.5 480.5,600.7 479.7,589.7 C478.8,578.6 482.6,571.4 482.2,562.2 C481.7,553.1 475.5,541.0 477.2,534.8 Z M469.6,737.2 C470.2,733.9 471.7,730.0 474.6,727.3 C477.5,724.6 482.5,722.1 487.1,721.0 C491.7,720.0 498.7,720.4 502.0,721.0 C505.4,721.6 507.0,721.2 507.0,724.8 C507.0,728.3 503.7,737.0 502.0,742.2 C500.4,747.4 499.1,752.8 497.1,755.9 C495.0,759.1 492.9,760.9 489.6,760.9 C486.2,760.9 480.2,758.2 477.1,755.9 C474.0,753.7 472.1,750.3 470.9,747.2 C469.6,744.1 469.0,740.6 469.6,737.2 Z" fill="none" stroke="#787878" stroke-width="1.6" stroke-linejoin="round"/>
<path d="M626.8,580.2 C627.6,578.7 629.9,573.9 631.7,571.0 C633.6,568.1 636.7,564.1 637.7,562.7" fill="none" stroke="#a23aa5" stroke-width="1.0" stroke-linejoin="round" stroke-linecap="round"/>
<clipPath id="c16"><path d="M376.1,521.1 C366.6,526.1 369.7,533.4 367.4,542.3 C365.1,551.2 363.3,563.1 362.4,574.7 C361.6,586.4 361.6,601.3 362.4,612.1 C363.3,622.9 363.3,632.5 367.4,639.6 C371.6,646.6 381.1,650.4 387.4,654.5 C393.6,658.7 400.7,661.2 404.8,664.5 C409.0,667.8 411.5,671.9 412.3,674.5 C413.1,677.1 406.0,679.0 409.8,679.9 C413.5,680.8 430.9,680.8 434.7,679.9 C438.4,679.0 431.4,677.1 432.3,674.5 C433.1,671.9 436.8,667.0 439.8,664.5 C442.7,662.0 444.7,662.0 449.7,659.5 C454.7,657.0 463.4,653.7 469.7,649.6 C475.9,645.4 483.8,640.8 487.1,634.6 C490.5,628.3 489.6,621.3 489.6,612.1 C489.6,603.0 488.4,590.1 487.1,579.7 C485.9,569.3 484.4,559.5 482.2,549.8 C479.9,540.0 483.0,527.3 473.4,521.1 C463.9,514.9 441.0,512.4 424.8,512.4 C408.6,512.4 385.7,516.1 376.1,521.1 Z"/></clipPath>
<path d="M376.1,521.1 C366.6,526.1 369.7,533.4 367.4,542.3 C365.1,551.2 363.3,563.1 362.4,574.7 C361.6,586.4 361.6,601.3 362.4,612.1 C363.3,622.9 363.3,632.5 367.4,639.6 C371.6,646.6 381.1,650.4 387.4,654.5 C393.6,658.7 400.7,661.2 404.8,664.5 C409.0,667.8 411.5,671.9 412.3,674.5 C413.1,677.1 406.0,679.0 409.8,679.9 C413.5,680.8 430.9,680.8 434.7,679.9 C438.4,679.0 431.4,677.1 432.3,674.5 C433.1,671.9 436.8,667.0 439.8,664.5 C442.7,662.0 444.7,662.0 449.7,659.5 C454.7,657.0 463.4,653.7 469.7,649.6 C475.9,645.4 483.8,640.8 487.1,634.6 C490.5,628.3 489.6,621.3 489.6,612.1 C489.6,603.0 488.4,590.1 487.1,579.7 C485.9,569.3 484.4,559.5 482.2,549.8 C479.9,540.0 483.0,527.3 473.4,521.1 C463.9,514.9 441.0,512.4 424.8,512.4 C408.6,512.4 385.7,516.1 376.1,521.1 Z" fill="#dfdfdf"/>
<g clip-path="url(#c16)">
<path d="M365.4,602.9 C367.2,603.8 369.5,604.1 370.6,608.1 C371.8,612.2 371.8,621.7 372.4,627.2 C372.9,632.7 374.7,638.2 374.1,641.1 C373.5,644.0 371.2,646.9 368.9,644.6 C366.6,642.3 361.7,634.2 360.2,627.2 C358.8,620.3 359.3,607.0 360.2,602.9 C361.1,598.9 363.7,602.0 365.4,602.9 Z" fill="#bebebe"/>
<path d="M367.4,542.3 C370.5,541.5 377.2,540.2 378.6,544.8 C380.1,549.4 377.4,562.2 376.1,569.7 C374.9,577.2 373.9,586.4 371.2,589.7 C368.5,593.0 361.8,596.3 359.9,589.7 C358.1,583.0 358.7,557.7 359.9,549.8 C361.2,541.9 364.3,543.1 367.4,542.3 Z" fill="#cccccc"/>
<path d="M483.5,550.8 C484.8,554.6 486.4,569.9 487.8,578.6 C489.3,587.3 491.6,595.4 492.2,602.9 C492.7,610.4 492.4,617.7 491.3,623.8 C490.1,629.8 486.2,640.5 485.2,639.4 C484.2,638.2 485.4,626.4 485.2,616.8 C485.1,607.3 485.2,592.2 484.3,582.1 C483.5,572.0 480.1,561.2 480.0,556.0 C479.9,550.8 482.2,547.1 483.5,550.8 Z" fill="#bebebe"/>
<path d="M427.0,556.0 C428.1,552.3 431.2,555.2 432.3,559.5 C433.3,563.9 433.3,575.4 433.1,582.1 C433.0,588.7 432.3,596.6 431.4,599.4 C430.5,602.3 428.8,602.3 427.9,599.4 C427.0,596.6 426.3,589.3 426.2,582.1 C426.0,574.8 426.0,559.8 427.0,556.0 Z" fill="#bebebe"/>
<path d="M445.3,582.1 C446.6,579.2 449.0,587.3 449.6,590.8 C450.2,594.2 449.8,599.4 448.8,602.9 C447.7,606.4 444.1,607.5 443.5,611.6 C443.0,615.6 443.8,622.9 445.3,627.2 C446.7,631.6 450.2,634.2 452.2,637.6 C454.2,641.1 453.4,647.5 457.4,648.1 C461.5,648.6 474.8,640.2 476.5,641.1 C478.3,642.0 472.8,649.2 467.8,653.3 C462.9,657.3 451.4,663.7 447.0,665.4 C442.7,667.2 442.8,667.7 441.8,663.7 C440.8,659.6 440.6,647.2 440.9,641.1 C441.2,635.0 443.4,632.7 443.5,627.2 C443.7,621.7 441.5,615.6 441.8,608.1 C442.1,600.6 444.0,585.0 445.3,582.1 Z" fill="#bebebe"/>
<ellipse cx="389.7" cy="559.5" rx="8.0" ry="5.9" fill="#b6b6b6"/>
<ellipse cx="392.3" cy="583.8" rx="8.2" ry="8.0" fill="#b6b6b6"/>
<ellipse cx="395.8" cy="610.7" rx="7.3" ry="7.3" fill="#b6b6b6"/>
<ellipse cx="398.1" cy="640.2" rx="5.2" ry="5.2" fill="#b6b6b6"/>
<ellipse cx="460.9" cy="558.6" rx="6.6" ry="4.7" fill="#b6b6b6"/>
<ellipse cx="458.3" cy="584.7" rx="7.6" ry="8.0" fill="#b6b6b6"/>
<ellipse cx="452.2" cy="612.5" rx="3.8" ry="7.3" fill="#b6b6b6"/>
<ellipse cx="450.1" cy="642.0" rx="5.9" ry="5.9" fill="#b6b6b6"/>
<path d="M415.8,571.7 C416.9,572.5 420.4,576.6 422.7,576.9 C425.0,577.2 427.6,575.0 429.7,573.4 C431.7,571.8 432.8,568.5 434.9,567.3 C436.9,566.2 439.8,566.0 441.8,566.5 C443.8,566.9 446.1,569.4 447.0,569.9" fill="none" stroke="#8a8a8a" stroke-width="1.2"/>
<path d="M421.8,596.0 C421.8,597.4 421.1,602.6 421.8,604.7 C422.6,606.7 424.6,608.1 426.2,608.1 C427.8,608.1 430.4,606.7 431.4,604.7 C432.4,602.6 432.1,597.4 432.3,596.0" fill="none" stroke="#8a8a8a" stroke-width="1.2"/>
<path d="M421.8,637.6 C422.0,638.9 421.8,643.6 422.7,645.5 C423.6,647.3 425.6,649.1 427.0,648.9 C428.5,648.8 430.7,645.3 431.4,644.6" fill="none" stroke="#8a8a8a" stroke-width="1.2"/>
<path d="M433.1,661.1 C433.7,661.8 435.3,665.0 436.6,665.4 C437.9,665.9 440.1,667.7 440.9,663.7 C441.8,659.6 441.7,644.9 441.8,641.1" fill="none" stroke="#8a8a8a" stroke-width="1.2"/>
<path d="M428.8,556.0 C428.6,564.7 427.8,592.2 427.9,608.1 C428.1,624.0 429.1,642.0 429.7,651.5 C430.2,661.1 431.1,663.1 431.4,665.4" fill="none" stroke="#a0a0a0" stroke-width="0.9"/>
<path d="M401.9,592.5 C402.5,595.1 405.2,602.3 405.3,608.1 C405.5,613.9 402.9,620.6 402.7,627.2 C402.6,633.9 403.5,642.0 404.5,648.1 C405.5,654.1 408.1,661.1 408.8,663.7" fill="none" stroke="#a0a0a0" stroke-width="0.9"/>
<path d="M445.3,582.1 C444.7,586.4 442.1,600.6 441.8,608.1 C441.5,615.6 443.7,621.7 443.5,627.2 C443.4,632.7 441.4,638.8 440.9,641.1" fill="none" stroke="#a0a0a0" stroke-width="0.9"/>
<path d="M397.5,552.6 C397.7,554.3 399.7,560.7 398.4,563.0 C397.1,565.3 392.3,566.3 389.7,566.5 C387.1,566.6 383.9,564.3 382.8,563.9" fill="none" stroke="#999" stroke-width="1.1"/>
<path d="M400.1,580.3 C400.2,581.5 401.8,585.3 400.5,587.3 C399.2,589.3 394.7,591.9 392.3,592.2 C390.0,592.4 387.3,589.5 386.2,589.0" fill="none" stroke="#999" stroke-width="1.1"/>
<path d="M402.7,608.1 C402.6,609.3 403.2,613.4 401.9,615.1 C400.6,616.7 397.4,618.5 394.9,618.2 C392.5,617.9 388.4,614.1 387.1,613.3" fill="none" stroke="#999" stroke-width="1.1"/>
<path d="M402.7,638.5 C402.5,639.5 402.2,643.4 401.0,644.6 C399.8,645.7 397.4,645.9 395.8,645.5 C394.2,645.0 392.2,642.6 391.5,642.0" fill="none" stroke="#999" stroke-width="1.1"/>
<path d="M454.8,557.8 C455.5,558.6 457.0,562.1 459.2,563.0 C461.3,563.9 466.4,563.0 467.8,563.0" fill="none" stroke="#999" stroke-width="1.1"/>
<path d="M451.4,580.3 C451.2,581.8 449.2,586.9 450.5,589.0 C451.8,591.2 457.7,592.6 459.2,593.4" fill="none" stroke="#999" stroke-width="1.1"/>
<path d="M449.6,604.7 C448.9,606.0 445.3,609.9 445.3,612.5 C445.3,615.1 448.3,619.0 449.6,620.3 C450.9,621.6 452.5,620.3 453.1,620.3" fill="none" stroke="#999" stroke-width="1.1"/>
</g>
<path d="M376.1,521.1 C366.6,526.1 369.7,533.4 367.4,542.3 C365.1,551.2 363.3,563.1 362.4,574.7 C361.6,586.4 361.6,601.3 362.4,612.1 C363.3,622.9 363.3,632.5 367.4,639.6 C371.6,646.6 381.1,650.4 387.4,654.5 C393.6,658.7 400.7,661.2 404.8,664.5 C409.0,667.8 411.5,671.9 412.3,674.5 C413.1,677.1 406.0,679.0 409.8,679.9 C413.5,680.8 430.9,680.8 434.7,679.9 C438.4,679.0 431.4,677.1 432.3,674.5 C433.1,671.9 436.8,667.0 439.8,664.5 C442.7,662.0 444.7,662.0 449.7,659.5 C454.7,657.0 463.4,653.7 469.7,649.6 C475.9,645.4 483.8,640.8 487.1,634.6 C490.5,628.3 489.6,621.3 489.6,612.1 C489.6,603.0 488.4,590.1 487.1,579.7 C485.9,569.3 484.4,559.5 482.2,549.8 C479.9,540.0 483.0,527.3 473.4,521.1 C463.9,514.9 441.0,512.4 424.8,512.4 C408.6,512.4 385.7,516.1 376.1,521.1 Z" fill="none" stroke="#787878" stroke-width="1.7" stroke-linejoin="round"/>
<path d="M416.9,714.7 C418.8,714.2 426.5,713.6 428.4,714.1 C430.2,714.6 428.5,716.7 428.1,717.9 C427.7,719.1 426.8,720.4 425.8,721.1 C424.8,721.7 423.2,721.9 422.0,721.7 C420.8,721.5 419.7,720.6 418.8,719.8 C418.0,719.1 417.2,718.1 416.9,717.3 C416.6,716.4 415.0,715.3 416.9,714.7 Z" fill="#dfdfdf" stroke="#787878" stroke-width="1.2" stroke-linejoin="round" stroke-linecap="round"/>
<path d="M412.5,704.5 C415.8,703.8 428.8,703.2 432.2,703.9 C435.5,704.6 432.7,707.5 432.4,709.0 C432.1,710.5 431.4,712.0 430.3,712.8 C429.2,713.7 427.8,713.9 425.8,714.1 C423.8,714.3 420.2,714.4 418.2,714.1 C416.2,713.8 414.8,713.1 413.7,712.2 C412.7,711.2 412.0,709.6 411.8,708.4 C411.6,707.1 409.1,705.3 412.5,704.5 Z" fill="#dfdfdf" stroke="#787878" stroke-width="1.2" stroke-linejoin="round" stroke-linecap="round"/>
<path d="M410.5,693.1 C414.7,692.2 430.5,691.6 434.7,692.5 C439.0,693.3 436.0,696.5 436.0,698.2 C436.0,699.9 435.6,701.7 434.7,702.6 C433.9,703.6 434.3,703.7 430.9,703.9 C427.5,704.1 417.8,704.2 414.4,703.9 C411.0,703.6 411.3,703.1 410.5,702.0 C409.7,700.9 409.5,699.0 409.5,697.5 C409.5,696.1 406.3,693.9 410.5,693.1 Z" fill="#dfdfdf" stroke="#787878" stroke-width="1.3" stroke-linejoin="round" stroke-linecap="round"/>
<clipPath id="c17"><path d="M396.5,683.5 C397.3,682.3 399.3,680.7 401.6,679.1 C404.0,677.5 408.5,675.8 410.5,674.0 C412.6,672.2 413.7,668.3 413.7,668.3 C413.7,668.3 415.5,672.7 416.9,674.0 C418.3,675.3 420.1,675.9 422.0,675.9 C423.9,675.9 426.8,675.4 428.4,674.0 C429.9,672.6 431.5,667.6 431.5,667.6 C431.5,667.6 433.1,671.2 434.7,672.7 C436.3,674.2 438.8,675.1 441.1,676.5 C443.4,678.0 447.1,680.4 448.7,681.6 C450.3,682.9 450.8,683.3 450.6,684.2 C450.4,685.0 449.3,685.9 447.4,686.7 C445.6,687.6 441.9,688.4 439.8,689.3 C437.7,690.1 437.5,691.3 434.7,691.8 C432.0,692.3 427.5,692.5 423.3,692.5 C419.0,692.5 412.9,692.2 409.3,691.8 C405.7,691.4 403.6,690.8 401.6,689.9 C399.6,689.1 398.0,687.8 397.2,686.7 C396.3,685.7 395.8,684.8 396.5,683.5 Z"/></clipPath>
<path d="M396.5,683.5 C397.3,682.3 399.3,680.7 401.6,679.1 C404.0,677.5 408.5,675.8 410.5,674.0 C412.6,672.2 413.7,668.3 413.7,668.3 C413.7,668.3 415.5,672.7 416.9,674.0 C418.3,675.3 420.1,675.9 422.0,675.9 C423.9,675.9 426.8,675.4 428.4,674.0 C429.9,672.6 431.5,667.6 431.5,667.6 C431.5,667.6 433.1,671.2 434.7,672.7 C436.3,674.2 438.8,675.1 441.1,676.5 C443.4,678.0 447.1,680.4 448.7,681.6 C450.3,682.9 450.8,683.3 450.6,684.2 C450.4,685.0 449.3,685.9 447.4,686.7 C445.6,687.6 441.9,688.4 439.8,689.3 C437.7,690.1 437.5,691.3 434.7,691.8 C432.0,692.3 427.5,692.5 423.3,692.5 C419.0,692.5 412.9,692.2 409.3,691.8 C405.7,691.4 403.6,690.8 401.6,689.9 C399.6,689.1 398.0,687.8 397.2,686.7 C396.3,685.7 395.8,684.8 396.5,683.5 Z" fill="#dfdfdf"/>
<g clip-path="url(#c17)">
<path d="M418.2,675.3 C418.6,674.8 420.4,676.6 422.0,676.5 C423.6,676.5 426.9,674.6 427.7,675.0 C428.6,675.4 428.5,678.4 427.1,679.1 C425.7,679.8 420.9,679.7 419.5,679.1 C418.0,678.5 417.8,675.7 418.2,675.3 Z" fill="#bebebe"/>
<path d="M428.4,687.4 C429.2,686.1 433.4,684.6 436.0,684.2 C438.5,683.8 441.5,684.6 443.6,684.8 C445.8,685.0 449.4,684.6 448.7,685.5 C448.1,686.3 442.8,688.8 439.8,689.9 C436.8,691.0 432.8,692.2 430.9,691.8 C429.0,691.4 427.5,688.6 428.4,687.4 Z" fill="#bebebe"/>
</g>
<path d="M396.5,683.5 C397.3,682.3 399.3,680.7 401.6,679.1 C404.0,677.5 408.5,675.8 410.5,674.0 C412.6,672.2 413.7,668.3 413.7,668.3 C413.7,668.3 415.5,672.7 416.9,674.0 C418.3,675.3 420.1,675.9 422.0,675.9 C423.9,675.9 426.8,675.4 428.4,674.0 C429.9,672.6 431.5,667.6 431.5,667.6 C431.5,667.6 433.1,671.2 434.7,672.7 C436.3,674.2 438.8,675.1 441.1,676.5 C443.4,678.0 447.1,680.4 448.7,681.6 C450.3,682.9 450.8,683.3 450.6,684.2 C450.4,685.0 449.3,685.9 447.4,686.7 C445.6,687.6 441.9,688.4 439.8,689.3 C437.7,690.1 437.5,691.3 434.7,691.8 C432.0,692.3 427.5,692.5 423.3,692.5 C419.0,692.5 412.9,692.2 409.3,691.8 C405.7,691.4 403.6,690.8 401.6,689.9 C399.6,689.1 398.0,687.8 397.2,686.7 C396.3,685.7 395.8,684.8 396.5,683.5 Z" fill="none" stroke="#787878" stroke-width="1.4" stroke-linejoin="round"/>
<path d="M410.5,710.9 L416.9,714.7 L428.4,714.5 L434.7,708.4 L433.4,731.3 L431.5,752.9 L418.2,753.5 L414.4,731.3 Z" fill="#c4c4c4"/>
<path d="M411.2,712.2 L415.0,714.7 L418.2,736.4 L419.5,752.9 L417.7,753.5 L414.1,731.3 Z" fill="#d4d4d4"/>
<path d="M423.3,723.6 C423.9,721.7 426.8,720.9 427.7,724.9 C428.7,728.9 429.5,743.9 429.0,747.8 C428.5,751.7 425.4,750.4 424.5,748.4 C423.7,746.5 424.1,740.5 423.9,736.4 C423.7,732.2 422.6,725.5 423.3,723.6 Z" fill="#ffffff"/>
<path d="M435.0,708.2 L439.8,708.9 L439.2,729.0 L437.2,751.6 L430.9,753.0 L432.3,729.0 Z" fill="#4db8e8"/>
<path d="M416.9,714.7 C418.8,714.2 426.5,713.6 428.4,714.1 C430.2,714.6 428.5,716.7 428.1,717.9 C427.7,719.1 426.8,720.4 425.8,721.1 C424.8,721.7 423.2,721.9 422.0,721.7 C420.8,721.5 419.7,720.6 418.8,719.8 C418.0,719.1 417.2,718.1 416.9,717.3 C416.6,716.4 415.0,715.3 416.9,714.7 Z" fill="#dfdfdf" stroke="#787878" stroke-width="1.2" stroke-linejoin="round" stroke-linecap="round"/>
<path d="M378.3,519.5 C370.8,524.2 378.0,538.6 380.3,543.7 C382.7,548.7 388.9,550.7 392.4,549.7 C396.0,548.7 398.0,540.2 401.5,537.6 C405.0,535.0 410.6,532.6 413.6,534.0 C416.6,535.3 417.4,541.4 419.6,545.7 C421.8,550.0 424.3,559.8 426.7,559.8 C429.0,559.8 431.9,549.9 433.7,545.7 C435.6,541.5 435.1,536.4 437.8,534.6 C440.4,532.7 446.8,532.7 449.8,534.6 C452.9,536.4 453.5,543.5 455.9,545.7 C458.2,547.9 461.4,548.7 464.0,547.7 C466.5,546.7 469.7,544.0 471.0,539.6 C472.3,535.3 479.6,525.5 472.0,521.5 C464.5,517.5 441.3,515.8 425.7,515.4 C410.1,515.1 385.9,514.8 378.3,519.5 Z" fill="#bebebe"/>
<clipPath id="c18"><path d="M344.1,472.1 C344.2,469.8 345.9,469.5 348.1,469.5 C350.3,469.5 354.0,470.3 357.2,472.1 C360.4,473.9 363.4,478.1 367.2,480.2 C371.1,482.3 377.5,480.6 380.3,484.8 C383.2,489.0 386.2,502.1 384.4,505.4 C382.5,508.6 374.1,506.0 369.3,504.4 C364.4,502.7 358.8,498.8 355.1,495.3 C351.5,491.8 348.9,487.1 347.1,483.2 C345.2,479.3 343.9,474.4 344.1,472.1 Z"/></clipPath>
<path d="M344.1,472.1 C344.2,469.8 345.9,469.5 348.1,469.5 C350.3,469.5 354.0,470.3 357.2,472.1 C360.4,473.9 363.4,478.1 367.2,480.2 C371.1,482.3 377.5,480.6 380.3,484.8 C383.2,489.0 386.2,502.1 384.4,505.4 C382.5,508.6 374.1,506.0 369.3,504.4 C364.4,502.7 358.8,498.8 355.1,495.3 C351.5,491.8 348.9,487.1 347.1,483.2 C345.2,479.3 343.9,474.4 344.1,472.1 Z" fill="#dfdfdf"/>
<g clip-path="url(#c18)">
<path d="M369.3,485.2 C371.4,483.2 378.7,479.5 381.3,483.2 C384.0,486.9 387.1,503.7 385.4,507.4 C383.7,511.1 374.1,507.4 371.3,505.4 C368.4,503.4 368.6,498.7 368.2,495.3 C367.9,491.9 367.1,487.2 369.3,485.2 Z" fill="#bebebe"/>
</g>
<path d="M344.1,472.1 C344.2,469.8 345.9,469.5 348.1,469.5 C350.3,469.5 354.0,470.3 357.2,472.1 C360.4,473.9 363.4,478.1 367.2,480.2 C371.1,482.3 377.5,480.6 380.3,484.8 C383.2,489.0 386.2,502.1 384.4,505.4 C382.5,508.6 374.1,506.0 369.3,504.4 C364.4,502.7 358.8,498.8 355.1,495.3 C351.5,491.8 348.9,487.1 347.1,483.2 C345.2,479.3 343.9,474.4 344.1,472.1 Z" fill="none" stroke="#777" stroke-width="1.7" stroke-linejoin="round"/>
<clipPath id="c19"><path d="M508.3,470.1 C508.8,471.3 508.6,474.0 507.3,477.2 C505.9,480.4 503.4,485.6 500.2,489.3 C497.0,492.9 492.2,496.9 488.1,499.3 C484.1,501.7 478.7,506.1 476.0,503.8 C473.4,501.4 470.7,488.8 472.0,485.2 C473.4,481.6 480.1,484.0 484.1,482.2 C488.1,480.4 492.8,476.2 496.2,474.1 C499.6,472.1 502.2,470.8 504.3,470.1 C506.3,469.4 507.8,468.9 508.3,470.1 Z"/></clipPath>
<path d="M508.3,470.1 C508.8,471.3 508.6,474.0 507.3,477.2 C505.9,480.4 503.4,485.6 500.2,489.3 C497.0,492.9 492.2,496.9 488.1,499.3 C484.1,501.7 478.7,506.1 476.0,503.8 C473.4,501.4 470.7,488.8 472.0,485.2 C473.4,481.6 480.1,484.0 484.1,482.2 C488.1,480.4 492.8,476.2 496.2,474.1 C499.6,472.1 502.2,470.8 504.3,470.1 C506.3,469.4 507.8,468.9 508.3,470.1 Z" fill="#dfdfdf"/>
<g clip-path="url(#c19)">
<path d="M470.0,485.2 C471.7,481.5 481.6,480.5 484.1,483.2 C486.6,486.0 486.8,498.1 485.1,501.7 C483.4,505.4 476.5,508.1 474.0,505.4 C471.5,502.6 468.3,488.9 470.0,485.2 Z" fill="#bebebe"/>
</g>
<path d="M508.3,470.1 C508.8,471.3 508.6,474.0 507.3,477.2 C505.9,480.4 503.4,485.6 500.2,489.3 C497.0,492.9 492.2,496.9 488.1,499.3 C484.1,501.7 478.7,506.1 476.0,503.8 C473.4,501.4 470.7,488.8 472.0,485.2 C473.4,481.6 480.1,484.0 484.1,482.2 C488.1,480.4 492.8,476.2 496.2,474.1 C499.6,472.1 502.2,470.8 504.3,470.1 C506.3,469.4 507.8,468.9 508.3,470.1 Z" fill="none" stroke="#777" stroke-width="1.7" stroke-linejoin="round"/>
<clipPath id="c20"><path d="M383.4,500.3 C385.4,498.4 391.1,501.2 395.4,501.7 C399.8,502.2 404.5,502.8 409.6,503.4 C414.6,504.0 420.0,505.5 425.7,505.4 C431.4,505.2 438.4,502.9 443.8,502.4 C449.2,501.8 453.9,502.0 457.9,502.4 C461.9,502.7 466.5,502.9 468.0,504.4 C469.5,505.9 467.0,507.9 467.0,511.4 C467.0,514.9 468.2,521.0 468.0,525.5 C467.8,530.1 467.3,535.6 466.0,538.6 C464.6,541.6 461.9,543.5 459.9,543.7 C457.9,543.8 455.6,541.8 453.9,539.6 C452.2,537.4 452.2,532.2 449.8,530.6 C447.5,528.9 442.8,529.0 439.8,529.6 C436.8,530.1 433.4,530.6 431.7,533.6 C430.0,536.6 430.5,544.2 429.7,547.7 C428.9,551.2 427.7,554.4 426.7,554.7 C425.7,555.1 424.8,552.9 423.7,549.7 C422.5,546.5 421.3,539.1 419.6,535.6 C417.9,532.1 416.1,529.9 413.6,528.5 C411.1,527.2 407.2,527.0 404.5,527.5 C401.8,528.0 399.0,529.6 397.5,531.6 C396.0,533.6 396.6,537.6 395.4,539.6 C394.3,541.6 392.3,543.7 390.4,543.7 C388.6,543.7 385.9,542.6 384.4,539.6 C382.9,536.6 381.5,529.9 381.3,525.5 C381.2,521.2 383.0,517.6 383.4,513.4 C383.7,509.2 381.3,502.3 383.4,500.3 Z"/></clipPath>
<path d="M383.4,500.3 C385.4,498.4 391.1,501.2 395.4,501.7 C399.8,502.2 404.5,502.8 409.6,503.4 C414.6,504.0 420.0,505.5 425.7,505.4 C431.4,505.2 438.4,502.9 443.8,502.4 C449.2,501.8 453.9,502.0 457.9,502.4 C461.9,502.7 466.5,502.9 468.0,504.4 C469.5,505.9 467.0,507.9 467.0,511.4 C467.0,514.9 468.2,521.0 468.0,525.5 C467.8,530.1 467.3,535.6 466.0,538.6 C464.6,541.6 461.9,543.5 459.9,543.7 C457.9,543.8 455.6,541.8 453.9,539.6 C452.2,537.4 452.2,532.2 449.8,530.6 C447.5,528.9 442.8,529.0 439.8,529.6 C436.8,530.1 433.4,530.6 431.7,533.6 C430.0,536.6 430.5,544.2 429.7,547.7 C428.9,551.2 427.7,554.4 426.7,554.7 C425.7,555.1 424.8,552.9 423.7,549.7 C422.5,546.5 421.3,539.1 419.6,535.6 C417.9,532.1 416.1,529.9 413.6,528.5 C411.1,527.2 407.2,527.0 404.5,527.5 C401.8,528.0 399.0,529.6 397.5,531.6 C396.0,533.6 396.6,537.6 395.4,539.6 C394.3,541.6 392.3,543.7 390.4,543.7 C388.6,543.7 385.9,542.6 384.4,539.6 C382.9,536.6 381.5,529.9 381.3,525.5 C381.2,521.2 383.0,517.6 383.4,513.4 C383.7,509.2 381.3,502.3 383.4,500.3 Z" fill="#dfdfdf"/>
<g clip-path="url(#c20)">
<path d="M428.7,505.4 C429.9,502.9 433.9,503.7 435.7,506.4 C437.6,509.1 438.8,517.5 439.8,521.5 C440.8,525.5 443.1,528.5 441.8,530.6 C440.4,532.6 433.9,535.5 431.7,534.0 C429.5,532.5 429.2,526.3 428.7,521.5 C428.2,516.7 427.5,507.9 428.7,505.4 Z" fill="#bebebe"/>
<path d="M383.4,521.5 C384.9,521.5 387.7,523.2 389.4,525.5 C391.1,527.9 392.4,533.1 393.4,535.6 C394.4,538.1 396.0,539.1 395.4,540.6 C394.9,542.1 392.4,544.8 390.4,544.7 C388.4,544.5 385.0,542.8 383.4,539.6 C381.7,536.4 380.3,528.5 380.3,525.5 C380.3,522.5 381.8,521.5 383.4,521.5 Z" fill="#cdcdcd"/>
<path d="M455.9,525.5 C457.2,522.8 461.8,523.5 464.0,523.5 C466.1,523.5 468.7,522.8 469.0,525.5 C469.3,528.2 467.5,536.4 466.0,539.6 C464.5,542.8 461.6,544.7 459.9,544.7 C458.2,544.7 456.6,542.8 455.9,539.6 C455.2,536.4 454.6,528.2 455.9,525.5 Z" fill="#cdcdcd"/>
</g>
<path d="M383.4,500.3 C385.4,498.4 391.1,501.2 395.4,501.7 C399.8,502.2 404.5,502.8 409.6,503.4 C414.6,504.0 420.0,505.5 425.7,505.4 C431.4,505.2 438.4,502.9 443.8,502.4 C449.2,501.8 453.9,502.0 457.9,502.4 C461.9,502.7 466.5,502.9 468.0,504.4 C469.5,505.9 467.0,507.9 467.0,511.4 C467.0,514.9 468.2,521.0 468.0,525.5 C467.8,530.1 467.3,535.6 466.0,538.6 C464.6,541.6 461.9,543.5 459.9,543.7 C457.9,543.8 455.6,541.8 453.9,539.6 C452.2,537.4 452.2,532.2 449.8,530.6 C447.5,528.9 442.8,529.0 439.8,529.6 C436.8,530.1 433.4,530.6 431.7,533.6 C430.0,536.6 430.5,544.2 429.7,547.7 C428.9,551.2 427.7,554.4 426.7,554.7 C425.7,555.1 424.8,552.9 423.7,549.7 C422.5,546.5 421.3,539.1 419.6,535.6 C417.9,532.1 416.1,529.9 413.6,528.5 C411.1,527.2 407.2,527.0 404.5,527.5 C401.8,528.0 399.0,529.6 397.5,531.6 C396.0,533.6 396.6,537.6 395.4,539.6 C394.3,541.6 392.3,543.7 390.4,543.7 C388.6,543.7 385.9,542.6 384.4,539.6 C382.9,536.6 381.5,529.9 381.3,525.5 C381.2,521.2 383.0,517.6 383.4,513.4 C383.7,509.2 381.3,502.3 383.4,500.3 Z" fill="none" stroke="#777" stroke-width="1.7" stroke-linejoin="round"/>
<clipPath id="c21"><path d="M388.4,471.5 C391.4,466.8 398.3,467.9 405.5,466.7 C412.7,465.5 423.3,464.4 431.7,464.5 C440.1,464.5 449.7,465.6 455.9,467.1 C462.1,468.5 466.8,468.4 469.0,473.1 C471.2,477.8 471.2,490.3 469.0,495.3 C466.8,500.3 463.1,501.5 455.9,503.4 C448.7,505.2 435.1,506.4 425.7,506.4 C416.3,506.4 405.8,505.2 399.5,503.4 C393.2,501.5 389.6,500.6 387.8,495.3 C385.9,490.0 385.4,476.3 388.4,471.5 Z"/></clipPath>
<path d="M388.4,471.5 C391.4,466.8 398.3,467.9 405.5,466.7 C412.7,465.5 423.3,464.4 431.7,464.5 C440.1,464.5 449.7,465.6 455.9,467.1 C462.1,468.5 466.8,468.4 469.0,473.1 C471.2,477.8 471.2,490.3 469.0,495.3 C466.8,500.3 463.1,501.5 455.9,503.4 C448.7,505.2 435.1,506.4 425.7,506.4 C416.3,506.4 405.8,505.2 399.5,503.4 C393.2,501.5 389.6,500.6 387.8,495.3 C385.9,490.0 385.4,476.3 388.4,471.5 Z" fill="#dfdfdf"/>
<g clip-path="url(#c21)">
<path d="M399.5,487.2 C401.3,485.6 405.2,484.9 409.6,485.2 C413.9,485.6 420.3,489.3 425.7,489.3 C431.0,489.3 436.9,485.4 441.8,485.2 C446.7,485.1 452.5,486.6 454.9,488.2 C457.2,489.9 457.7,493.0 455.9,495.3 C454.0,497.5 448.8,500.2 443.8,501.7 C438.8,503.3 431.4,504.6 425.7,504.8 C420.0,504.9 414.1,504.3 409.6,502.8 C405.0,501.2 400.1,497.9 398.5,495.3 C396.8,492.7 397.6,488.9 399.5,487.2 Z" fill="#b9b9b9"/>
</g>
<path d="M388.4,471.5 C391.4,466.8 398.3,467.9 405.5,466.7 C412.7,465.5 423.3,464.4 431.7,464.5 C440.1,464.5 449.7,465.6 455.9,467.1 C462.1,468.5 466.8,468.4 469.0,473.1 C471.2,477.8 471.2,490.3 469.0,495.3 C466.8,500.3 463.1,501.5 455.9,503.4 C448.7,505.2 435.1,506.4 425.7,506.4 C416.3,506.4 405.8,505.2 399.5,503.4 C393.2,501.5 389.6,500.6 387.8,495.3 C385.9,490.0 385.4,476.3 388.4,471.5 Z" fill="none" stroke="#777" stroke-width="1.7" stroke-linejoin="round"/>
<path d="M411.6,472.3 C414.3,471.9 421.6,469.7 427.7,469.7 C433.7,469.7 444.5,471.9 447.8,472.3" fill="none" stroke="#999" stroke-width="1.1" stroke-linejoin="round" stroke-linecap="round"/>
<path d="M404.5,486.4 C406.4,486.6 412.1,486.7 415.6,487.2 C419.1,487.8 422.0,489.7 425.7,489.7 C429.4,489.6 433.9,487.6 437.8,486.8 C441.6,486.1 447.0,485.5 448.8,485.2" fill="none" stroke="#8a8a8a" stroke-width="1.2" stroke-linejoin="round" stroke-linecap="round"/>
<clipPath id="c22"><path d="M380.3,477.2 C381.7,475.0 385.0,474.5 387.4,474.1 C389.7,473.8 392.6,473.6 394.4,475.1 C396.3,476.7 397.6,480.2 398.5,483.2 C399.3,486.2 400.0,490.3 399.5,493.3 C399.0,496.3 397.5,499.7 395.4,501.3 C393.4,503.0 389.6,503.9 387.4,503.4 C385.2,502.9 383.7,501.0 382.4,498.3 C381.0,495.6 379.7,490.8 379.3,487.2 C379.0,483.7 379.0,479.3 380.3,477.2 Z"/></clipPath>
<path d="M380.3,477.2 C381.7,475.0 385.0,474.5 387.4,474.1 C389.7,473.8 392.6,473.6 394.4,475.1 C396.3,476.7 397.6,480.2 398.5,483.2 C399.3,486.2 400.0,490.3 399.5,493.3 C399.0,496.3 397.5,499.7 395.4,501.3 C393.4,503.0 389.6,503.9 387.4,503.4 C385.2,502.9 383.7,501.0 382.4,498.3 C381.0,495.6 379.7,490.8 379.3,487.2 C379.0,483.7 379.0,479.3 380.3,477.2 Z" fill="#dfdfdf"/>
<g clip-path="url(#c22)">
<path d="M388.4,476.2 C389.8,474.0 393.6,474.6 395.4,476.2 C397.3,477.7 398.9,482.0 399.5,485.2 C400.1,488.4 399.7,492.5 399.1,495.3 C398.4,498.1 396.9,501.2 395.4,501.7 C394.0,502.2 391.8,500.4 390.4,498.3 C389.0,496.2 387.3,492.9 387.0,489.3 C386.6,485.6 387.0,478.3 388.4,476.2 Z" fill="#cfcfcf"/>
</g>
<path d="M380.3,477.2 C381.7,475.0 385.0,474.5 387.4,474.1 C389.7,473.8 392.6,473.6 394.4,475.1 C396.3,476.7 397.6,480.2 398.5,483.2 C399.3,486.2 400.0,490.3 399.5,493.3 C399.0,496.3 397.5,499.7 395.4,501.3 C393.4,503.0 389.6,503.9 387.4,503.4 C385.2,502.9 383.7,501.0 382.4,498.3 C381.0,495.6 379.7,490.8 379.3,487.2 C379.0,483.7 379.0,479.3 380.3,477.2 Z" fill="none" stroke="#777" stroke-width="1.7" stroke-linejoin="round"/>
<clipPath id="c23"><path d="M453.9,481.2 C454.6,478.0 457.6,476.8 459.9,476.2 C462.3,475.5 465.6,475.7 468.0,477.2 C470.3,478.7 473.0,481.9 474.0,485.2 C475.0,488.6 475.0,494.1 474.0,497.3 C473.0,500.5 470.3,503.5 468.0,504.4 C465.6,505.2 461.9,503.9 459.9,502.4 C457.9,500.8 456.9,498.8 455.9,495.3 C454.9,491.8 453.2,484.4 453.9,481.2 Z"/></clipPath>
<path d="M453.9,481.2 C454.6,478.0 457.6,476.8 459.9,476.2 C462.3,475.5 465.6,475.7 468.0,477.2 C470.3,478.7 473.0,481.9 474.0,485.2 C475.0,488.6 475.0,494.1 474.0,497.3 C473.0,500.5 470.3,503.5 468.0,504.4 C465.6,505.2 461.9,503.9 459.9,502.4 C457.9,500.8 456.9,498.8 455.9,495.3 C454.9,491.8 453.2,484.4 453.9,481.2 Z" fill="#dfdfdf"/>
<g clip-path="url(#c23)">
<path d="M453.9,481.2 C454.4,478.2 457.7,476.2 458.9,477.2 C460.1,478.2 460.8,483.0 460.9,487.2 C461.1,491.4 460.8,501.0 459.9,502.4 C459.1,503.7 456.9,498.8 455.9,495.3 C454.9,491.8 453.4,484.2 453.9,481.2 Z" fill="#cfcfcf"/>
</g>
<path d="M453.9,481.2 C454.6,478.0 457.6,476.8 459.9,476.2 C462.3,475.5 465.6,475.7 468.0,477.2 C470.3,478.7 473.0,481.9 474.0,485.2 C475.0,488.6 475.0,494.1 474.0,497.3 C473.0,500.5 470.3,503.5 468.0,504.4 C465.6,505.2 461.9,503.9 459.9,502.4 C457.9,500.8 456.9,498.8 455.9,495.3 C454.9,491.8 453.2,484.4 453.9,481.2 Z" fill="none" stroke="#777" stroke-width="1.7" stroke-linejoin="round"/>
<rect x="180" y="831.8" width="500" height="9" fill="#fff"/>
<line x1="179.3" y1="684.4" x2="359.4" y2="709.3" stroke="#1d1d1b" stroke-width="1.7"/>
<line x1="164.4" y1="732.7" x2="396.0" y2="732.7" stroke="#1d1d1b" stroke-width="1.7"/>
<line x1="166.1" y1="778.9" x2="374.8" y2="778.9" stroke="#1d1d1b" stroke-width="1.7"/>
<line x1="675.9" y1="678.6" x2="492.0" y2="706.8" stroke="#1d1d1b" stroke-width="1.7"/>
<line x1="705.8" y1="734.7" x2="436.0" y2="734.7" stroke="#1d1d1b" stroke-width="1.7"/>
<line x1="704.5" y1="775.2" x2="460.9" y2="775.2" stroke="#1d1d1b" stroke-width="1.7"/>
<text x="160.3" y="689.8" font-size="28.6" text-anchor="start">2</text>
<text x="141.9" y="742.1" font-size="28.6" text-anchor="start">1</text>
<text x="142.9" y="791.5" font-size="28.6" text-anchor="start">3</text>
<text x="680.1" y="685.4" font-size="28.6" text-anchor="start">2.2</text>
<text x="709.3" y="747.2" font-size="28.6" text-anchor="start">1.3</text>
<text x="709.3" y="787.1" font-size="28.6" text-anchor="start">3.1</text>
</svg>
</body></html>
